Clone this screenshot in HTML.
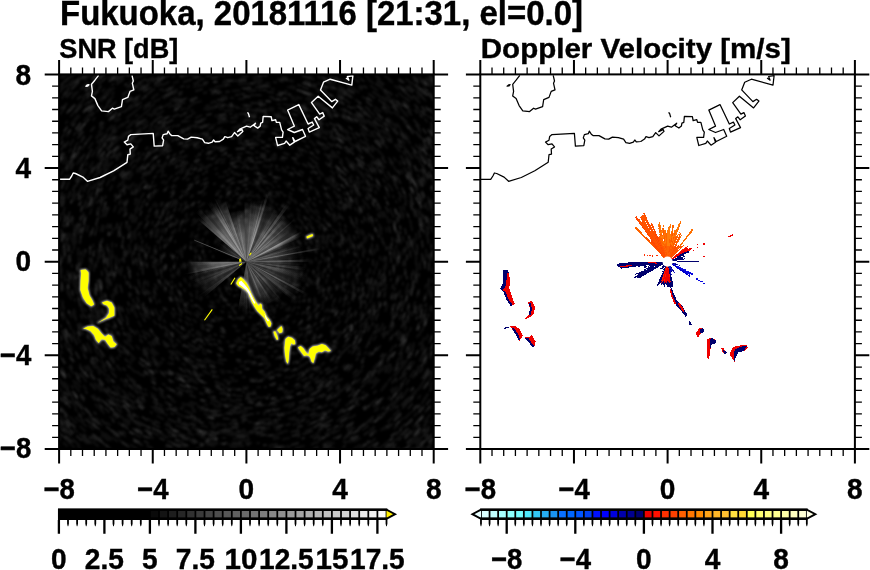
<!DOCTYPE html>
<html><head><meta charset="utf-8"><title>Fukuoka radar</title>
<style>html,body{margin:0;padding:0;background:#fff}svg{display:block}text{font-family:'Liberation Sans',sans-serif;font-weight:bold;fill:#000;stroke:#000;stroke-width:0.4px}</style>
</head><body>
<svg width="870" height="570" viewBox="0 0 870 570">
<defs>
<clipPath id="cl"><rect x="59.1" y="74.4" width="374.6" height="374.6"/></clipPath>
<clipPath id="cr"><rect x="480.3" y="74.4" width="374.6" height="374.6"/></clipPath>
<radialGradient id="h12" gradientUnits="userSpaceOnUse" cx="246.4" cy="261.7" r="12"><stop offset="0" stop-color="#eee" stop-opacity="0.5"/><stop offset="0.55" stop-color="#eee" stop-opacity="0.42"/><stop offset="0.85" stop-color="#ddd" stop-opacity="0.2"/><stop offset="1" stop-color="#ccc" stop-opacity="0"/></radialGradient>
<radialGradient id="h16" gradientUnits="userSpaceOnUse" cx="246.4" cy="261.7" r="16"><stop offset="0" stop-color="#eee" stop-opacity="0.5"/><stop offset="0.55" stop-color="#eee" stop-opacity="0.42"/><stop offset="0.85" stop-color="#ddd" stop-opacity="0.2"/><stop offset="1" stop-color="#ccc" stop-opacity="0"/></radialGradient>
<radialGradient id="h20" gradientUnits="userSpaceOnUse" cx="246.4" cy="261.7" r="20"><stop offset="0" stop-color="#eee" stop-opacity="0.5"/><stop offset="0.55" stop-color="#eee" stop-opacity="0.42"/><stop offset="0.85" stop-color="#ddd" stop-opacity="0.2"/><stop offset="1" stop-color="#ccc" stop-opacity="0"/></radialGradient>
<radialGradient id="h24" gradientUnits="userSpaceOnUse" cx="246.4" cy="261.7" r="24"><stop offset="0" stop-color="#eee" stop-opacity="0.5"/><stop offset="0.55" stop-color="#eee" stop-opacity="0.42"/><stop offset="0.85" stop-color="#ddd" stop-opacity="0.2"/><stop offset="1" stop-color="#ccc" stop-opacity="0"/></radialGradient>
<radialGradient id="h28" gradientUnits="userSpaceOnUse" cx="246.4" cy="261.7" r="28"><stop offset="0" stop-color="#eee" stop-opacity="0.5"/><stop offset="0.55" stop-color="#eee" stop-opacity="0.42"/><stop offset="0.85" stop-color="#ddd" stop-opacity="0.2"/><stop offset="1" stop-color="#ccc" stop-opacity="0"/></radialGradient>
<radialGradient id="h32" gradientUnits="userSpaceOnUse" cx="246.4" cy="261.7" r="32"><stop offset="0" stop-color="#eee" stop-opacity="0.5"/><stop offset="0.55" stop-color="#eee" stop-opacity="0.42"/><stop offset="0.85" stop-color="#ddd" stop-opacity="0.2"/><stop offset="1" stop-color="#ccc" stop-opacity="0"/></radialGradient>
<radialGradient id="h36" gradientUnits="userSpaceOnUse" cx="246.4" cy="261.7" r="36"><stop offset="0" stop-color="#eee" stop-opacity="0.5"/><stop offset="0.55" stop-color="#eee" stop-opacity="0.42"/><stop offset="0.85" stop-color="#ddd" stop-opacity="0.2"/><stop offset="1" stop-color="#ccc" stop-opacity="0"/></radialGradient>
<radialGradient id="h40" gradientUnits="userSpaceOnUse" cx="246.4" cy="261.7" r="40"><stop offset="0" stop-color="#eee" stop-opacity="0.5"/><stop offset="0.55" stop-color="#eee" stop-opacity="0.42"/><stop offset="0.85" stop-color="#ddd" stop-opacity="0.2"/><stop offset="1" stop-color="#ccc" stop-opacity="0"/></radialGradient>
<radialGradient id="h44" gradientUnits="userSpaceOnUse" cx="246.4" cy="261.7" r="44"><stop offset="0" stop-color="#eee" stop-opacity="0.5"/><stop offset="0.55" stop-color="#eee" stop-opacity="0.42"/><stop offset="0.85" stop-color="#ddd" stop-opacity="0.2"/><stop offset="1" stop-color="#ccc" stop-opacity="0"/></radialGradient>
<radialGradient id="h48" gradientUnits="userSpaceOnUse" cx="246.4" cy="261.7" r="48"><stop offset="0" stop-color="#eee" stop-opacity="0.5"/><stop offset="0.55" stop-color="#eee" stop-opacity="0.42"/><stop offset="0.85" stop-color="#ddd" stop-opacity="0.2"/><stop offset="1" stop-color="#ccc" stop-opacity="0"/></radialGradient>
<radialGradient id="h52" gradientUnits="userSpaceOnUse" cx="246.4" cy="261.7" r="52"><stop offset="0" stop-color="#eee" stop-opacity="0.5"/><stop offset="0.55" stop-color="#eee" stop-opacity="0.42"/><stop offset="0.85" stop-color="#ddd" stop-opacity="0.2"/><stop offset="1" stop-color="#ccc" stop-opacity="0"/></radialGradient>
<radialGradient id="h56" gradientUnits="userSpaceOnUse" cx="246.4" cy="261.7" r="56"><stop offset="0" stop-color="#eee" stop-opacity="0.5"/><stop offset="0.55" stop-color="#eee" stop-opacity="0.42"/><stop offset="0.85" stop-color="#ddd" stop-opacity="0.2"/><stop offset="1" stop-color="#ccc" stop-opacity="0"/></radialGradient>
<radialGradient id="h60" gradientUnits="userSpaceOnUse" cx="246.4" cy="261.7" r="60"><stop offset="0" stop-color="#eee" stop-opacity="0.5"/><stop offset="0.55" stop-color="#eee" stop-opacity="0.42"/><stop offset="0.85" stop-color="#ddd" stop-opacity="0.2"/><stop offset="1" stop-color="#ccc" stop-opacity="0"/></radialGradient>
<radialGradient id="h64" gradientUnits="userSpaceOnUse" cx="246.4" cy="261.7" r="64"><stop offset="0" stop-color="#eee" stop-opacity="0.5"/><stop offset="0.55" stop-color="#eee" stop-opacity="0.42"/><stop offset="0.85" stop-color="#ddd" stop-opacity="0.2"/><stop offset="1" stop-color="#ccc" stop-opacity="0"/></radialGradient>
<radialGradient id="h68" gradientUnits="userSpaceOnUse" cx="246.4" cy="261.7" r="68"><stop offset="0" stop-color="#eee" stop-opacity="0.5"/><stop offset="0.55" stop-color="#eee" stop-opacity="0.42"/><stop offset="0.85" stop-color="#ddd" stop-opacity="0.2"/><stop offset="1" stop-color="#ccc" stop-opacity="0"/></radialGradient>
<radialGradient id="h72" gradientUnits="userSpaceOnUse" cx="246.4" cy="261.7" r="72"><stop offset="0" stop-color="#eee" stop-opacity="0.5"/><stop offset="0.55" stop-color="#eee" stop-opacity="0.42"/><stop offset="0.85" stop-color="#ddd" stop-opacity="0.2"/><stop offset="1" stop-color="#ccc" stop-opacity="0"/></radialGradient>
<radialGradient id="h76" gradientUnits="userSpaceOnUse" cx="246.4" cy="261.7" r="76"><stop offset="0" stop-color="#eee" stop-opacity="0.5"/><stop offset="0.55" stop-color="#eee" stop-opacity="0.42"/><stop offset="0.85" stop-color="#ddd" stop-opacity="0.2"/><stop offset="1" stop-color="#ccc" stop-opacity="0"/></radialGradient>
<radialGradient id="h80" gradientUnits="userSpaceOnUse" cx="246.4" cy="261.7" r="80"><stop offset="0" stop-color="#eee" stop-opacity="0.5"/><stop offset="0.55" stop-color="#eee" stop-opacity="0.42"/><stop offset="0.85" stop-color="#ddd" stop-opacity="0.2"/><stop offset="1" stop-color="#ccc" stop-opacity="0"/></radialGradient>
<radialGradient id="h84" gradientUnits="userSpaceOnUse" cx="246.4" cy="261.7" r="84"><stop offset="0" stop-color="#eee" stop-opacity="0.5"/><stop offset="0.55" stop-color="#eee" stop-opacity="0.42"/><stop offset="0.85" stop-color="#ddd" stop-opacity="0.2"/><stop offset="1" stop-color="#ccc" stop-opacity="0"/></radialGradient>
<radialGradient id="h88" gradientUnits="userSpaceOnUse" cx="246.4" cy="261.7" r="88"><stop offset="0" stop-color="#eee" stop-opacity="0.5"/><stop offset="0.55" stop-color="#eee" stop-opacity="0.42"/><stop offset="0.85" stop-color="#ddd" stop-opacity="0.2"/><stop offset="1" stop-color="#ccc" stop-opacity="0"/></radialGradient>
<filter id="bl" x="-20%" y="-20%" width="140%" height="140%"><feGaussianBlur stdDeviation="0.9"/></filter>
<filter id="b2" x="-20%" y="-20%" width="140%" height="140%"><feGaussianBlur stdDeviation="0.6"/></filter>
<filter id="b3" x="-2%" y="-2%" width="104%" height="104%"><feGaussianBlur stdDeviation="0.8"/></filter>
</defs>
<rect width="870" height="570" fill="#fff"/>
<rect x="59.1" y="74.4" width="374.6" height="374.6" fill="#000"/>
<g clip-path="url(#cl)">
<path d="M180 131l3.9 -2.0M86 275l-0.3 -3.3M81 264l-0.0 -1.6M222 101l1.9 -0.3M218 384l-1.6 -0.4M143 309l-2.0 -4.3M275 223l2.1 1.6M77 396l-2.3 -2.9M113 119l2.6 -2.4M365 142l3.3 3.2M298 214l1.5 1.6M83 97l2.4 -2.4M314 235l0.6 1.5M278 244l0.5 0.9M357 336l-1.3 1.9M274 271l-0.6 1.7M332 182l3.4 3.7M103 231l1.0 -4.8M116 258l0.0 -1.3M309 361l-2.8 1.8M387 192l2.2 4.4M282 292l-1.0 1.1M374 428l-3.8 2.9M308 97l5.1 1.9M302 446l-6.3 1.9M166 219l1.4 -2.7M68 247l0.2 -2.5M103 96l5.3 -4.6M108 167l2.0 -2.9M386 105l3.5 3.1M265 405l-5.1 0.7M383 179l1.8 3.0M193 406l-5.7 -2.1M116 140l1.9 -2.1M147 256l0.2 -3.0M158 76l4.0 -1.9M197 287l-1.3 -2.5M318 268l-0.2 2.4M312 95l6.2 2.4M351 402l-4.8 3.6M206 224l0.6 -0.6M297 98l1.8 0.5M137 135l2.5 -2.1M79 74l2.4 -2.1M97 211l0.5 -1.4M387 304l-0.6 1.9M154 205l1.3 -2.0M105 392l-5.2 -5.6M234 256l0.2 -0.4M97 203l1.0 -2.6M370 135l1.2 1.1M415 272l-0.1 2.2M263 85l4.5 0.4M426 398l-4.1 5.3M157 212l0.8 -1.4M348 274l-0.4 3.7M183 158l3.8 -2.3M428 394l-4.4 6.0M366 352l-1.5 1.9M253 208l0.7 0.1M70 179l1.4 -2.9M319 433l-3.9 1.6M410 445l-6.8 6.1M196 157l1.8 -0.9M133 151l3.2 -3.3M396 389l-3.0 3.5M304 374l-1.3 0.7M307 415l-5.2 2.0M340 253l0.1 1.5M355 199l2.3 3.9M423 223l0.8 3.8M414 346l-1.2 2.3M107 131l4.8 -5.2M361 129l4.6 4.0M426 321l-1.1 3.5M265 123l1.3 0.2M423 318l-1.4 4.4M409 237l0.9 6.0M369 153l1.8 2.0M169 165l2.8 -2.2M156 231l0.4 -1.3M400 207l1.3 3.6M278 413l-3.4 0.7M403 262l-0.0 4.1M255 81l4.1 0.2M128 76l6.1 -3.9M124 252l0.3 -4.1M268 197l2.0 0.6M267 368l-1.4 0.3M269 167l1.8 0.4M348 265l-0.1 3.0M344 416l-3.5 2.2M289 264l-0.1 1.5M319 244l0.5 2.2M238 427l-5.1 -0.3M387 427l-2.7 2.3M269 428l-5.9 0.8M110 120l3.2 -3.0M86 165l1.0 -1.7M310 368l-4.2 2.5M117 343l-2.4 -3.9M113 405l-5.6 -5.2M141 431l-3.5 -2.2M242 445l-6.4 -0.2M120 236l0.7 -3.3M186 148l2.2 -1.2M330 82l4.6 2.1M224 81l3.4 -0.4M293 266l-0.1 0.7M428 370l-4.2 7.0M98 174l0.9 -1.5M351 176l1.1 1.4M217 416l-5.4 -1.0M156 130l5.0 -3.5M273 337l-1.0 0.4M81 332l-1.6 -3.6M86 426l-4.6 -4.5M359 106l5.5 4.0M84 398l-3.1 -3.6M186 282l-0.9 -2.9M159 123l3.6 -2.2M148 115l2.0 -1.3M78 150l2.0 -3.1M173 359l-1.8 -1.4M246 141l2.5 0.0M66 168l0.8 -1.6M334 281l-0.3 1.4M237 425l-2.0 -0.1M366 236l0.7 3.1M372 222l1.0 3.2M317 442l-3.5 1.4M371 339l-2.3 3.7M211 205l0.7 -0.5M108 101l5.0 -4.3M155 136l1.4 -1.0M374 401l-4.1 3.8M165 165l1.8 -1.5M231 133l3.1 -0.4M158 435l-6.7 -3.5M264 166l4.2 0.8M175 208l0.5 -0.7M202 252l0.3 -1.5M134 263l-0.0 -1.1M158 108l3.3 -1.9M75 83l3.1 -3.0M146 294l-0.9 -2.8M340 321l-2.0 3.2M388 220l0.8 2.8M428 130l4.0 5.6M300 91l6.0 1.9M393 309l-1.6 4.8M363 127l3.4 2.9M248 387l-4.5 0.1M369 293l-1.2 4.8M315 334l-1.3 1.2M71 124l2.7 -3.4M98 387l-3.3 -3.8M294 309l-1.7 1.8M242 76l6.3 -0.1M339 263l-0.0 2.7M306 99l5.2 1.9M154 102l2.7 -1.6M332 151l3.7 2.9M425 259l0.0 3.7M239 331l-2.8 -0.3M290 315l-0.7 0.6M114 170l3.0 -4.3M173 287l-0.3 -0.8M82 175l2.6 -4.9M318 328l-1.3 1.4M253 248l0.8 0.4M103 409l-2.2 -2.1M426 425l-1.4 1.6M231 382l-5.0 -0.6M227 175l1.5 -0.3M413 153l2.9 4.4M112 271l-0.4 -5.4M109 382l-3.0 -3.4M391 338l-1.2 2.3M395 257l0.0 1.4M60 259l0.1 -4.2M172 127l2.7 -1.5M178 389l-1.1 -0.6M340 389l-1.6 1.2M406 341l-3.0 5.9M168 214l1.1 -1.9M433 295l-0.7 3.7M219 177l1.0 -0.3M97 387l-2.2 -2.6M410 168l1.6 2.8M251 146l2.5 0.1M417 406l-4.8 5.7M295 417l-6.0 1.9M265 344l-1.0 0.2M333 243l0.7 3.2M301 182l0.9 0.6M406 122l3.2 3.7M188 186l2.7 -2.1M425 172l2.6 5.2M172 283l-0.5 -1.9M122 135l1.9 -1.9M398 261l0.0 2.4M399 448l-4.1 3.4M111 146l1.3 -1.5M187 109l2.5 -1.0M156 288l-1.1 -3.7M340 229l0.8 2.3M255 216l1.2 0.2M82 178l3.3 -6.4M106 263l-0.0 -4.1M382 155l1.8 2.3M152 224l0.9 -2.4M416 392l-4.6 6.0M67 86l5.2 -5.3M395 252l0.3 4.1M59 221l1.5 -7.0M368 395l-5.2 4.8M152 115l2.0 -1.3M255 330l-3.2 0.4M329 317l-2.0 3.0M230 281l-0.3 -0.3M352 162l3.9 4.1M301 188l1.0 0.8M153 313l-1.7 -3.1M101 101l4.0 -3.6M277 220l0.9 0.6M284 78l3.3 0.7M232 434l-5.0 -0.4M390 252l0.2 2.4M152 434l-5.3 -2.9M174 83l4.3 -1.7M312 232l0.6 1.3M309 421l-2.5 1.0M72 201l1.3 -3.8M315 149l4.0 2.4M336 264l-0.0 1.5M422 191l2.4 6.0M146 157l3.5 -3.4M170 431l-4.1 -1.9M129 158l2.3 -2.6M308 430l-2.2 0.8M206 154l4.6 -1.7M112 94l1.7 -1.4M206 411l-5.6 -1.5M334 448l-7.0 3.3M182 144l4.7 -2.6M339 86l5.1 2.7M201 214l1.1 -1.1M123 75l3.2 -2.1M191 432l-2.1 -0.7M420 152l2.1 3.4M367 382l-2.7 2.7M78 252l0.2 -3.5M404 147l2.3 3.1M395 86l3.7 3.1M363 362l-1.0 1.2M72 98l6.0 -6.3M155 354l-3.6 -3.5M186 176l3.6 -2.6M290 173l3.1 1.5M178 178l0.8 -0.6M342 418l-4.5 2.7M412 83l2.7 2.6M237 433l-6.7 -0.4M204 168l2.3 -1.0M244 422l-2.3 -0.0M360 351l-3.2 4.1M349 302l-0.8 2.1M179 210l2.0 -2.6M89 148l3.6 -5.1M152 99l1.6 -0.9M266 196l3.2 1.0M390 444l-3.0 2.4M91 111l3.6 -3.7M325 242l0.4 1.5M215 307l-1.8 -1.2M339 392l-3.9 2.8M104 389l-2.3 -2.5M271 214l2.0 1.1M134 167l1.6 -1.9M117 406l-3.8 -3.5M181 223l1.8 -3.1M249 161l3.8 0.1M304 446l-2.1 0.7M237 381l-4.5 -0.4M402 90l3.0 2.7M104 145l4.6 -5.6M278 423l-3.3 0.6M384 243l0.3 2.4M350 429l-2.0 1.2M282 307l-0.9 0.7M197 127l2.1 -0.8M155 299l-1.2 -3.0M135 79l3.4 -2.1M313 144l2.3 1.3M135 372l-2.9 -2.9M83 112l3.1 -3.4M265 314l-0.8 0.3M120 335l-1.6 -2.8M165 190l3.0 -3.4M176 287l-0.6 -1.7M215 398l-5.7 -1.3M195 148l3.8 -1.7M135 77l6.7 -4.0M218 382l-2.7 -0.6M390 247l0.2 2.0M65 281l-0.6 -5.2M400 108l4.2 4.2M198 263l-0.0 -0.9M165 270l-0.3 -3.6M100 258l0.1 -5.1M421 148l1.4 2.2M412 440l-4.1 3.8M79 421l-3.2 -3.4M398 307l-1.6 5.4M119 369l-1.7 -2.0M211 391l-4.7 -1.3M128 156l2.3 -2.6M253 218l0.8 0.1M152 346l-3.3 -3.7M74 285l-0.8 -5.6M73 388l-1.5 -2.1M284 280l-0.8 1.5M174 232l1.0 -2.3M219 321l-1.7 -0.8M223 83l5.0 -0.7M242 163l3.6 -0.1M351 246l0.2 1.6M236 115l1.9 -0.1M220 109l3.5 -0.6M250 90l5.0 0.1M90 349l-2.9 -5.2M251 95l4.1 0.1M201 431l-2.2 -0.6M380 448l-5.7 4.1M364 147l4.6 4.7M243 433l-6.5 -0.1M121 370l-4.2 -4.8M84 206l1.8 -5.3M119 410l-2.5 -2.2M365 128l3.3 2.9M404 152l1.8 2.6M249 194l0.8 0.0M127 135l4.9 -4.6M314 410l-2.1 0.9M353 118l3.7 2.7M297 209l2.3 2.2M267 292l-1.7 1.2M98 446l-5.1 -4.1M207 373l-2.0 -0.7M430 291l-0.6 3.7M346 240l0.3 1.5M338 92l5.8 3.1M154 314l-2.3 -4.0M279 323l-1.4 0.7M60 87l2.2 -2.4M290 236l0.9 1.5M395 124l2.1 2.3M304 83l1.5 0.5M192 114l3.0 -1.1M143 293l-0.9 -3.1M136 308l-1.2 -2.8M110 425l-2.6 -2.2M115 110l4.3 -3.7M385 367l-2.3 3.0M158 79l5.2 -2.5M270 206l2.1 0.9M225 425l-5.3 -0.7M152 413l-1.5 -0.9M258 226l0.9 0.3M81 366l-0.9 -1.5M265 427l-2.2 0.3M134 302l-1.1 -3.0M299 379l-1.7 0.8M175 187l0.8 -0.8M392 368l-3.3 4.6M61 391l-4.0 -5.8M233 352l-2.3 -0.3M144 114l2.4 -1.6M74 200l2.0 -5.6M319 391l-4.1 2.3M159 282l-0.5 -2.2M354 270l-0.2 2.0M300 436l-2.7 0.8M389 80l3.0 2.3M148 353l-3.7 -4.0M339 197l2.6 3.6M182 164l3.9 -2.6M295 334l-2.5 1.7M426 250l0.4 6.3M320 396l-3.1 1.7M331 288l-0.6 1.8M139 308l-0.5 -1.3M400 129l1.2 1.4M99 422l-3.1 -2.8M112 85l1.7 -1.3M319 312l-1.8 2.5M335 99l4.4 2.4M195 381l-4.3 -1.9M393 99l5.7 5.2M402 428l-1.9 1.8M136 116l1.4 -1.1M377 379l-3.4 3.7M368 311l-0.9 2.3M97 111l4.8 -4.8M136 194l1.6 -2.6M67 171l1.6 -3.1M327 212l1.0 1.7M420 263l-0.0 6.2M291 86l3.8 1.0M223 364l-2.2 -0.5M323 276l-0.3 1.4M382 108l5.2 4.6M123 75l2.7 -1.8M345 441l-1.5 0.8M358 144l2.9 2.7M189 386l-2.2 -1.0M413 181l1.2 2.5M321 261l0.0 1.1M298 105l5.3 1.7M320 369l-3.2 2.2M192 225l1.0 -1.4M393 107l5.6 5.3M69 152l1.8 -2.9M397 262l-0.0 3.2M390 162l2.3 3.3M258 357l-3.5 0.4M301 205l1.3 1.2M117 390l-3.8 -3.8M337 138l2.8 2.1M349 291l-0.4 1.4M232 406l-2.4 -0.2M131 187l2.4 -3.7M375 132l1.7 1.7M152 197l1.8 -2.6M119 197l1.0 -1.9M424 347l-1.0 2.1M420 112l3.0 3.5M428 372l-3.4 5.6M222 148l3.5 -0.8M99 152l2.3 -3.1M72 224l1.3 -5.9M319 262l-0.0 2.5M233 128l3.9 -0.4M211 352l-3.8 -1.5M220 289l-1.3 -1.3M217 160l3.5 -1.0M389 364l-3.2 4.4M378 329l-2.0 3.9M229 192l2.4 -0.6M96 232l1.0 -5.1M326 310l-0.9 1.5M218 245l0.8 -1.3M212 327l-3.0 -1.5M128 320l-2.0 -4.1M205 258l0.2 -2.4M73 278l-0.2 -2.4M352 427l-4.1 2.6M97 290l-0.7 -3.9M328 266l-0.2 2.7M370 270l-0.2 2.8M414 153l3.2 5.0M206 360l-1.3 -0.5M428 208l0.6 1.9M162 224l0.4 -0.9M216 232l1.3 -1.3M191 174l1.5 -1.0M337 426l-4.1 2.3M141 375l-2.4 -2.3M139 123l4.6 -3.6M362 312l-1.2 2.9M270 159l4.4 1.0M191 314l-2.1 -2.3M365 250l0.2 2.3M264 121l5.1 0.7M192 393l-2.3 -1.0M200 169l2.2 -1.1M129 75l5.7 -3.6M164 166l1.8 -1.6M239 235l1.3 -0.4M306 210l2.3 2.7M379 96l5.7 4.5M398 368l-1.4 2.0M371 312l-0.5 1.2M63 431l-4.8 -5.2M153 112l2.0 -1.2M147 365l-2.1 -2.0M116 413l-5.0 -4.3M122 408l-4.0 -3.4M352 325l-2.5 4.1M354 389l-1.9 1.6M319 273l-0.4 2.8M223 405l-3.9 -0.6M158 162l1.4 -1.2M244 96l3.9 -0.1M113 258l0.1 -3.4M261 398l-1.2 0.1M374 250l0.3 3.6M308 389l-2.7 1.3M216 434l-1.9 -0.3M298 313l-0.6 0.6M287 330l-3.1 1.8M183 442l-4.4 -1.6M241 411l-1.5 -0.1M328 309l-1.0 1.8M382 212l1.2 3.3M256 363l-1.7 0.2M222 233l1.1 -1.0M369 184l2.8 4.4M210 263l-0.0 -1.0M249 440l-5.2 0.1M356 198l1.2 2.2M171 294l-1.1 -2.5M353 89l5.3 3.3M391 279l-0.2 1.5M172 77l2.7 -1.1M404 302l-1.2 4.7M355 415l-4.3 3.0M290 309l-1.8 1.7M282 329l-1.2 0.7M309 246l0.6 2.5M97 142l1.1 -1.4M349 417l-4.5 3.0M197 383l-4.3 -1.7M270 171l1.8 0.5M217 194l1.8 -0.8M300 424l-1.7 0.5M272 89l2.1 0.3M363 290l-1.1 4.7M226 80l3.8 -0.4M281 426l-6.6 1.4M237 229l0.6 -0.2M301 154l1.5 0.8M65 76l5.4 -5.3M105 436l-1.9 -1.6M385 123l1.3 1.2M329 165l3.2 2.8M129 93l5.5 -3.8M326 395l-4.3 2.6M91 310l-1.5 -4.9M232 424l-2.7 -0.2M420 343l-0.7 1.5M65 318l-1.9 -6.2M89 191l2.3 -5.0M121 397l-3.2 -3.0M81 212l1.3 -4.4M223 328l-1.1 -0.4M358 210l1.6 3.4M295 231l0.8 1.3M354 428l-5.5 3.5M271 184l0.9 0.3M424 338l-2.6 6.1M183 301l-1.9 -3.0M371 300l-0.7 2.4M220 407l-3.1 -0.6M316 300l-1.7 3.0M362 181l0.7 1.0M158 233l0.9 -2.7M365 407l-1.4 1.2M371 378l-4.2 4.5M273 177l3.4 1.1M361 331l-2.7 4.5M189 106l4.1 -1.5M358 149l3.7 3.7M408 162l2.7 4.5M313 249l0.2 1.2M155 356l-3.3 -3.2M231 107l5.4 -0.5M348 162l2.8 2.8M395 406l-3.6 3.7M238 295l-0.8 -0.2M131 142l3.7 -3.6M195 286l-0.7 -1.4M253 130l1.4 0.1M433 215l0.6 2.2M296 369l-1.6 0.7M283 204l1.8 1.1M67 87l6.7 -6.9M384 257l0.1 3.8M157 366l-2.4 -2.1M414 362l-3.4 5.7M420 170l0.9 1.7M134 142l1.4 -1.3M78 283l-0.8 -6.1M231 429l-6.3 -0.6M83 298l-0.8 -3.5M104 434l-2.8 -2.3M271 314l-2.6 1.2M310 222l1.1 1.7M119 436l-6.8 -5.0M142 89l2.8 -1.7M191 413l-5.7 -2.1M373 92l5.6 4.1M325 317l-2.4 3.5M80 129l4.2 -5.3M411 328l-1.2 3.0M281 358l-1.3 0.4M180 171l1.2 -0.9M239 138l2.1 -0.1M113 328l-0.6 -1.2M328 147l1.1 0.8M407 157l4.0 6.1M384 407l-1.9 1.8M227 111l5.9 -0.8M375 310l-1.1 3.1M186 383l-3.0 -1.5M294 128l2.2 0.8M80 342l-2.1 -4.3M113 401l-2.3 -2.2M213 133l2.3 -0.6M374 200l0.9 1.8M243 194l3.1 -0.2M102 441l-1.8 -1.4M394 325l-1.0 2.3M238 182l1.6 -0.2M135 211l2.2 -4.7M433 421l-1.8 2.1M168 410l-1.6 -0.8M331 184l3.3 3.6M65 377l-2.2 -3.4M112 75l6.3 -4.6M256 144l2.8 0.2M401 156l2.8 4.1M111 142l3.9 -4.5M326 148l1.3 0.9M92 302l-1.0 -3.8M162 152l3.2 -2.5M324 378l-3.3 2.2M135 99l5.1 -3.5M212 345l-1.0 -0.4M363 200l2.3 4.3M383 259l0.0 1.3M400 253l0.3 5.7M159 144l4.2 -3.2M197 136l2.7 -1.1M282 76l4.6 0.9M226 268l-0.1 -0.5M327 380l-4.4 3.0M179 341l-1.8 -1.5M341 97l5.9 3.4M416 260l0.0 4.3M258 276l-0.3 0.2M421 158l1.5 2.5M98 168l3.2 -5.1M70 111l4.5 -5.2M132 81l4.9 -3.1M275 270l-0.4 1.5M98 400l-4.3 -4.6M76 120l3.3 -4.0M247 179l1.2 0.0M211 126l3.9 -1.0M382 130l3.5 3.6M339 136l4.5 3.3M410 220l0.9 3.6M374 271l-0.2 2.8M412 365l-2.0 3.2M149 200l1.5 -2.3M427 376l-4.2 6.6M364 392l-1.3 1.2M253 433l-6.6 0.2M152 233l0.9 -3.0M196 273l-0.2 -0.7M221 263l-0.0 -0.4M111 438l-5.7 -4.4M410 312l-1.7 5.6M390 406l-1.4 1.4M299 174l2.9 1.8M162 278l-0.7 -3.7M292 168l2.6 1.3M222 431l-3.0 -0.4M174 317l-0.8 -1.0M282 433l-4.3 0.9M160 249l0.4 -2.5M115 121l1.8 -1.7M169 227l0.7 -1.6M150 107l4.0 -2.5M374 303l-1.1 3.5M303 150l3.7 1.9M232 280l-1.0 -0.8M235 191l1.4 -0.2M142 266l-0.1 -2.4M278 79l3.6 0.6M382 164l2.6 3.6M243 181l3.8 -0.1M170 364l-1.5 -1.1M84 401l-3.1 -3.6M82 220l1.0 -3.7M335 115l2.3 1.4M418 351l-1.2 2.3M185 206l1.9 -2.1M290 393l-4.7 1.6M253 351l-3.3 0.2M344 252l0.3 3.6M325 417l-2.0 1.0M385 76l5.9 4.4M279 261l0.1 2.0M273 231l1.5 1.3M386 302l-0.9 3.0M229 246l0.9 -1.1M169 221l1.2 -2.3M203 195l2.6 -1.7M377 262l0.0 3.1M128 188l1.0 -1.6M275 292l-0.5 0.5M404 196l2.3 5.6M373 434l-2.5 1.9M219 416l-1.4 -0.2M77 286l-0.6 -4.1M404 364l-2.6 4.0M433 268l-0.2 4.6M316 220l1.0 1.6M282 206l2.7 1.7M313 271l-0.1 1.0M199 225l1.2 -1.6M274 404l-5.7 1.1M241 239l1.2 -0.3M432 203l1.5 4.7M365 138l2.3 2.2M426 384l-3.0 4.3M100 409l-4.4 -4.4M366 445l-6.6 4.3M217 133l2.4 -0.6M130 143l3.4 -3.4M285 207l2.7 1.9M298 90l3.7 1.1M354 189l2.3 3.5M61 188l2.5 -6.5M279 325l-1.1 0.6M246 282l-0.7 -0.0M301 273l-0.6 2.9M274 228l0.6 0.5M118 359l-1.2 -1.6M97 138l3.1 -3.7M367 304l-1.5 4.4M82 79l5.8 -5.2M180 342l-1.8 -1.4M123 174l1.0 -1.5M398 293l-0.6 3.0M228 219l0.6 -0.3M393 293l-1.2 5.9M224 307l-1.0 -0.5M76 423l-5.6 -5.9M177 411l-5.2 -2.4M173 300l-1.7 -3.3M245 430l-2.8 -0.0M205 344l-1.4 -0.7M175 402l-3.4 -1.7M356 166l1.4 1.6M193 144l4.9 -2.2M168 285l-0.3 -1.1M259 219l1.3 0.4M84 121l4.8 -5.5M191 166l1.5 -0.9M165 163l1.0 -0.8M308 202l0.9 1.0M324 109l2.6 1.3M372 122l3.1 2.8M372 376l-1.6 1.7M191 345l-1.9 -1.3M418 152l4.2 6.5M248 160l2.6 0.0M108 339l-1.3 -2.4M396 295l-0.7 3.1M151 302l-0.7 -1.6M386 120l3.5 3.4M262 176l3.2 0.6M203 321l-1.9 -1.4M176 220l0.5 -0.9M125 393l-2.5 -2.3M307 115l3.9 1.6M195 262l-0.0 -1.2M84 191l1.1 -2.6M106 343l-1.4 -2.5M210 415l-5.2 -1.2M390 397l-1.7 1.8M163 85l5.2 -2.5M308 206l1.4 1.5M306 336l-1.4 1.1M376 206l1.6 3.8M127 118l5.4 -4.4M334 341l-0.8 0.9M74 135l1.8 -2.5M173 217l0.5 -0.8M176 314l-0.8 -1.2M374 288l-0.9 4.2M155 237l0.8 -3.1M190 75l6.5 -2.0M350 182l0.8 1.1M379 302l-0.4 1.4M151 116l4.9 -3.2M138 417l-5.0 -3.5M91 335l-1.5 -3.3M339 385l-2.2 1.7M93 429l-3.6 -3.3M408 333l-2.3 5.2M370 310l-1.2 3.0M79 336l-1.6 -3.7M251 422l-2.1 0.1M345 91l5.2 3.0M361 172l2.4 3.1M422 313l-1.3 4.5M153 97l3.3 -1.9M213 150l2.2 -0.7M110 339l-2.4 -4.1M148 165l2.5 -2.5M226 425l-3.3 -0.4M171 406l-1.9 -1.0M270 199l2.6 1.0M264 359l-1.5 0.3M309 299l-1.0 1.7M346 386l-1.5 1.2M167 209l0.9 -1.3M82 180l1.2 -2.4M322 242l0.3 1.1M181 250l0.3 -1.6M122 101l1.4 -1.1M431 356l-1.0 2.0M328 442l-4.7 2.1M100 258l0.1 -3.4M130 278l-0.2 -1.1M404 316l-1.6 4.5M409 319l-0.9 2.7M151 126l1.3 -0.9M349 389l-2.3 1.9M129 313l-1.9 -4.4M406 138l4.1 5.3M370 352l-1.8 2.4M128 384l-2.3 -2.2M197 281l-0.5 -1.3M371 164l1.0 1.2M271 310l-2.2 1.1M323 413l-5.9 3.0M118 187l2.1 -3.6M89 332l-1.0 -2.2M225 438l-2.0 -0.2M74 239l0.3 -2.5M330 75l6.4 2.9M380 369l-2.4 3.0M165 322l-1.7 -2.2M217 201l1.7 -0.8M309 384l-4.7 2.4M121 185l1.8 -2.9M270 205l1.1 0.4M91 196l1.5 -3.6M423 415l-5.3 6.2M424 435l-4.7 4.8M363 97l4.9 3.4M287 186l2.3 1.3M416 254l0.2 5.0M171 203l2.4 -3.1M70 145l3.4 -5.2M227 106l4.7 -0.6M198 292l-0.9 -1.4M258 286l-0.9 0.4M102 142l4.4 -5.3M264 116l5.4 0.7M154 110l3.9 -2.3M153 258l0.1 -2.7M144 289l-0.4 -1.4M251 295l-0.6 0.1M212 102l3.6 -0.8M383 281l-0.6 4.4M343 117l5.8 3.9M329 113l5.2 2.9M206 139l5.1 -1.7M270 365l-1.5 0.3M350 96l2.6 1.6M199 80l4.9 -1.3M139 187l2.4 -3.5M219 407l-4.2 -0.8M386 285l-0.9 5.4M385 137l4.0 4.4M187 360l-3.2 -1.9M368 120l2.9 2.5M335 430l-5.2 2.8M75 301l-0.5 -2.0M265 375l-1.5 0.2M406 327l-1.1 2.7M131 242l0.8 -4.3M277 117l1.4 0.3M100 374l-1.6 -2.1M267 183l2.8 0.7M202 128l5.0 -1.7M261 333l-2.9 0.6M415 80l3.4 3.1M116 262l-0.0 -5.0M359 88l2.4 1.6M366 329l-1.5 2.6M237 134l4.8 -0.3M206 401l-4.0 -1.2M88 198l1.0 -2.5M394 295l-0.3 1.5M123 210l1.3 -3.0M275 220l1.1 0.8M61 291l-0.6 -3.5M67 246l0.6 -7.1M76 129l3.9 -5.0M161 177l2.2 -2.2M157 288l-0.7 -2.5M418 446l-1.7 1.6M269 363l-4.0 0.9M349 312l-1.5 3.2M195 180l3.1 -1.9M386 426l-4.8 4.1M173 360l-3.4 -2.5M250 312l-1.3 0.1M265 226l0.5 0.3M185 195l3.0 -2.8M239 212l1.1 -0.2M147 205l0.8 -1.4M62 401l-3.1 -4.1M226 287l-0.8 -0.6M122 99l2.9 -2.2M175 347l-2.4 -2.0M410 202l2.3 6.2M278 104l2.3 0.5M277 444l-3.6 0.6M349 235l1.1 4.1M84 256l0.2 -6.1M162 171l0.9 -0.8M121 175l2.7 -4.0M141 224l0.6 -1.7M285 398l-4.1 1.2M133 349l-3.5 -4.6M284 104l5.5 1.3M387 202l0.8 1.9M130 276l-0.5 -4.5M299 420l-2.4 0.8M182 355l-2.9 -2.0M211 329l-1.5 -0.8M81 230l0.3 -1.7M294 200l1.8 1.4M283 171l2.4 0.9M64 421l-4.1 -4.6M429 95l4.5 4.9M330 198l0.8 1.1M118 128l4.4 -4.2M93 379l-2.6 -3.3M261 295l-1.3 0.6M305 300l-0.9 1.4M337 171l3.0 3.0M345 365l-2.0 1.9M349 441l-4.0 2.3M163 270l-0.4 -3.7M108 78l4.2 -3.2M305 364l-2.2 1.2M430 160l3.2 5.8M93 85l2.2 -1.9M82 262l-0.0 -4.4M127 426l-3.3 -2.4M115 141l3.9 -4.2M404 135l1.2 1.5M351 165l4.0 4.3M246 313l-1.3 -0.0M359 247l0.3 2.3M398 115l4.6 4.7M84 316l-1.2 -3.5M383 97l4.3 3.5M213 419l-6.1 -1.3M294 158l1.8 0.8M157 237l0.4 -1.6M135 359l-2.9 -3.3M171 447l-2.8 -1.1M272 133l4.9 1.0M385 175l2.9 4.5M367 180l1.6 2.4M241 408l-2.1 -0.1M315 298l-1.0 1.9M276 405l-2.2 0.5M390 209l1.8 4.9M383 143l4.3 4.9M432 186l0.7 1.7M101 439l-1.5 -1.2M401 131l4.1 4.8M96 138l3.7 -4.5M93 202l2.3 -5.9M327 405l-5.7 3.3M71 162l3.3 -5.8M317 89l4.2 1.7M146 236l0.3 -1.3M67 446l-3.3 -3.2M388 120l3.4 3.4M110 235l0.4 -2.0M316 130l4.3 2.3M247 116l3.0 0.0M245 419l-3.1 -0.0M140 437l-6.3 -3.8M333 177l1.3 1.3M158 100l1.6 -0.9M250 227l1.4 0.1M195 78l5.5 -1.6M304 278l-0.5 1.9M318 442l-6.5 2.6M328 224l0.8 1.7M216 439l-3.7 -0.6M203 228l0.6 -0.7M433 76l4.9 5.0M406 170l2.6 4.4M200 165l1.6 -0.7M103 390l-4.3 -4.8M399 93l5.0 4.5M181 316l-1.6 -2.0M177 438l-1.5 -0.6M339 394l-3.3 2.3M281 447l-2.9 0.5M295 353l-2.1 1.1M326 222l1.1 2.3M289 328l-1.5 0.9M295 278l-0.3 1.0M289 174l3.7 1.8M236 345l-2.4 -0.3M238 157l1.5 -0.1M406 272l-0.3 4.1M257 379l-2.0 0.2M124 382l-2.8 -2.9M299 384l-4.7 2.0M384 91l3.4 2.8M371 381l-1.5 1.6M117 169l1.1 -1.6M193 375l-3.0 -1.4M229 107l3.3 -0.4M433 335l-1.6 4.2M238 373l-3.9 -0.3M115 329l-1.4 -2.7M254 163l2.2 0.2M186 217l0.5 -0.7M134 288l-0.3 -1.3M126 343l-1.5 -2.1M180 165l3.6 -2.5M93 313l-1.9 -5.6M135 233l1.0 -4.0M291 214l0.6 0.5M225 212l2.0 -0.9M170 227l1.2 -2.6M363 206l1.2 2.5M276 421l-2.4 0.4M423 341l-1.6 3.6M308 198l0.8 0.8M342 217l1.2 2.6M245 412l-5.0 -0.0M69 296l-0.8 -4.1M232 389l-2.9 -0.3M237 408l-3.4 -0.2M368 326l-2.1 4.1M210 90l5.2 -1.1M267 363l-3.7 0.7M103 157l1.2 -1.6M365 112l1.7 1.3M341 286l-0.3 1.1M314 341l-2.1 1.8M80 333l-1.6 -3.6M278 448l-6.4 1.1M386 129l2.5 2.6M253 77l7.4 0.3M162 173l1.7 -1.7M155 396l-3.6 -2.4M251 232l0.5 0.1M173 399l-4.8 -2.5M380 171l1.4 2.0M79 276l-0.3 -3.5M233 258l0.3 -0.9M196 375l-1.8 -0.8M403 283l-0.2 1.6M177 274l-0.3 -1.8M271 196l1.4 0.5M357 184l2.5 3.6M360 296l-0.8 2.8M409 241l0.8 6.0M81 237l0.7 -4.8M77 398l-1.4 -1.8M282 142l4.8 1.4M269 374l-3.0 0.6M312 327l-1.3 1.3M138 388l-1.7 -1.4M403 152l1.3 1.8M95 368l-4.1 -5.8M214 321l-1.2 -0.7M398 331l-0.9 2.1M80 335l-0.7 -1.6M372 184l1.3 2.1M277 194l2.1 1.0M117 416l-2.9 -2.4M374 131l4.4 4.3M426 221l0.4 1.7M201 314l-1.0 -0.9M264 109l3.6 0.4M332 235l0.9 2.9M102 385l-1.5 -1.8M405 448l-6.9 5.9M256 183l1.8 0.2M340 260l0.1 4.0M94 256l0.2 -5.6M283 277l-0.3 0.6M111 176l3.2 -5.1M376 160l3.9 5.0M71 299l-1.5 -6.9M188 428l-4.9 -1.7M78 199l1.4 -3.8M152 352l-1.4 -1.4M354 186l0.9 1.2M269 110l4.0 0.6M354 298l-0.9 2.7M72 267l-0.1 -2.0M301 124l3.8 1.5M191 215l1.7 -2.0M120 138l4.8 -4.8M183 390l-4.8 -2.4M239 130l1.6 -0.1M388 118l3.4 3.4M260 118l3.5 0.3M121 275l-0.3 -3.3M197 148l2.6 -1.1M135 122l2.3 -1.8M386 262l-0.0 5.3M65 428l-3.8 -4.2M355 288l-0.9 3.6M145 355l-1.3 -1.4M158 86l3.6 -1.8M253 184l3.4 0.3M91 291l-0.5 -2.5M282 368l-3.6 1.2M82 166l2.6 -4.5M427 90l4.7 4.9M318 380l-2.4 1.5M363 247l0.6 4.7M63 427l-3.4 -3.8M212 107l2.6 -0.6M334 329l-1.0 1.3M188 127l2.1 -0.9M141 198l2.7 -4.4M433 371l-2.5 4.3M245 366l-4.3 -0.0M341 313l-0.8 1.5M293 391l-4.5 1.6M94 343l-1.6 -3.0M120 436l-5.1 -3.7M338 125l4.8 3.2M410 413l-4.7 5.1M371 375l-3.1 3.4M222 384l-4.3 -0.9M385 186l3.0 5.5M258 429l-2.1 0.1M422 369l-1.7 2.8M373 161l1.5 1.9M231 163l2.6 -0.4M399 331l-2.2 4.8M206 368l-3.9 -1.5M315 427l-5.7 2.4M211 107l4.6 -1.0M372 202l1.7 3.6M372 371l-1.0 1.1M242 81l2.2 -0.0M363 231l0.9 3.5M230 200l1.2 -0.3M192 391l-3.8 -1.6M169 107l2.7 -1.3M322 240l0.8 2.6M361 120l4.3 3.5M75 383l-1.7 -2.4M161 433l-3.4 -1.7M143 408l-4.1 -2.9M394 222l1.0 3.7M417 264l-0.1 6.9M130 386l-1.7 -1.6M257 75l2.6 0.1M413 245l0.6 5.8M153 206l0.7 -1.2M266 397l-3.5 0.5M200 422l-6.0 -1.7M309 103l4.5 1.8M225 433l-3.5 -0.4M307 311l-1.2 1.5M255 328l-3.0 0.4M246 211l2.7 -0.0M80 387l-3.7 -4.9M268 242l1.1 1.2M393 347l-2.8 4.8M72 196l0.8 -2.2M416 408l-1.9 2.2M279 290l-0.4 0.5M206 354l-3.0 -1.3M164 360l-1.8 -1.5M263 232l1.9 1.0M302 376l-3.6 1.8M202 435l-5.4 -1.4M318 178l1.2 1.1M275 384l-4.4 1.0M189 127l3.5 -1.5M388 135l4.0 4.5M123 191l0.7 -1.3M171 218l2.0 -3.4M420 145l2.1 3.1M413 148l2.1 3.1M223 115l2.5 -0.4M207 219l2.2 -2.0M159 151l4.3 -3.4M228 388l-3.8 -0.6M351 192l1.0 1.5M343 251l0.3 2.8M310 356l-1.8 1.2M195 418l-4.0 -1.3M167 310l-0.9 -1.5M348 90l5.9 3.5M271 207l2.7 1.2M159 166l1.1 -1.0M265 357l-3.2 0.6M214 377l-1.5 -0.4M174 316l-2.4 -3.2M297 334l-2.7 1.9M207 427l-5.3 -1.3M187 221l1.7 -2.4M190 144l4.5 -2.1M258 270l-0.6 0.9M397 124l2.6 2.9M84 229l0.8 -4.0M378 325l-1.7 3.7M210 289l-0.7 -0.9M376 370l-3.8 4.6M116 326l-2.2 -4.4M247 411l-5.7 0.0M337 382l-3.6 2.7M388 124l4.2 4.3M323 304l-0.8 1.5M84 300l-1.4 -5.7M161 154l1.8 -1.4M94 328l-2.6 -6.1M360 209l1.7 3.7M86 389l-2.4 -3.0M60 310l-0.6 -2.4M162 97l3.7 -1.9M267 377l-1.2 0.2M369 116l2.3 1.9M295 202l1.3 1.1M272 156l3.9 0.9M137 389l-4.4 -3.8M260 86l5.9 0.5M70 263l-0.0 -3.9M83 310l-1.5 -5.2M278 224l1.3 1.1M280 159l4.0 1.3M432 376l-4.3 7.1M183 444l-1.9 -0.7M238 125l3.3 -0.2M315 340l-2.0 1.7M187 146l2.6 -1.3M165 147l3.8 -2.7M252 239l0.6 0.2M323 148l2.0 1.3M269 337l-3.5 1.0M339 430l-6.3 3.5M330 344l-0.9 0.9M136 79l6.4 -3.9M330 310l-0.9 1.6M192 136l3.8 -1.6M431 189l0.7 1.8M125 207l2.1 -4.7M360 245l0.2 1.4M99 132l4.3 -4.8M236 445l-6.9 -0.4M357 253l0.3 4.1M107 115l3.8 -3.6M249 153l2.0 0.1M67 415l-4.6 -5.4M413 442l-3.9 3.6M333 218l1.7 3.3M374 125l1.2 1.1M139 294l-0.7 -2.4M63 385l-4.0 -6.0M233 91l6.3 -0.5M259 101l3.1 0.2M293 406l-3.5 1.1M299 151l1.9 0.9M398 218l0.5 1.8M281 122l2.2 0.5M230 294l-1.4 -0.7M324 239l0.3 1.0M330 95l3.9 2.0M209 326l-2.4 -1.4M149 318l-1.8 -3.2M236 128l5.2 -0.4M284 98l2.7 0.6M429 160l2.1 3.8M354 383l-3.5 3.1M337 89l2.0 1.0M425 375l-1.1 1.7M77 164l3.7 -6.4M141 326l-2.6 -4.2M298 419l-2.7 0.9M117 81l5.7 -4.1M98 439l-5.3 -4.5M129 377l-1.6 -1.6M251 114l5.1 0.2M392 418l-1.3 1.2M378 283l-0.8 4.8M247 307l-1.7 0.0M359 103l1.6 1.1M263 183l1.9 0.4M62 353l-0.8 -1.7M370 378l-2.7 2.9M105 318l-0.9 -2.2M220 116l5.9 -1.1M264 206l0.8 0.3M333 393l-4.7 3.1M97 212l0.9 -2.8M345 130l3.7 2.8M426 362l-0.9 1.5M87 117l4.3 -4.7M283 269l-0.3 1.3M212 303l-1.6 -1.3M402 349l-2.9 5.3M401 388l-3.9 4.8M71 329l-2.4 -6.2M220 403l-2.1 -0.4M412 240l0.7 5.2M154 187l1.6 -1.9M181 110l3.5 -1.5M427 319l-2.2 6.8M345 388l-5.1 4.0M341 177l1.5 1.6M214 82l2.8 -0.5M391 419l-2.9 2.7M348 365l-3.9 3.8M357 274l-0.2 1.4M368 192l2.1 3.6M197 276l-0.7 -2.6M119 273l-0.4 -3.9M261 426l-3.6 0.3M401 333l-2.8 6.1M93 154l1.9 -2.7M399 80l3.0 2.5M327 445l-2.6 1.1M223 332l-2.5 -0.8M339 357l-1.6 1.6M155 85l5.3 -2.7M137 172l3.7 -4.4M300 296l-1.3 2.0M283 335l-1.5 0.8M83 99l1.4 -1.4M195 128l1.7 -0.7M244 438l-5.4 -0.1M162 363l-1.5 -1.3M97 188l1.6 -3.3M317 241l0.8 2.7M95 424l-3.1 -2.9M371 86l6.0 4.2M144 395l-4.6 -3.5M310 178l0.8 0.6M130 413l-2.0 -1.6M306 294l-1.2 2.2M127 128l1.6 -1.4M427 218l1.3 5.3M272 158l1.2 0.3M65 394l-1.6 -2.2M420 211l1.6 5.5M111 370l-1.8 -2.2M196 270l-0.1 -0.8M152 373l-2.0 -1.7M202 361l-1.7 -0.8M132 156l2.2 -2.4M196 315l-1.5 -1.4M385 93l4.9 4.0M372 162l1.0 1.2M223 118l3.4 -0.6M326 110l1.9 1.0M239 140l2.1 -0.1M224 119l1.6 -0.2M194 250l0.6 -2.6M267 101l2.5 0.3M338 285l-1.0 3.7M420 396l-1.6 2.0M413 271l-0.2 2.7M123 398l-2.1 -1.9M90 174l3.3 -5.9M232 348l-1.1 -0.2M229 193l1.2 -0.3M307 210l0.8 0.9M428 255l0.1 2.6M63 319l-1.4 -4.5M68 251l0.4 -5.7M260 162l2.7 0.4M286 318l-0.9 0.6M360 429l-5.3 3.6M380 212l1.9 5.2M127 159l2.9 -3.3M397 105l2.4 2.3M73 239l0.3 -2.3M131 355l-2.6 -3.2M411 225l1.1 5.0M64 430l-2.6 -2.8M238 266l-0.6 -1.1M243 446l-5.2 -0.1M140 387l-1.9 -1.6M434 245l0.3 2.9M419 195l1.4 3.7M188 325l-0.7 -0.6M199 135l4.6 -1.7M59 302l-0.7 -3.1M229 285l-1.2 -0.9M111 164l1.2 -1.7M419 130l1.7 2.2M255 292l-1.8 0.5M80 162l1.4 -2.3M278 244l0.6 1.1M392 322l-2.2 5.3M418 175l3.3 6.5M212 94l6.3 -1.3M98 81l3.1 -2.5M167 437l-6.3 -2.8M216 273l-0.6 -1.7M361 319l-1.5 3.0M103 166l2.8 -4.2M279 374l-4.5 1.3M420 147l1.2 1.9M395 288l-0.4 2.2M318 170l1.6 1.2M196 271l-0.4 -2.0M87 352l-2.6 -4.5M236 326l-2.7 -0.4M63 252l0.3 -5.5M325 317l-0.9 1.3M418 369l-1.7 2.7M220 433l-2.6 -0.4M212 435l-6.4 -1.3M146 350l-1.8 -2.1M308 362l-1.3 0.8M142 155l1.9 -1.8M72 125l2.8 -3.6M217 104l4.3 -0.8M412 291l-0.6 3.3M323 238l0.4 1.3M240 81l5.4 -0.2M119 213l2.0 -5.2M346 387l-3.7 2.9M297 338l-3.4 2.2M133 361l-1.8 -2.1M155 382l-3.4 -2.6M377 402l-3.8 3.5M133 80l4.5 -2.8M331 176l1.0 1.0M61 139l3.6 -5.5M61 161l1.7 -3.1M325 444l-1.6 0.7M102 425l-6.2 -5.5M115 200l1.6 -3.4M179 231l0.9 -1.9M156 95l1.9 -1.0M120 109l4.3 -3.5M320 173l3.2 2.7M332 202l1.6 2.3M130 422l-4.2 -3.0M78 132l3.9 -5.0M203 343l-1.5 -0.8M358 375l-1.3 1.3M279 146l3.8 1.1M360 371l-1.8 1.8M94 323l-1.6 -4.1M111 147l3.1 -3.7M100 312l-0.8 -2.4M156 233l0.8 -2.6M330 86l5.5 2.6M142 183l2.4 -3.2M318 305l-1.8 3.1M136 191l2.2 -3.4M157 133l2.1 -1.4M348 384l-3.9 3.2M418 372l-2.0 3.1M177 345l-0.9 -0.8M287 108l1.6 0.4M252 131l5.2 0.2M388 247l0.2 2.2M104 264l-0.1 -3.7M195 343l-2.3 -1.5M350 114l1.6 1.1M204 256l0.1 -1.0M310 158l2.1 1.3M238 341l-3.1 -0.3M198 242l1.0 -2.4M409 306l-0.5 1.9M230 313l-1.2 -0.4M73 442l-6.5 -6.2M107 249l0.4 -4.1M171 100l5.2 -2.4M348 238l0.3 1.3M207 110l6.1 -1.6M78 182l2.6 -5.5M110 114l1.6 -1.5M121 274l-0.4 -4.7M122 139l4.0 -4.1M219 201l0.9 -0.4M150 438l-2.1 -1.2M156 352l-3.5 -3.5M398 251l0.4 6.0M285 183l2.1 1.0M327 349l-1.2 1.1M132 433l-2.0 -1.3M364 201l1.0 2.0M155 250l0.5 -4.1M115 395l-2.5 -2.5M124 353l-1.8 -2.4M129 231l1.1 -4.3M382 290l-0.3 1.3M345 302l-1.6 4.0M416 197l2.3 6.0M366 174l1.8 2.5M199 207l1.4 -1.2M100 159l3.8 -5.5M213 313l-2.4 -1.6M342 166l3.8 3.8M360 445l-5.7 3.5M342 379l-2.0 1.6M305 217l1.9 2.5M109 276l-0.3 -2.7M367 204l2.1 4.4M377 404l-1.8 1.7M411 353l-2.7 4.9M304 92l6.1 2.1M264 245l0.6 0.6M352 367l-3.9 3.9M139 202l1.0 -1.9M97 197l0.6 -1.4M357 159l1.1 1.2M84 352l-1.3 -2.4M232 225l1.9 -0.7M416 190l2.0 4.8M394 251l0.4 5.6M334 191l2.8 3.4M274 114l4.1 0.8M370 269l-0.2 3.1M215 404l-4.4 -1.0M137 210l1.1 -2.3M418 335l-0.9 2.1M402 87l4.6 4.1M221 343l-2.1 -0.6M94 271l-0.3 -5.4M355 208l0.9 1.8M338 375l-1.8 1.5M390 446l-4.0 3.1M202 340l-3.4 -1.9M135 187l1.5 -2.2M333 144l3.1 2.3M247 325l-1.0 0.0M417 449l-4.7 4.3M357 143l4.5 4.2M266 359l-3.9 0.8M195 421l-2.4 -0.8M68 263l-0.0 -6.6M396 432l-4.1 3.6M408 284l-0.3 2.2M295 375l-2.7 1.1M285 171l1.7 0.7M217 267l-0.2 -1.2M94 77l3.5 -2.8M328 355l-1.6 1.4M155 268l-0.1 -1.5M285 413l-2.3 0.6M278 344l-3.0 1.2M326 341l-1.5 1.5M373 421l-1.6 1.3M413 240l0.2 1.9M85 373l-3.3 -4.8M112 247l0.5 -4.0M433 200l2.0 6.1M151 149l1.6 -1.3M213 306l-1.0 -0.8M120 156l1.2 -1.4M131 193l1.8 -3.0M128 254l0.2 -2.9M424 257l0.2 6.8M236 149l3.3 -0.3M113 138l1.3 -1.4M322 437l-3.7 1.6M192 234l0.7 -1.4M318 221l0.6 1.1M383 289l-0.2 1.2M377 347l-1.7 2.6M295 419l-3.4 1.0M221 186l2.3 -0.8M307 350l-3.7 2.6M114 211l1.9 -4.9M355 295l-1.1 3.5M186 428l-4.3 -1.6M210 143l1.5 -0.5M395 374l-1.1 1.4M180 254l0.2 -2.0M195 410l-3.0 -1.0M258 423l-4.7 0.4M238 199l1.6 -0.2M287 369l-1.9 0.7M198 220l1.1 -1.2M401 276l-0.3 2.7M184 382l-1.7 -0.9M318 83l2.6 1.0M81 376l-1.5 -2.1M145 96l2.8 -1.7M334 344l-3.3 3.5M414 281l-0.7 6.4M93 421l-3.5 -3.3M131 355l-3.4 -4.2M204 109l5.6 -1.6M341 298l-1.6 4.1M73 95l2.0 -2.1M67 340l-2.2 -5.1M101 135l1.8 -2.1M287 326l-3.0 1.9M194 441l-4.0 -1.2M206 169l1.6 -0.7M424 447l-5.5 5.3M125 142l1.6 -1.6M191 351l-1.0 -0.6M258 329l-0.8 0.1M224 371l-3.2 -0.7M228 405l-4.1 -0.5M185 223l1.8 -2.8M381 417l-4.0 3.5M112 140l2.5 -2.8M318 76l6.2 2.4M354 267l-0.1 1.0M358 230l1.0 3.6M273 347l-2.1 0.6M419 432l-6.3 6.3M290 193l1.6 1.0M160 413l-5.1 -2.9M354 382l-4.9 4.4M317 194l2.5 2.6M157 303l-0.6 -1.3M380 257l0.1 2.4M405 105l5.8 5.9M343 130l4.4 3.2M274 414l-4.2 0.8M219 424l-1.9 -0.3M350 113l2.6 1.8M102 401l-3.1 -3.2M331 171l3.1 2.9M302 111l3.7 1.4M329 155l3.3 2.5M163 213l2.0 -3.5M412 448l-4.0 3.5M273 377l-4.0 0.9M230 398l-3.0 -0.4M415 252l0.1 2.1M340 129l4.1 2.8M79 445l-4.5 -4.1M336 124l4.0 2.6M200 168l3.5 -1.7M72 253l0.1 -2.0M378 409l-1.4 1.3M233 250l0.8 -0.9M332 203l2.5 3.6M129 126l4.7 -4.1M104 144l2.9 -3.5M185 136l5.0 -2.4M237 369l-1.9 -0.2M401 157l3.9 5.7M289 438l-5.8 1.4M295 274l-0.6 2.4M225 111l5.8 -0.8M361 330l-2.3 3.9M146 248l0.5 -3.8M419 420l-2.1 2.3M315 282l-0.5 1.8M122 126l3.2 -2.9M244 175l2.0 -0.1M267 360l-3.0 0.6M120 406l-2.9 -2.5M419 442l-2.3 2.2M277 437l-3.6 0.6M264 192l0.8 0.2M136 121l2.5 -1.9M295 285l-1.2 2.5M316 210l2.3 3.1M297 278l-0.8 2.4M310 209l1.7 2.0M172 437l-2.8 -1.2M424 99l1.4 1.5M266 151l2.9 0.5M103 388l-3.7 -4.2M315 422l-6.4 2.8M313 342l-0.8 0.6M78 234l1.1 -6.7M176 287l-0.3 -0.7M215 412l-4.2 -0.9M368 79l2.7 1.8M126 386l-1.5 -1.4M408 175l3.2 5.9M252 196l3.2 0.3M211 336l-0.9 -0.4M370 442l-2.1 1.5M339 176l1.2 1.3M196 322l-2.8 -2.3M431 447l-5.0 5.0M304 135l4.2 1.9M266 209l2.5 0.9M155 127l1.8 -1.3M115 295l-1.2 -4.7M119 263l-0.0 -3.6M269 229l1.2 0.9M65 96l3.5 -3.8M148 358l-1.6 -1.7M368 165l1.1 1.4M238 220l1.2 -0.2M346 158l3.2 3.1M372 244l0.5 3.2M405 301l-0.6 2.3M85 105l2.9 -3.0M92 317l-1.2 -3.4M175 266l-0.2 -3.3M151 132l2.4 -1.8M181 415l-4.8 -2.1M220 137l1.3 -0.3M105 392l-3.8 -4.1M118 309l-0.5 -1.4M249 200l0.9 0.0M337 343l-2.1 2.4M122 325l-1.5 -2.9M307 109l5.8 2.3M60 158l2.2 -3.9M133 107l4.6 -3.4M431 200l1.0 3.1M310 158l2.4 1.4M317 236l0.4 1.1M85 278l-0.7 -6.5M404 112l3.6 3.8M242 147l3.7 -0.1M245 377l-2.2 -0.0M409 380l-2.7 3.8M112 256l0.1 -1.8M316 336l-2.2 2.1M425 91l5.1 5.4M359 117l2.7 2.1M79 293l-1.0 -5.3M189 335l-1.7 -1.3M326 178l3.6 3.4M223 76l2.1 -0.3M331 398l-4.0 2.5M117 401l-4.3 -4.0M102 217l1.4 -4.4M60 90l3.3 -3.5M387 448l-3.4 2.5M400 369l-3.8 5.5M279 438l-5.1 1.0M414 286l-0.4 2.5M253 255l0.4 0.5M199 266l-0.1 -1.8M142 178l2.1 -2.7M248 231l1.5 0.1M129 274l-0.2 -2.2M348 338l-2.7 3.6M253 168l4.0 0.3M250 215l1.2 0.1M210 340l-3.1 -1.5M240 348l-1.5 -0.1M228 208l1.3 -0.4M194 357l-3.3 -1.8M137 162l3.4 -3.8M304 328l-2.2 1.9M319 177l1.0 0.8M194 87l6.8 -2.0M256 325l-3.1 0.5M360 160l2.0 2.2M100 372l-3.5 -4.7M242 213l1.1 -0.1M242 341l-3.4 -0.2M377 399l-3.1 2.9M217 192l3.3 -1.4M128 134l2.2 -2.1M405 394l-2.5 3.0M378 408l-3.2 2.9M131 364l-2.1 -2.4M104 413l-3.3 -3.1M208 297l-0.8 -0.9M67 221l0.8 -3.7M63 214l1.6 -5.9M184 329l-2.2 -2.0M130 82l5.3 -3.4M288 184l1.3 0.7M380 415l-2.4 2.1M279 290l-0.8 0.9M73 196l1.9 -5.0M285 265l-0.1 0.7M139 191l1.6 -2.5M195 412l-1.9 -0.6M429 164l3.4 6.4M150 294l-0.7 -2.2M73 373l-3.7 -5.8M160 365l-2.6 -2.1M429 95l3.3 3.6M144 309l-1.7 -3.7M375 280l-0.4 2.8M359 114l2.5 1.9M341 239l1.0 4.2M93 247l0.2 -2.4M60 109l1.7 -2.1M197 236l0.8 -1.6M167 337l-2.1 -2.1M427 138l3.0 4.4M244 214l2.4 -0.1M138 403l-2.8 -2.2M185 305l-1.4 -1.9M165 106l6.1 -3.2M197 117l4.3 -1.5M258 197l1.5 0.3M376 201l1.4 2.9M418 210l1.1 3.6M120 323l-1.9 -3.9M226 226l0.8 -0.5M355 246l0.6 4.1M200 349l-0.9 -0.5M141 434l-5.1 -3.1M312 261l0.0 1.9M133 139l3.6 -3.3M319 171l2.8 2.3M110 304l-0.6 -2.0M250 192l2.2 0.1M109 255l0.2 -4.0M110 190l2.2 -4.2M264 305l-2.0 0.8M273 158l2.6 0.7M370 287l-0.9 4.2M195 242l1.0 -2.6M367 319l-0.7 1.5M288 87l6.7 1.6M423 347l-1.4 3.0M376 141l4.2 4.5M254 80l6.7 0.3M224 385l-4.0 -0.7M259 397l-2.1 0.2M396 201l0.6 1.4M185 99l1.8 -0.7M293 120l2.0 0.7M169 179l3.4 -3.2M398 400l-5.4 6.0M224 373l-2.1 -0.4M406 378l-3.6 5.0M144 109l5.8 -3.9M266 304l-2.1 1.0M113 336l-1.8 -3.2M354 245l0.3 1.7M417 180l2.6 5.5M370 167l2.9 3.9M207 158l1.7 -0.7M416 212l1.2 4.2M247 84l5.8 0.0M338 403l-2.8 1.8M138 205l1.9 -3.7M306 227l1.1 1.8M117 418l-3.6 -3.0M249 369l-1.7 0.0M330 207l2.1 3.2M94 178l2.4 -4.4M240 216l1.7 -0.2M141 238l0.2 -1.0M358 170l3.3 4.0M266 300l-1.6 0.8M106 366l-1.9 -2.5M382 369l-3.2 4.1M364 238l0.8 3.8M416 145l1.3 2.0M213 265l-0.1 -0.7M142 399l-2.9 -2.2M115 143l3.2 -3.5M130 252l0.3 -3.2M224 263l-0.1 -1.5M65 423l-2.3 -2.6M73 362l-2.6 -4.5M261 156l3.9 0.5M174 347l-1.5 -1.2M274 317l-1.4 0.7M239 99l4.8 -0.2M318 132l3.5 1.9M334 112l5.3 3.1M385 93l2.7 2.2M91 169l1.0 -1.8M242 168l1.9 -0.1M232 214l2.2 -0.7M330 117l2.3 1.3M62 198l0.8 -2.2M320 367l-4.4 3.1M137 88l5.6 -3.5M213 423l-3.4 -0.7M176 102l6.2 -2.7M251 239l1.0 0.2M347 386l-3.0 2.4M126 227l1.4 -4.7M212 322l-1.9 -1.1M232 290l-0.8 -0.4M268 398l-1.6 0.2M197 404l-5.8 -2.0M64 309l-1.4 -5.2M375 250l0.2 1.7M172 341l-2.7 -2.6M136 315l-1.7 -3.5M306 83l4.0 1.3M181 298l-0.8 -1.5M107 326l-1.2 -2.5M355 189l2.0 3.0M362 118l4.6 3.6M85 425l-1.5 -1.5M330 213l0.8 1.3M207 262l-0.0 -1.3M105 270l-0.2 -2.6M421 218l1.0 3.9M145 437l-3.2 -1.9M301 386l-2.7 1.2M342 179l1.1 1.2M75 243l0.7 -6.3M135 239l0.8 -3.9M163 132l3.3 -2.1M218 426l-6.1 -1.0M148 284l-0.5 -2.4M72 241l0.8 -6.6M173 294l-1.2 -2.7M83 421l-1.9 -1.9M172 343l-0.8 -0.7M200 122l3.4 -1.1M65 131l2.0 -2.8M90 108l2.2 -2.2M253 126l4.9 0.2M215 169l1.7 -0.6M374 92l5.3 4.0M96 428l-3.5 -3.1M283 398l-1.7 0.4M83 334l-2.0 -4.4M329 178l2.2 2.2M129 238l0.4 -2.2M278 186l1.5 0.6M300 106l5.3 1.8M245 160l1.4 -0.0M329 214l1.1 2.0M393 177l3.4 5.9M393 445l-6.8 5.5M155 379l-3.4 -2.6M136 448l-5.3 -3.1M362 283l-0.3 1.4M382 140l2.0 2.3M290 147l2.8 1.1M326 110l4.5 2.4M98 253l0.3 -4.4M317 91l2.5 1.0M419 221l0.9 3.8M199 335l-2.7 -1.7M303 225l1.2 1.8M252 145l4.8 0.2M421 366l-4.1 6.9M234 389l-2.2 -0.2M337 342l-3.3 3.7M371 404l-2.4 2.1M354 252l0.2 2.2M197 374l-4.2 -1.8M376 325l-0.9 1.9M117 287l-0.4 -2.1M185 113l2.0 -0.8M328 158l3.9 3.0M182 392l-2.4 -1.2M159 222l0.4 -0.9M222 217l0.5 -0.3M382 215l0.4 1.2M419 160l1.7 2.8M68 112l4.5 -5.4M277 263l-0.0 0.8M167 438l-3.5 -1.6M430 407l-1.8 2.2M377 82l5.4 3.9M362 335l-2.0 3.1M364 132l3.3 3.0M159 224l0.6 -1.4M324 289l-1.1 3.0M294 299l-1.8 2.3M363 287l-0.5 2.4M407 213l0.6 1.9M184 339l-3.3 -2.6M301 323l-2.7 2.4M350 241l0.5 2.6M344 193l0.9 1.3M291 377l-2.0 0.8M315 409l-1.9 0.9M110 259l0.1 -2.7M415 448l-4.1 3.7M356 311l-0.7 1.6M423 140l1.3 1.9M229 81l4.3 -0.4M213 432l-3.7 -0.7M377 367l-2.9 3.6M148 189l1.9 -2.5M207 316l-1.6 -1.2M180 302l-1.9 -3.1M135 200l0.6 -1.0M94 95l3.6 -3.2M372 336l-3.0 5.1M373 294l-0.9 3.6M64 218l0.7 -3.1M292 99l4.2 1.2M200 259l0.1 -1.4M97 348l-3.0 -5.1M283 118l4.1 1.0M385 444l-5.8 4.4M76 403l-4.1 -4.9M163 419l-5.5 -2.9M394 167l2.5 4.0M201 185l2.8 -1.7M290 199l1.9 1.3M407 287l-1.0 6.1M271 446l-1.7 0.2M231 281l-1.2 -0.9M422 308l-1.1 4.2M297 274l-0.5 2.1M414 80l3.3 3.0M387 97l5.4 4.6M71 317l-1.9 -5.9M148 217l0.8 -1.7M323 272l-0.4 2.5M181 294l-1.5 -3.0M351 431l-2.7 1.7M252 219l1.2 0.2M360 140l3.2 3.0M349 425l-1.5 0.9M161 259l0.1 -3.8M120 389l-2.7 -2.7M264 422l-1.7 0.2M183 133l1.7 -0.8M173 337l-2.2 -2.2M105 375l-2.8 -3.5M113 382l-4.1 -4.6M140 426l-5.6 -3.6M145 75l6.6 -3.6M369 111l4.9 4.0M349 312l-1.9 3.9M428 197l2.2 6.3M404 192l2.1 4.8M315 392l-3.6 1.9M162 169l2.5 -2.3M110 396l-4.9 -5.0M150 336l-2.4 -3.1M105 366l-3.4 -4.7M174 111l2.7 -1.3M348 249l0.5 3.9M119 114l2.9 -2.5M389 135l1.4 1.5M341 109l4.5 2.8M90 167l2.8 -4.6M386 228l0.8 3.3M71 202l1.0 -2.8M355 342l-2.8 3.8M258 336l-1.1 0.2M203 184l1.5 -0.9M336 155l2.1 1.8M165 398l-4.0 -2.4M239 217l2.4 -0.4M411 243l0.5 4.4M382 170l1.5 2.3M98 262l-0.0 -5.0M118 236l1.1 -5.4M239 218l2.2 -0.4M393 215l0.6 1.9M298 352l-3.7 2.1M306 190l2.0 1.7M167 241l0.5 -2.2M401 414l-5.6 5.7M238 436l-2.3 -0.1M404 314l-1.9 5.8M214 446l-1.7 -0.3M377 381l-2.4 2.7M370 154l3.5 4.0M235 228l0.8 -0.3M359 348l-1.0 1.3M425 157l2.1 3.6M214 290l-1.5 -1.7M413 312l-1.0 3.4M99 100l3.9 -3.6M278 242l1.2 1.9M214 206l1.5 -0.9M123 426l-4.4 -3.3M262 234l0.7 0.4M177 259l0.1 -1.9M426 285l-0.4 2.7M79 134l2.4 -3.2M352 408l-2.3 1.7M351 240l0.6 2.9M259 90l1.8 0.1M309 333l-1.6 1.5M403 382l-2.1 2.8M84 282l-0.6 -4.8M143 91l4.0 -2.4M72 350l-2.5 -4.9M164 241l0.4 -1.5M129 142l4.1 -4.1M229 342l-1.8 -0.4M361 298l-1.1 3.6M206 285l-0.5 -0.8M424 326l-1.6 4.5M298 112l2.9 1.0M146 390l-1.2 -0.9M226 400l-4.8 -0.7M328 187l1.3 1.4M323 186l2.6 2.6M190 359l-2.8 -1.6M365 444l-3.6 2.4M429 78l6.4 6.3M70 279l-0.4 -3.7M347 192l1.1 1.6M353 281l-0.7 3.8M242 88l5.8 -0.1M141 251l0.1 -1.0M156 324l-2.2 -3.2M298 240l0.9 2.1M310 152l3.0 1.7M283 347l-1.4 0.6M176 203l0.8 -0.9M190 348l-2.5 -1.7M124 348l-1.1 -1.5M341 130l1.6 1.1M153 267l-0.1 -1.8M390 426l-2.8 2.5M340 335l-2.1 2.6M155 430l-6.5 -3.5M64 198l1.2 -3.4M133 236l1.0 -4.5M68 387l-2.3 -3.2M64 411l-2.5 -3.0M139 118l2.9 -2.2M104 142l2.0 -2.3M276 242l0.6 0.8M256 364l-3.6 0.3M188 418l-5.3 -2.0M270 253l0.3 0.8M109 406l-4.0 -3.8M96 421l-5.7 -5.4M72 337l-1.2 -2.8M260 387l-2.6 0.3M246 324l-1.1 -0.0M294 234l1.5 2.5M129 341l-0.8 -1.2M162 119l1.9 -1.1M257 140l4.4 0.4M95 308l-1.7 -5.5M107 156l3.5 -4.6M235 424l-3.2 -0.2M208 433l-3.3 -0.7M421 408l-2.1 2.5M264 427l-2.0 0.2M377 364l-3.4 4.3M284 112l6.0 1.5M97 368l-3.3 -4.7M178 331l-1.7 -1.6M340 91l6.5 3.5M203 375l-2.8 -1.1M363 187l2.0 3.1M69 258l0.0 -2.0M381 328l-1.5 3.0M424 429l-6.3 6.7M90 338l-2.4 -5.0M286 80l6.8 1.5M223 297l-1.8 -1.1M162 85l6.6 -3.1M160 90l2.2 -1.1M432 352l-1.3 2.8M114 411l-4.4 -3.9M278 124l3.1 0.7M414 76l3.9 3.5M80 448l-2.1 -1.9M416 390l-4.0 5.3M75 335l-1.8 -4.1M243 129l3.5 -0.1M360 124l5.0 4.1M216 174l1.6 -0.5M231 317l-1.9 -0.5M393 266l-0.1 3.7M430 155l0.9 1.6M182 192l1.0 -0.9M216 87l6.6 -1.2M241 404l-4.5 -0.2M333 359l-1.8 1.6M332 152l3.0 2.3M282 365l-1.6 0.5M188 383l-4.3 -2.1M425 119l2.1 2.6M99 346l-2.7 -4.8M302 366l-2.8 1.5M270 419l-4.7 0.7M305 295l-1.0 1.7M343 289l-0.4 1.3M219 232l1.0 -0.9M269 210l1.4 0.6M219 214l2.5 -1.4M93 81l5.5 -4.7M207 243l0.7 -1.5M197 164l1.0 -0.5M386 426l-2.8 2.4M233 196l0.8 -0.2M393 388l-2.0 2.4M155 336l-2.7 -3.3M235 220l1.0 -0.3M358 398l-4.9 4.0M102 297l-1.4 -5.9M327 246l0.2 1.2M82 349l-0.9 -1.8M362 324l-1.5 2.9M393 424l-4.4 4.0M96 295l-0.7 -3.4M153 422l-5.1 -3.0M105 160l2.0 -2.8M274 196l1.8 0.7M364 142l3.8 3.7M183 428l-6.5 -2.5M182 301l-0.6 -0.9M213 308l-1.7 -1.2M187 87l2.2 -0.7M269 139l2.4 0.4M291 412l-3.8 1.1M154 294l-0.6 -1.8M352 133l2.2 1.8M223 415l-2.2 -0.3M131 124l2.1 -1.8M184 222l1.5 -2.4M210 252l0.3 -1.2M349 413l-3.3 2.3M404 168l3.7 6.2M256 330l-1.7 0.2M161 125l5.1 -3.2M194 336l-2.0 -1.4M256 152l1.7 0.2M185 330l-2.0 -1.8M60 341l-1.7 -4.1M85 172l1.4 -2.5M367 280l-0.4 2.4M152 183l1.4 -1.7M189 371l-3.9 -2.1M321 406l-4.3 2.2M102 91l2.3 -1.9M156 272l-0.4 -3.6M279 235l0.6 0.8M427 357l-1.8 3.4M76 442l-2.9 -2.7M377 118l4.2 3.8M193 407l-2.7 -1.0M97 149l3.8 -5.1M426 315l-1.6 5.4M165 176l1.0 -1.0M428 91l4.6 4.9M190 144l2.8 -1.3M408 167l1.3 2.2M295 321l-1.7 1.4M126 402l-1.7 -1.4M124 165l2.5 -3.1M238 282l-1.3 -0.6M394 250l0.1 1.5M370 81l3.3 2.3M113 300l-1.3 -4.6M107 185l2.8 -5.0M317 115l4.5 2.2M357 227l0.5 1.6M306 194l1.0 0.9M121 225l0.5 -1.7M203 281l-0.7 -1.6M210 374l-1.4 -0.4M183 424l-5.9 -2.3M404 361l-2.5 4.0M354 289l-0.4 1.4M155 111l5.5 -3.3M180 227l1.1 -2.0M97 339l-2.6 -5.1M357 404l-2.7 2.1M114 360l-3.0 -4.1M198 203l0.9 -0.8M371 247l0.5 4.5M186 195l1.9 -1.7M338 405l-2.9 1.8M319 226l1.5 3.0M344 282l-0.5 2.2M162 406l-4.9 -2.9M173 106l2.3 -1.1M420 89l5.7 5.7M257 282l-1.0 0.5M213 283l-0.4 -0.6M404 113l1.9 2.0M311 314l-2.1 2.6M319 423l-1.6 0.7M63 163l3.2 -6.0M116 273l-0.4 -4.5M118 272l-0.4 -5.0M339 223l1.0 2.4M163 434l-5.7 -2.8M314 188l2.6 2.4M241 373l-2.4 -0.1M389 331l-1.6 3.3M270 376l-3.1 0.6M419 77l6.6 6.1M327 258l0.2 3.3M115 201l2.0 -4.2M368 214l2.0 5.1M302 91l2.1 0.7M88 288l-0.5 -3.0M157 242l0.2 -1.1M400 388l-3.3 4.0M226 190l2.4 -0.7M189 440l-6.9 -2.2M331 384l-1.4 1.0M105 204l0.7 -1.8M217 444l-6.4 -1.0M418 157l1.6 2.6M68 177l0.9 -1.8M257 187l2.7 0.4M269 298l-0.9 0.6M334 333l-2.4 3.0M236 248l0.5 -0.4M74 249l0.4 -4.9M129 397l-4.9 -4.3M379 380l-2.8 3.2M125 176l2.8 -4.0M428 116l1.2 1.5M191 205l1.8 -1.8M101 391l-2.5 -2.8M399 198l1.2 2.8M125 436l-4.6 -3.2M368 98l4.1 3.1M334 443l-6.8 3.3M98 214l1.9 -6.1M259 433l-2.9 0.2M69 429l-2.7 -2.9M269 209l1.8 0.8M409 429l-5.9 5.7M155 382l-1.1 -0.9M215 428l-2.8 -0.5M197 292l-0.6 -1.0M324 319l-0.7 1.0M404 101l4.8 4.7M190 128l1.5 -0.6M433 374l-2.5 4.2M357 438l-6.5 4.1M259 177l2.4 0.4M427 348l-2.5 5.3M375 228l0.9 3.5M377 149l4.1 4.7M68 276l-0.4 -4.8M114 420l-3.5 -2.9M128 229l1.0 -3.4M220 75l2.1 -0.3M326 124l2.3 1.4M362 397l-5.0 4.2M124 76l5.9 -3.9M283 211l0.6 0.4M221 163l3.0 -0.8M426 153l1.2 1.9M319 115l2.3 1.2M224 444l-3.4 -0.4M177 252l0.2 -1.1M210 337l-1.6 -0.8M357 143l1.4 1.3M294 244l0.9 2.4M98 354l-2.8 -4.4M198 122l4.0 -1.4M343 251l0.3 2.5M316 303l-1.1 1.8M129 248l0.4 -3.3M395 447l-4.7 3.8M182 158l3.2 -2.0M336 167l3.0 2.9M433 221l1.5 7.1M223 319l-2.6 -1.1M135 204l2.4 -4.7M84 189l1.7 -3.9M338 311l-2.0 3.8M310 75l2.0 0.7M73 236l0.2 -1.6M256 311l-1.0 0.2M380 229l1.3 5.4M193 307l-1.4 -1.7M158 367l-0.9 -0.8M153 195l2.6 -3.7M247 88l3.1 0.0M287 377l-1.5 0.5M351 221l1.1 2.8M217 239l1.4 -1.8M403 418l-4.9 4.9M321 127l1.3 0.7M370 327l-1.9 3.7M176 174l3.6 -2.9M258 82l3.5 0.2M190 100l6.4 -2.3M397 380l-1.0 1.3M215 116l4.7 -1.0M362 370l-3.7 4.0M104 79l2.0 -1.6M375 385l-3.1 3.2M147 395l-1.7 -1.2M181 75l7.3 -2.6M215 363l-3.8 -1.2M277 444l-6.0 1.0M406 435l-1.9 1.7M340 159l2.0 1.8M187 445l-1.9 -0.6M222 122l5.8 -1.0M245 337l-2.2 -0.0M346 200l1.4 2.3M338 338l-3.0 3.6M175 392l-4.3 -2.3M274 227l1.3 1.0M88 111l2.7 -2.8M105 93l5.2 -4.3M333 305l-0.7 1.5M330 384l-3.5 2.4M144 286l-0.6 -2.4M160 130l4.8 -3.2M296 424l-2.3 0.7M158 265l-0.0 -1.0M172 277l-0.4 -2.1M400 291l-0.9 4.5M278 369l-2.3 0.7M59 442l-5.8 -6.0M107 116l2.2 -2.1M306 123l1.3 0.6M244 77l3.1 -0.0M202 151l1.0 -0.4M156 166l1.9 -1.8M214 209l1.2 -0.8M66 388l-3.9 -5.6M244 75l3.0 -0.0M396 246l0.2 2.3M366 408l-1.8 1.5M247 285l-0.5 0.0M179 306l-1.5 -2.4M295 307l-1.1 1.2M85 80l6.1 -5.5M383 413l-1.6 1.5M347 139l2.4 2.0M134 397l-4.7 -3.9M371 217l1.8 5.0M157 289l-0.9 -3.0M147 217l0.6 -1.3M358 143l1.5 1.4M163 314l-1.7 -2.7M256 394l-4.5 0.3M138 275l-0.2 -1.6M150 129l1.5 -1.1M190 406l-4.3 -1.7M92 156l2.9 -4.2M258 84l2.0 0.1M271 300l-0.6 0.4M349 164l2.7 2.9M258 202l2.9 0.5M207 233l1.0 -1.4M374 444l-5.9 4.1M261 343l-2.7 0.5M418 438l-5.5 5.4M140 287l-0.6 -2.6M146 367l-1.7 -1.6M325 258l0.1 2.0M324 346l-3.6 3.3M433 374l-1.9 3.1M310 260l0.1 3.0M227 208l0.6 -0.2M235 274l-0.5 -0.5M99 256l0.1 -1.6M123 241l0.4 -2.6M246 273l-0.7 0.0M109 81l4.6 -3.5M423 180l1.6 3.4M179 353l-2.4 -1.8M357 76l2.3 1.4M136 213l1.1 -2.5M203 436l-3.9 -1.0M275 435l-5.0 0.8M282 385l-2.5 0.7M73 433l-4.2 -4.3M277 99l5.3 1.0M199 315l-1.1 -1.0M403 213l0.9 2.7M394 158l1.8 2.5M242 442l-2.2 -0.1M138 373l-1.2 -1.2M214 368l-3.6 -1.1M356 118l5.3 4.0M193 379l-2.9 -1.3M393 253l0.1 2.5M116 260l0.0 -1.4M121 402l-3.7 -3.3M382 131l3.1 3.2M235 115l2.6 -0.2M404 345l-2.1 3.9M287 397l-5.4 1.6M282 93l6.1 1.3M121 164l1.3 -1.6M251 293l-1.2 0.2M235 127l4.4 -0.4M260 190l3.0 0.6M411 420l-6.1 6.3M85 220l1.0 -3.7M155 353l-3.6 -3.6M111 264l-0.1 -5.5M392 243l0.2 1.8M230 268l-0.5 -1.2M129 179l3.4 -4.8M63 303l-0.5 -2.1M340 233l1.2 4.0M143 403l-2.2 -1.6M77 107l1.6 -1.8M205 438l-3.5 -0.8M328 87l4.3 2.0M261 111l4.2 0.4M226 197l2.8 -0.9M318 119l1.7 0.9M79 173l2.5 -4.8M422 437l-6.1 6.1M106 371l-3.6 -4.6M236 447l-5.1 -0.3M103 155l1.3 -1.8M288 308l-2.1 1.9M63 78l6.9 -6.9M157 173l3.4 -3.4M101 371l-4.0 -5.4M270 302l-0.5 0.3M286 304l-1.8 1.7M253 117l2.3 0.1M304 104l1.9 0.7M153 373l-3.0 -2.5M193 435l-4.7 -1.4M148 286l-1.0 -3.9M197 237l0.9 -1.7M429 314l-0.7 2.6M277 195l1.9 0.9M326 82l4.4 1.9M177 299l-1.5 -2.8M234 310l-1.2 -0.3M155 265l-0.1 -2.6M143 361l-2.5 -2.6M192 169l3.5 -2.1M397 426l-2.6 2.4M86 311l-0.5 -1.5M380 329l-1.3 2.6M224 330l-1.1 -0.4M196 369l-3.5 -1.6M278 113l2.3 0.5M155 86l5.0 -2.6M274 421l-4.2 0.7M403 250l0.3 4.0M164 248l0.6 -3.6M242 75l3.7 -0.1M133 308l-1.2 -3.0M237 422l-5.3 -0.3M92 86l5.2 -4.6M283 319l-1.7 1.1M73 244l0.6 -6.1M285 91l2.1 0.5M398 279l-0.2 2.1M324 421l-5.7 2.8M301 377l-1.4 0.7M233 378l-2.4 -0.3M113 399l-4.2 -4.1M62 98l4.1 -4.7M416 306l-1.6 6.2M98 290l-0.4 -2.2M183 130l3.2 -1.5M76 320l-1.7 -4.9M398 362l-1.1 1.7M385 278l-0.6 5.5M243 105l4.9 -0.1M124 443l-4.5 -3.1M397 259l0.1 2.9M307 340l-2.0 1.6M162 232l1.1 -3.0M145 134l3.1 -2.5M306 99l2.8 1.0M423 174l2.8 5.8M174 107l3.7 -1.8M385 366l-1.1 1.4M323 307l-1.2 2.1M308 270l-0.1 1.1M320 123l2.6 1.4M378 287l-0.7 3.4M325 259l0.1 1.9M266 83l3.5 0.4M74 447l-6.7 -6.2M304 134l4.7 2.1M165 376l-3.5 -2.5M286 352l-1.7 0.7M372 278l-0.5 4.3M374 170l2.0 2.8M195 103l5.8 -1.9M316 258l0.1 2.2M389 101l3.1 2.8M316 275l-0.4 2.1M156 158l3.2 -2.8M187 426l-6.1 -2.2M423 178l2.1 4.3M98 209l0.6 -1.6M247 433l-5.6 0.0M195 178l3.6 -2.2M79 391l-4.5 -5.9M85 431l-4.7 -4.5M205 234l1.1 -1.6M256 399l-5.3 0.4M181 78l6.0 -2.1M302 320l-0.7 0.7M88 411l-2.9 -3.1M236 439l-2.6 -0.2M297 97l4.4 1.3M336 133l4.3 3.0M422 384l-4.0 5.8M414 343l-2.1 4.3M368 376l-3.3 3.5M310 141l2.4 1.3M181 396l-4.6 -2.2M168 447l-1.9 -0.8M82 197l0.7 -1.8M415 209l1.1 3.5M379 274l-0.4 4.0M224 247l1.0 -1.6M163 271l-0.3 -2.3M112 129l3.2 -3.3M358 236l0.3 1.3M409 126l4.9 5.8M76 318l-0.7 -2.2M157 232l1.1 -3.3M222 231l1.0 -0.8M254 180l3.7 0.3M130 124l3.6 -3.0M191 345l-0.9 -0.6M313 211l2.2 2.9M172 237l0.5 -1.6M259 180l2.8 0.4M213 340l-1.6 -0.7M230 283l-1.2 -0.9M304 235l0.4 0.8M101 129l1.9 -2.1M128 322l-1.2 -2.4M399 162l1.6 2.5M128 128l4.0 -3.6M276 169l3.6 1.1M312 235l0.9 2.2M305 240l0.3 0.8M196 429l-3.4 -1.0M298 108l5.2 1.7M383 214l1.0 2.9M251 169l1.6 0.1M107 332l-1.8 -3.5M417 435l-6.1 6.0M413 388l-1.2 1.5M108 440l-6.3 -4.9M290 307l-1.3 1.2M218 129l3.6 -0.8M162 120l5.2 -3.1M274 403l-2.6 0.5M275 178l3.3 1.1M137 317l-1.5 -3.0M181 104l3.8 -1.6M255 381l-1.9 0.1M129 189l2.6 -4.2M146 312l-0.5 -1.0M90 340l-1.9 -3.8M101 252l0.4 -5.7M206 283l-0.7 -1.2M248 91l6.3 0.1M276 204l1.3 0.7M129 424l-5.6 -4.1M201 300l-1.3 -1.5M134 87l5.5 -3.5M120 286l-0.2 -1.2M67 136l3.6 -5.1M289 446l-5.4 1.2M255 79l7.1 0.3M242 396l-1.4 -0.0M372 253l0.1 2.0M211 103l4.4 -1.0M141 337l-1.1 -1.6M318 306l-1.6 2.6M415 185l2.3 5.1M208 409l-5.2 -1.4M345 299l-0.7 1.8M399 437l-6.6 5.7M186 382l-3.8 -1.9M374 375l-2.6 2.9M207 372l-3.5 -1.2M261 402l-1.4 0.1M64 248l0.2 -2.1M375 107l5.6 4.6M143 125l4.5 -3.4M313 228l1.1 2.2M266 430l-4.2 0.5M261 247l0.6 0.7M318 116l4.5 2.2M407 360l-2.5 4.1M191 111l1.8 -0.6M261 404l-5.3 0.5M128 355l-3.3 -4.2M239 396l-2.0 -0.1M185 267l-0.2 -2.5M227 188l3.2 -0.8M206 232l0.6 -0.9M240 339l-1.8 -0.2M307 259l0.0 0.7M420 182l2.0 4.4M418 152l1.1 1.8M136 132l4.7 -3.9M253 90l3.0 0.1M251 140l2.4 0.1M398 241l0.3 2.5M283 117l3.7 0.9M302 108l4.0 1.5M175 353l-2.8 -2.2M400 302l-0.6 2.2M129 338l-2.7 -4.2M83 231l0.6 -2.9M234 401l-3.8 -0.3M338 361l-1.8 1.7M291 215l1.4 1.3M258 324l-1.1 0.2M373 135l2.3 2.3M377 443l-3.6 2.6M416 88l6.5 6.3M134 87l5.6 -3.6M120 356l-0.8 -1.1M106 208l0.6 -1.6M236 204l2.4 -0.4M244 436l-6.2 -0.1M123 418l-5.7 -4.5M271 272l-0.3 0.6M179 157l1.6 -1.0M289 196l2.5 1.7M274 384l-1.5 0.3M376 265l-0.1 3.9M148 335l-1.7 -2.2M329 293l-0.5 1.2M172 356l-0.9 -0.7M296 279l-0.7 2.1M182 253l0.3 -1.9M340 102l3.9 2.3M156 295l-0.6 -1.7M136 161l3.8 -4.2M195 404l-4.7 -1.7M160 282l-0.2 -0.9M409 311l-0.6 2.0M253 260l0.2 0.9M167 415l-4.4 -2.2M86 381l-4.3 -5.8M173 341l-3.1 -2.9M389 101l5.5 4.9M152 375l-3.5 -2.9M234 412l-5.3 -0.4M432 434l-4.4 4.8M334 326l-1.5 2.0M140 172l3.3 -3.9M376 336l-2.3 4.0M250 289l-1.4 0.2M62 241l0.8 -7.2M136 250l0.1 -1.3M155 383l-1.2 -0.9M358 373l-4.1 4.1M155 423l-3.3 -1.8M228 431l-4.4 -0.5M314 116l1.3 0.6M158 114l5.2 -3.1M153 433l-5.1 -2.8M131 341l-1.5 -2.2M256 103l5.6 0.4M354 292l-1.0 3.5M186 122l2.7 -1.2M336 285l-0.3 1.3M149 252l0.1 -1.0M76 243l0.2 -2.2M392 123l4.4 4.6M357 193l1.9 3.0M431 306l-0.9 3.8M425 172l3.4 6.8M175 232l0.6 -1.6M303 405l-4.5 1.8M127 445l-5.6 -3.7M249 393l-1.6 0.0M283 369l-3.8 1.3M311 98l3.9 1.5M160 302l-1.0 -2.0M230 276l-0.8 -0.9M393 180l1.4 2.5M128 117l5.1 -4.2M404 122l2.7 3.1M398 398l-5.3 5.9M431 188l0.8 1.9M153 263l-0.0 -1.0M154 252l0.3 -3.1M117 121l2.7 -2.4M93 120l1.6 -1.8M359 404l-1.4 1.1M360 390l-3.8 3.3M171 382l-1.4 -0.9M77 432l-2.6 -2.6M402 357l-1.0 1.6M94 317l-0.7 -2.0M309 326l-1.2 1.1M238 154l4.3 -0.3M295 333l-2.3 1.6M82 406l-4.7 -5.3M252 296l-1.3 0.2M342 274l-0.2 1.9M252 154l1.0 0.1M254 400l-4.5 0.3M137 265l-0.1 -3.2M276 247l0.6 1.2M317 404l-3.6 1.8M353 329l-0.9 1.4M156 192l1.5 -1.9M243 185l3.7 -0.2M334 213l1.6 3.0M405 134l3.6 4.5M418 215l1.7 6.3M360 194l0.9 1.6M361 230l0.7 2.4M233 347l-3.6 -0.6M402 361l-1.4 2.2M197 77l2.7 -0.7M187 141l3.0 -1.5M108 319l-1.3 -3.1M152 331l-1.4 -1.9M68 388l-4.0 -5.6M388 184l1.3 2.4M320 129l5.3 3.0M304 280l-0.2 0.7M165 233l1.3 -3.7M113 296l-0.4 -1.5M423 354l-3.1 6.0M340 142l2.0 1.5M74 281l-0.2 -1.9M130 140l4.6 -4.4M355 181l3.3 4.5M119 127l2.8 -2.6M361 111l5.0 3.8M263 373l-2.3 0.3M75 111l4.6 -5.2M249 361l-1.6 0.0M164 154l4.0 -3.1M323 132l4.2 2.5M74 249l0.2 -2.9M346 344l-2.6 3.2M133 90l4.9 -3.2M319 78l6.4 2.5M395 210l1.3 3.8M303 421l-4.7 1.7M252 362l-2.7 0.2M71 279l-0.4 -3.8M185 222l0.7 -1.2M176 354l-3.6 -2.8M230 391l-1.7 -0.2M252 353l-3.4 0.2M204 137l5.1 -1.7M287 319l-1.4 1.0M101 288l-0.6 -3.2M393 323l-2.0 4.8M273 356l-1.3 0.4M432 292l-0.8 5.1M130 109l4.7 -3.6M331 324l-1.1 1.5M241 362l-3.2 -0.2M400 108l5.0 5.0M64 309l-1.2 -4.6M87 231l0.9 -4.8M384 103l3.8 3.3M357 118l5.3 4.1M411 203l0.9 2.5M114 157l2.3 -2.9M324 425l-4.3 2.0M416 234l0.8 5.0M59 231l0.3 -1.7M109 377l-1.4 -1.7M171 271l-0.3 -2.2M71 116l4.2 -5.1M211 109l3.7 -0.9M199 449l-1.9 -0.5M127 102l4.1 -3.1M419 366l-1.2 2.1M261 208l2.8 0.8M324 301l-0.7 1.5M223 272l-0.4 -0.9M270 108l3.4 0.5M429 224l0.9 4.5M341 379l-3.8 3.1M202 341l-1.3 -0.7M290 80l2.6 0.6M125 206l1.9 -4.1M67 403l-1.6 -2.0M415 430l-4.6 4.6M374 427l-3.7 2.8M380 87l5.7 4.3M302 365l-1.5 0.8M90 270l-0.2 -4.4M317 141l3.3 1.9M422 169l3.2 6.0M419 326l-1.5 3.9M216 250l0.2 -0.6M87 179l1.2 -2.2M396 210l1.9 5.5M270 411l-5.7 0.9M326 242l0.4 1.5M270 191l2.9 1.0M75 313l-1.0 -3.3M216 278l-1.0 -1.9M431 208l2.1 7.1M417 271l-0.3 4.5M133 370l-2.6 -2.8M345 420l-4.5 2.8M319 280l-0.3 1.1M231 98l2.4 -0.2M426 217l0.6 2.3M222 97l4.6 -0.7M145 156l3.1 -3.0M406 79l5.5 4.8M277 257l0.2 1.1M63 206l1.4 -4.6M185 447l-3.5 -1.2M376 378l-3.9 4.4M375 118l2.2 2.0M64 258l0.1 -4.2M417 423l-3.3 3.5M245 114l4.9 -0.0M254 137l4.8 0.3M75 147l2.7 -4.0M433 126l2.2 3.1M355 200l2.5 4.4M66 164l1.8 -3.3M377 113l4.4 3.9M391 439l-5.9 4.8M78 255l0.1 -2.6M105 165l3.1 -4.5M275 123l2.5 0.5M84 421l-5.0 -5.1M236 435l-6.9 -0.4M137 170l1.4 -1.7M294 297l-1.1 1.5M349 273l-0.2 2.1M310 430l-1.7 0.6M241 127l4.5 -0.2M221 389l-4.0 -0.8M418 292l-0.8 4.7M424 375l-2.1 3.4M98 420l-1.6 -1.5M405 424l-4.7 4.5M415 302l-1.3 5.4M282 158l1.2 0.4M337 244l0.3 1.3M269 174l1.7 0.4M387 306l-1.5 4.7M365 238l0.6 2.9M221 208l2.3 -1.1M390 186l2.4 4.5M140 77l5.5 -3.2M350 198l2.7 4.4M328 195l2.4 2.9M375 127l5.0 4.8M222 177l2.0 -0.6M257 272l-0.5 0.5M82 311l-1.5 -5.2M320 223l1.6 3.0M66 123l1.2 -1.6M267 270l-0.3 0.6M256 76l1.8 0.1M420 406l-1.5 1.8M305 265l-0.1 1.9M374 315l-2.1 5.1M314 417l-1.9 0.8M367 194l2.7 4.7M356 436l-5.6 3.5M206 271l-0.4 -2.0M81 276l-0.4 -4.4M328 203l1.8 2.5M335 217l1.5 3.0M398 213l1.3 3.9M240 389l-2.3 -0.1M166 221l1.3 -2.7M117 441l-4.3 -3.1M333 229l0.3 0.9M204 288l-0.4 -0.7M426 294l-0.8 4.1M70 167l1.8 -3.3M302 140l3.1 1.4M161 286l-0.8 -3.0M253 355l-3.0 0.2M90 320l-1.4 -3.8M343 425l-3.2 1.9M378 161l3.0 3.9M61 383l-2.7 -4.1M229 261l0.0 -0.8M145 334l-2.2 -3.1M79 176l3.3 -6.3M165 184l2.2 -2.4M199 429l-6.7 -1.9M107 159l1.4 -1.9M226 181l2.8 -0.7M391 101l1.5 1.3M101 191l0.9 -1.9M221 211l2.1 -1.0M421 441l-3.8 3.7M300 124l4.0 1.5M390 406l-1.8 1.8M121 412l-4.6 -3.8M345 100l4.5 2.7M68 350l-3.0 -5.9M180 75l5.8 -2.1M433 307l-0.9 3.7M182 379l-4.8 -2.6M196 157l4.5 -2.2M219 240l0.6 -0.8M331 442l-4.2 1.9M379 224l0.9 3.0M360 438l-5.6 3.6M323 384l-4.8 3.0M416 274l-0.2 3.6M62 272l-0.2 -3.6M59 446l-3.2 -3.3M408 80l3.5 3.1M353 327l-2.1 3.4M242 109l5.5 -0.2M344 253l0.2 2.9M360 260l0.1 2.9M241 350l-3.2 -0.2M185 365l-2.3 -1.4M311 216l2.0 2.8M411 366l-2.1 3.4M191 237l0.9 -2.0M72 279l-0.6 -6.7M83 408l-3.8 -4.2M433 345l-2.6 5.7M341 232l0.4 1.3M379 403l-4.4 4.1M141 261l0.0 -2.9M195 258l0.1 -1.6M426 309l-1.9 7.1M399 141l3.9 5.0M202 298l-1.2 -1.5M336 187l2.4 2.9M198 367l-2.7 -1.3M300 448l-3.2 0.9M61 410l-3.6 -4.5M301 386l-4.8 2.1M204 444l-3.8 -0.9M331 386l-2.6 1.7M216 212l1.2 -0.7M213 392l-1.4 -0.4M430 371l-2.8 4.7M300 187l2.8 2.0M387 217l1.1 3.5M141 168l3.4 -3.9M300 242l0.7 2.0M128 76l3.6 -2.3M275 144l3.2 0.8M181 173l3.1 -2.3M194 352l-3.2 -1.8M200 86l6.2 -1.6M266 292l-1.4 0.9M265 414l-1.4 0.2M422 305l-0.9 3.8M399 410l-4.0 4.1M63 308l-1.0 -3.9M274 385l-1.7 0.4M375 191l1.2 2.2M73 114l2.4 -2.9M257 426l-2.3 0.2M167 214l1.5 -2.6M192 325l-1.0 -0.8M76 292l-0.9 -5.4M109 92l4.9 -4.0M84 421l-4.7 -4.8M119 228l0.4 -1.4M92 206l2.0 -5.7M400 357l-2.7 4.4M278 266l-0.2 1.5M245 223l2.0 -0.1M172 226l1.2 -2.6M420 203l1.3 3.9M210 153l2.3 -0.8M355 145l2.8 2.6M165 291l-1.1 -3.1M102 257l0.1 -2.2M301 328l-1.2 1.0M145 188l1.5 -2.0M393 402l-4.6 4.9M207 246l0.3 -0.9M232 431l-1.9 -0.2M207 148l4.3 -1.5M172 257l0.1 -0.9M318 267l-0.2 2.9M329 353l-1.6 1.5M153 298l-0.4 -1.0M410 344l-2.0 3.9M194 103l4.2 -1.4M349 118l1.7 1.2M316 250l0.5 2.8M213 442l-6.5 -1.2M179 275l-0.5 -2.2M228 381l-3.9 -0.6M366 169l2.3 3.0M263 293l-0.4 0.2M363 242l0.3 1.7M379 283l-0.7 4.5M336 308l-1.9 3.7M80 199l0.9 -2.3M297 157l1.1 0.5M110 140l3.1 -3.5M230 248l0.2 -0.3M257 169l1.2 0.1M80 131l2.7 -3.5M122 248l0.2 -1.8M334 403l-2.7 1.7M86 436l-1.9 -1.7M303 358l-2.5 1.5M393 130l4.1 4.5M399 410l-5.2 5.3M223 266l-0.3 -1.6M201 170l1.0 -0.5M136 127l5.1 -4.2M175 206l2.5 -3.2M318 237l0.3 1.0M196 183l3.4 -2.2M217 439l-3.0 -0.5M77 411l-1.6 -1.8M354 297l-0.7 2.0M372 235l1.1 5.2M268 428l-6.4 0.8M200 333l-2.6 -1.7M304 83l5.4 1.8M344 147l1.4 1.2M84 278l-0.2 -2.0M377 230l1.3 5.5M334 235l0.4 1.4M219 302l-2.0 -1.4M393 196l0.6 1.4M308 332l-2.3 2.0M360 379l-3.4 3.3M367 121l5.4 4.6M309 110l2.1 0.9M299 189l3.2 2.3M164 256l0.1 -2.4M411 188l2.7 6.1M330 288l-1.1 3.7M390 355l-2.4 3.7M76 157l3.0 -4.9M103 315l-1.1 -2.9M204 383l-4.5 -1.6M339 242l0.6 2.7M428 421l-4.3 4.9M89 412l-1.5 -1.5M103 321l-0.9 -2.2M341 332l-1.0 1.4M399 448l-5.3 4.3M427 375l-2.6 4.2M368 426l-4.9 3.7M90 214l1.5 -4.9M196 137l3.0 -1.2M112 252l0.1 -1.6M331 154l4.3 3.4M99 311l-1.5 -4.4M134 309l-1.3 -3.1M290 144l3.0 1.1M372 306l-0.8 2.1M184 404l-1.5 -0.6M238 267l-0.4 -0.6M60 114l5.0 -6.3M230 184l2.1 -0.5M79 105l5.3 -5.7M344 148l2.2 1.9M88 193l1.7 -4.0M341 264l-0.1 3.8M433 287l-0.2 1.8M109 326l-0.8 -1.8M396 95l1.7 1.5M432 227l0.9 4.8M282 119l2.8 0.7M197 351l-3.3 -1.8M319 142l2.9 1.8M402 140l2.4 3.0M290 447l-1.7 0.4M318 247l0.4 2.2M374 110l4.1 3.5M178 357l-3.2 -2.3M215 131l4.5 -1.1M322 286l-0.9 2.8M415 166l2.9 5.1M361 174l3.4 4.4M177 433l-4.6 -1.9M424 406l-4.7 5.7M198 246l0.6 -1.8M361 230l1.2 4.5M140 269l-0.1 -1.5M123 183l0.8 -1.3M273 307l-1.3 0.7M358 279l-0.6 3.6M91 198l0.6 -1.4M119 393l-1.7 -1.6M282 216l1.8 1.4M386 385l-4.8 5.4M421 224l1.5 7.0M345 179l1.7 2.0M255 391l-1.6 0.1M393 326l-1.8 4.1M212 217l1.2 -1.0M327 240l0.8 2.9M387 107l1.4 1.3M412 147l3.9 5.6M211 159l1.0 -0.3M220 299l-0.5 -0.4M63 182l2.9 -6.6M340 170l2.0 2.1M215 340l-1.6 -0.6M192 263l-0.0 -1.1M220 355l-2.5 -0.7M80 205l1.5 -4.4M146 220l1.2 -2.9M196 143l4.5 -1.9M84 414l-1.7 -1.8M267 279l-0.7 0.8M294 405l-2.7 0.9M82 149l4.0 -5.9M283 357l-2.2 0.9M180 333l-2.1 -2.0M401 135l2.4 3.0M318 414l-3.6 1.7M354 115l4.2 3.1M182 334l-1.5 -1.3M129 175l2.8 -3.8M326 416l-3.4 1.7M84 377l-1.9 -2.7M328 258l0.1 2.1M71 159l3.2 -5.6M231 405l-5.0 -0.5M259 443l-1.6 0.1M209 274l-0.2 -0.6M385 130l3.5 3.7M161 217l1.2 -2.2M168 139l3.8 -2.4M294 105l6.3 1.9M99 158l1.8 -2.6M196 258l0.2 -2.5M97 289l-0.8 -4.3M156 207l1.3 -2.3M391 365l-2.5 3.4M85 208l1.8 -5.6M222 221l1.6 -1.0M74 317l-1.7 -5.2M101 231l1.1 -5.3M157 273l-0.2 -2.0M266 221l1.1 0.5M405 334l-2.9 6.4M184 249l0.3 -1.6M384 212l1.5 4.3M125 278l-0.3 -2.2M401 212l2.0 6.1M271 202l1.9 0.8M408 334l-2.5 5.6M271 306l-0.8 0.4M371 314l-1.6 3.8M173 360l-2.6 -2.0M179 446l-6.0 -2.2M313 389l-4.0 2.1M203 432l-6.4 -1.6M311 237l0.7 1.9M76 407l-4.9 -5.8M282 249l0.7 1.8M67 224l0.6 -2.9M287 207l1.9 1.4M395 228l0.4 1.9M64 387l-2.9 -4.2M224 86l2.1 -0.3M59 410l-1.4 -1.8M180 252l0.3 -2.2M142 316l-1.7 -3.2M428 109l2.6 3.1M98 183l1.2 -2.3M70 377l-1.9 -3.0M338 379l-4.1 3.2M68 294l-1.2 -6.3M296 301l-1.1 1.4M367 274l-0.3 2.5M245 251l0.5 -0.1M311 387l-3.8 2.0M63 226l1.2 -6.0M108 264l-0.1 -4.3M259 198l0.7 0.1M323 137l3.6 2.2M256 345l-1.2 0.1M424 355l-3.3 6.3M128 344l-1.8 -2.5M321 336l-1.8 1.8M414 239l0.5 3.9M327 131l4.9 3.0M184 407l-1.9 -0.8M105 296l-0.6 -2.4M224 149l3.8 -0.8M335 331l-1.0 1.2M77 293l-0.3 -1.9M327 279l-0.8 3.6M366 320l-2.1 4.3M249 183l1.0 0.0M323 324l-2.0 2.4M251 245l1.4 0.4M200 127l5.4 -1.9M344 410l-5.9 3.9M223 133l3.3 -0.6M243 220l2.0 -0.2M153 438l-2.7 -1.4M165 385l-2.0 -1.3M331 177l1.9 1.9M235 167l3.7 -0.4M412 421l-2.1 2.2M69 239l0.7 -5.7M264 434l-6.9 0.7M315 172l2.1 1.6M84 222l1.3 -5.3M178 144l3.2 -1.8M395 316l-0.7 1.8M221 160l3.8 -1.0M216 241l1.2 -1.7M170 242l0.9 -3.5M174 277l-0.5 -2.5M185 310l-1.2 -1.6M370 283l-0.7 4.1M274 336l-1.8 0.7M114 211l1.0 -2.6M64 363l-2.5 -4.5M239 338l-1.0 -0.1M106 343l-0.8 -1.4M385 265l-0.1 5.6M381 227l0.7 2.7M222 363l-2.6 -0.6M329 446l-5.9 2.6M251 352l-2.5 0.1M277 232l1.6 1.7M429 287l-0.7 4.8M98 286l-1.0 -5.8M150 365l-1.8 -1.7M326 180l2.4 2.4M349 86l6.1 3.6M255 166l2.0 0.2M267 352l-1.4 0.3M85 161l2.9 -4.6M210 360l-3.4 -1.3M197 295l-0.6 -0.8M287 317l-1.1 0.8M309 126l5.5 2.5M264 420l-4.8 0.5M139 349l-2.5 -3.1M201 334l-2.7 -1.7M314 156l4.4 2.8M400 237l1.0 5.9M431 203l0.8 2.7M151 258l0.1 -1.4M148 349l-0.8 -0.9M288 227l1.4 1.7M156 254l0.1 -1.6M65 398l-2.7 -3.6M170 424l-3.3 -1.6M262 127l3.0 0.3M387 383l-4.2 4.8M402 161l1.0 1.6M108 318l-1.5 -3.7M197 341l-1.4 -0.9M287 231l0.5 0.7M350 143l4.1 3.6M344 238l0.6 2.5M136 127l4.2 -3.4M198 285l-0.6 -1.3M159 135l4.2 -2.9M221 132l4.9 -1.0M117 160l1.4 -1.8M269 366l-1.1 0.2M406 338l-2.7 5.6M217 238l0.4 -0.5M157 401l-2.5 -1.6M397 387l-4.7 5.6M112 233l1.1 -4.9M176 166l0.9 -0.7M259 280l-0.6 0.4M156 311l-0.8 -1.4M354 401l-3.1 2.3M108 288l-0.5 -2.6M98 340l-2.1 -3.9M161 167l3.1 -2.8M403 206l1.5 4.3M142 249l0.4 -3.1M173 301l-1.2 -2.2M75 119l3.0 -3.6M114 279l-0.5 -3.8M293 406l-4.1 1.3M348 118l5.2 3.7M407 296l-1.2 5.7M265 237l0.6 0.4M239 342l-3.2 -0.3M394 268l-0.3 5.8M198 81l4.0 -1.1M262 364l-1.8 0.3M69 345l-1.2 -2.6M378 286l-0.3 1.8M254 364l-1.8 0.1M417 96l2.1 2.2M282 328l-2.2 1.2M405 150l1.1 1.6M260 206l1.5 0.4M207 405l-2.6 -0.7M318 287l-0.5 1.5M401 170l1.7 2.8M131 337l-2.4 -3.7M196 118l4.0 -1.4M185 281l-0.7 -2.2M60 92l5.6 -6.2M384 107l2.4 2.1M219 386l-2.4 -0.5M417 108l5.5 6.2M80 300l-1.5 -6.6M329 417l-3.1 1.6M417 413l-2.5 2.9M348 418l-2.4 1.6M206 363l-2.9 -1.2M403 237l0.6 3.6M122 177l3.1 -4.6M157 410l-5.1 -3.1M273 187l0.7 0.3M103 385l-4.8 -5.5M420 179l3.1 6.6M224 212l2.4 -1.1M366 329l-1.2 2.2M99 143l2.0 -2.5M131 288l-0.5 -2.3M140 403l-2.9 -2.2M60 78l4.6 -4.6M70 283l-0.2 -1.6M235 306l-1.6 -0.4M140 389l-5.1 -4.2M364 424l-6.3 4.6M197 278l-0.5 -1.4M354 137l2.0 1.7M228 278l-1.2 -1.4M185 76l3.8 -1.3M388 110l3.7 3.5M284 389l-2.5 0.7M287 431l-6.7 1.6M271 201l2.2 0.9M333 329l-2.2 2.8M203 343l-1.8 -1.0M146 112l3.9 -2.6M123 180l1.5 -2.3M198 230l1.6 -2.4M256 280l-0.8 0.4M264 379l-3.2 0.5M251 206l1.0 0.1M139 108l2.7 -1.9M74 230l0.8 -4.6M102 358l-2.2 -3.3M293 236l1.2 2.1M314 120l3.8 1.8M158 354l-2.0 -1.9M143 87l6.8 -4.1M104 169l3.6 -5.5M78 228l0.8 -3.8M314 367l-4.4 2.8M178 106l2.4 -1.1M61 175l2.4 -5.1M394 112l2.5 2.5M392 294l-0.7 3.2M86 95l2.5 -2.4M290 96l4.1 1.1M365 75l3.2 2.0M214 303l-1.7 -1.4M313 237l0.6 1.6M294 247l0.8 2.4M257 294l-1.5 0.5M240 259l0.4 -0.8M284 448l-3.4 0.7M244 439l-6.1 -0.1M267 188l1.2 0.3M215 234l0.9 -1.0M155 254l0.2 -2.8M97 321l-1.9 -4.7M132 168l0.9 -1.1M236 327l-1.7 -0.3M280 301l-0.5 0.4M79 264l-0.1 -6.4M324 241l0.4 1.5M109 316l-1.8 -4.7M206 106l2.7 -0.7M324 363l-2.3 1.7M391 220l0.4 1.4M136 408l-4.5 -3.4M92 182l1.7 -3.3M239 84l6.7 -0.3M258 173l1.0 0.1M273 424l-5.1 0.8M381 402l-4.1 3.9M80 191l1.9 -4.5M215 156l1.2 -0.4M383 324l-1.2 2.5M235 401l-1.9 -0.2M295 162l4.0 2.0M359 430l-3.4 2.3M249 195l1.6 0.1M416 438l-6.8 6.6M399 258l0.1 4.6M399 236l1.0 5.9M358 181l1.7 2.3M318 136l2.2 1.2M132 114l5.5 -4.3M433 382l-2.9 4.5M339 332l-1.7 2.2M254 122l2.3 0.1M188 208l1.8 -2.0M150 163l3.7 -3.7M352 424l-5.3 3.5M132 257l0.2 -4.3M361 160l2.5 2.8M280 79l3.0 0.5M337 324l-1.5 2.2M273 272l-0.3 0.9M91 352l-3.0 -5.1M222 363l-3.9 -0.9M318 377l-4.7 2.9M74 427l-3.7 -3.8M350 351l-1.1 1.3M279 108l5.0 1.0M186 215l0.9 -1.2M362 314l-1.0 2.2M337 144l4.1 3.2M286 361l-3.1 1.2M428 335l-1.7 4.2M280 287l-0.6 0.9M174 374l-4.0 -2.6M421 331l-1.7 4.3M207 339l-2.6 -1.3M412 354l-1.9 3.4M163 91l5.6 -2.7M219 222l0.6 -0.4M245 411l-2.7 -0.0M338 359l-3.0 2.8M282 168l3.1 1.2M278 437l-4.4 0.8M192 414l-4.4 -1.6M187 318l-0.9 -0.9M130 406l-3.3 -2.7M359 155l2.6 2.7M148 375l-3.2 -2.8M206 218l0.8 -0.8M138 333l-1.4 -2.1M98 219l1.0 -3.5M429 219l0.9 3.9M423 345l-1.9 4.0M208 159l1.5 -0.6M236 314l-0.8 -0.2M238 139l3.6 -0.3M188 324l-2.4 -2.2M211 218l0.6 -0.5M138 307l-1.7 -4.0M111 440l-6.5 -4.9M196 276l-0.6 -2.0M182 212l1.8 -2.3M241 238l1.2 -0.3M103 251l0.2 -2.7M122 271l-0.3 -4.1M256 261l0.0 1.0M217 442l-2.8 -0.4M62 287l-0.8 -5.6M202 224l0.9 -1.1M150 371l-4.0 -3.6M164 286l-0.6 -2.2M108 349l-2.3 -3.6M430 415l-5.5 6.6M157 115l5.0 -3.1M100 332l-1.0 -2.1M323 95l1.9 0.9M384 267l-0.1 3.3M423 368l-1.6 2.7M324 219l1.1 2.0M176 159l2.0 -1.3M161 145l4.4 -3.2M201 284l-1.0 -2.1M313 133l5.1 2.7M408 389l-2.4 3.0M370 315l-0.5 1.2M201 336l-2.2 -1.4M414 371l-3.8 5.8M426 203l2.2 6.7M60 374l-1.2 -2.1M246 240l0.5 -0.0M298 369l-1.8 0.9M151 363l-2.7 -2.5M66 189l2.8 -6.9M162 183l1.9 -2.1M391 378l-2.4 3.0M309 85l1.9 0.7M198 312l-0.8 -0.8M75 394l-1.9 -2.4M80 106l1.7 -1.8M166 291l-1.0 -2.7M166 267l-0.1 -1.8M276 115l4.3 0.9M59 420l-2.3 -2.7M267 145l2.8 0.5M158 315l-1.9 -3.2M375 439l-4.0 2.9M265 206l1.3 0.4M249 439l-1.8 0.0M339 195l2.0 2.7" stroke="#fff" stroke-opacity="0.055" stroke-width="2.3" stroke-linecap="round" fill="none" filter="url(#b3)"/>
<path d="M159 344l-2.1 -2.3M175 242l0.2 -0.7M96 414l-1.7 -1.6M208 325l-0.7 -0.4M408 152l4.2 6.2M222 294l-1.3 -1.0M92 264l-0.1 -5.1M355 350l-2.8 3.4M107 228l0.9 -3.6M74 361l-1.2 -2.0M270 174l1.4 0.4M416 307l-1.4 5.4M286 286l-1.2 2.0M83 216l0.7 -2.6M283 222l2.0 1.8M146 175l3.4 -3.9M329 235l0.6 1.9M334 130l4.2 2.8M144 376l-1.3 -1.1M402 397l-1.2 1.4M119 417l-5.3 -4.3M168 374l-3.2 -2.2M152 332l-1.6 -2.2M112 393l-4.1 -4.2M150 234l0.9 -3.2M198 171l2.5 -1.3M415 110l2.4 2.7M240 443l-7.3 -0.3M62 315l-0.7 -2.4M137 125l3.3 -2.7M431 436l-3.4 3.6M396 333l-0.8 1.6M397 177l3.4 6.0M109 412l-3.7 -3.4M252 143l3.1 0.1M344 283l-0.9 4.3M259 413l-2.0 0.2M335 299l-1.5 3.6M185 248l0.6 -2.6M155 214l1.9 -3.6M302 258l0.0 0.7M345 230l0.6 1.7M204 126l5.0 -1.6M358 436l-5.1 3.3M119 233l1.2 -5.4M59 203l0.8 -2.5M123 177l2.4 -3.6M84 399l-3.0 -3.5M124 112l3.7 -3.1M190 262l-0.0 -0.9M192 264l-0.0 -0.8M247 389l-3.7 0.0M107 311l-0.6 -1.6M112 78l4.5 -3.3M126 179l1.1 -1.5M394 129l3.9 4.4M361 243l0.6 3.3M184 381l-3.8 -2.0M88 338l-1.0 -2.1M239 143l3.0 -0.2M305 349l-1.8 1.2M80 243l0.7 -6.3M266 306l-2.0 0.9M298 430l-6.5 2.0M336 377l-1.5 1.2M158 341l-2.3 -2.5M382 364l-2.0 2.6M123 321l-0.7 -1.5M245 178l2.1 -0.0M304 312l-1.7 1.9M82 409l-4.4 -5.0M399 304l-1.2 4.5M392 354l-2.7 4.2M74 83l5.4 -5.2M376 219l0.7 2.1M224 390l-4.4 -0.8M108 150l1.7 -2.1M338 168l3.6 3.5M213 147l2.7 -0.8M111 404l-1.3 -1.2M215 216l0.6 -0.4M142 445l-6.4 -3.7M217 401l-5.4 -1.1M380 346l-2.3 3.6M251 343l-2.6 0.1M424 142l4.3 6.4M342 240l0.9 3.8M166 221l1.2 -2.4M422 165l3.4 6.1M305 419l-2.9 1.1M308 407l-5.4 2.3M321 389l-3.8 2.2M266 146l3.1 0.5M425 429l-1.6 1.7M173 164l3.7 -2.8M127 361l-1.5 -1.8M186 439l-2.2 -0.7M277 177l3.1 1.1M84 328l-1.1 -2.7M418 198l1.9 5.1M70 426l-4.5 -4.9M402 353l-1.0 1.6M338 217l0.7 1.5M393 323l-1.2 2.9M86 318l-0.6 -1.7M149 93l2.3 -1.4M339 175l3.7 3.9M164 374l-3.7 -2.7M300 301l-0.6 0.9M370 420l-4.0 3.1M129 107l2.6 -1.9M423 193l1.2 3.1M256 87l5.9 0.3M351 190l0.7 1.0M396 378l-3.8 4.9M138 432l-4.8 -3.1M71 442l-5.3 -5.2M128 408l-4.0 -3.2M298 85l2.7 0.8M356 80l2.6 1.6M85 293l-0.4 -2.1M353 244l0.7 3.9M401 438l-2.5 2.2M196 372l-2.2 -1.0M411 200l1.7 4.7M155 345l-1.6 -1.7M217 345l-3.3 -1.2M112 139l1.9 -2.1M347 327l-2.2 3.3M362 162l2.5 2.9M61 206l1.5 -5.1M157 372l-1.7 -1.4M225 331l-1.3 -0.4M308 224l0.5 0.7M99 319l-2.0 -5.2M314 398l-4.1 2.0M351 388l-3.5 2.9M258 135l2.1 0.2M91 116l3.0 -3.2M169 285l-1.0 -3.2M160 409l-5.2 -3.0M131 295l-0.5 -1.8M83 157l1.6 -2.4M62 84l5.8 -6.0M383 398l-1.5 1.5M68 396l-2.7 -3.5M188 337l-2.1 -1.7M182 131l1.6 -0.8M326 414l-1.5 0.8M143 271l-0.2 -1.9M158 118l3.2 -1.9M363 126l3.5 3.0M363 288l-0.6 2.4M407 367l-4.2 6.4M171 256l0.2 -2.0M374 307l-1.2 3.5M252 408l-3.0 0.1M108 140l2.0 -2.2M95 440l-4.5 -3.8M358 245l0.5 3.0M143 408l-3.2 -2.3M211 352l-3.7 -1.4M433 255l0.2 4.1M369 234l0.4 1.9M238 189l1.5 -0.2M349 205l1.7 3.1M173 117l4.9 -2.5M349 338l-2.3 3.0M124 262l-0.0 -4.5M353 296l-1.1 3.3M123 95l5.8 -4.3M66 169l1.9 -3.8M321 335l-2.9 3.0M407 176l1.4 2.6M105 198l0.8 -1.7M419 290l-0.7 4.2M81 416l-2.4 -2.6M347 151l1.9 1.8M110 275l-0.2 -2.5M273 342l-1.5 0.5M108 267l-0.1 -3.0M226 212l0.9 -0.4M105 347l-2.5 -4.1M317 314l-1.5 2.0M133 417l-3.9 -2.9M231 172l2.1 -0.4M427 227l1.2 6.1M106 299l-0.7 -2.5M147 188l1.6 -2.2M300 227l1.6 2.4M117 395l-3.0 -2.9M356 222l0.7 2.0M394 313l-1.6 4.7M255 341l-3.6 0.4M337 437l-3.4 1.7M171 405l-5.1 -2.7M392 238l0.5 3.2M414 150l1.5 2.3M123 188l1.7 -2.8M203 247l0.2 -0.6M187 265l-0.0 -0.8M239 413l-4.6 -0.2M413 397l-3.2 4.0M67 97l4.3 -4.6M375 199l0.8 1.7M343 276l-0.4 2.5M107 282l-0.6 -3.9M325 412l-1.7 0.9M370 195l1.5 2.8M188 377l-2.7 -1.4M86 252l0.1 -2.2M65 93l3.3 -3.6M228 75l2.4 -0.2M397 278l-0.7 6.1M262 432l-5.2 0.5M204 93l2.2 -0.6M356 322l-1.2 2.1M120 314l-2.1 -5.0M152 448l-4.7 -2.4M137 143l3.8 -3.5M407 151l1.8 2.6M113 152l1.7 -2.1M215 163l3.2 -1.0M149 174l2.0 -2.2M123 94l1.9 -1.4M61 327l-0.7 -1.9M239 407l-4.2 -0.2M174 225l0.9 -1.9M179 95l2.3 -0.9M113 152l2.1 -2.6M98 305l-0.7 -2.3M250 334l-2.1 0.1M337 367l-2.5 2.1M139 90l5.1 -3.2M197 183l1.0 -0.6M127 408l-3.4 -2.8M376 391l-2.1 2.1M144 407l-2.3 -1.6M283 425l-3.8 0.9M218 433l-6.2 -1.0M406 339l-1.2 2.5M77 82l6.5 -6.2M262 405l-5.8 0.6M148 438l-3.0 -1.7M126 176l3.5 -5.0M411 206l1.3 3.9M368 376l-4.3 4.5M195 161l2.7 -1.4M409 304l-1.5 5.9M133 264l-0.1 -4.6M273 372l-4.1 1.0M225 333l-2.6 -0.8M224 269l-0.5 -1.5M389 444l-3.6 2.8M312 281l-0.8 2.9M149 249l0.2 -1.8M360 340l-0.7 1.0M100 127l3.6 -3.9M349 203l0.7 1.2M278 305l-1.3 0.9M161 204l1.0 -1.5M364 217l1.5 3.9M265 160l1.9 0.4M310 398l-5.3 2.5M117 171l1.1 -1.5M130 219l1.4 -3.9M402 296l-0.5 2.1M200 128l2.4 -0.8M274 262l-0.0 0.7M163 410l-4.3 -2.4M284 195l1.4 0.8M344 80l5.2 2.8M417 312l-0.5 1.7M72 368l-1.5 -2.5M217 318l-2.1 -1.1M167 330l-2.8 -3.3M235 223l1.7 -0.5M386 332l-2.7 5.4M352 433l-2.8 1.7M311 153l1.4 0.8M187 429l-3.0 -1.1M175 422l-6.4 -2.9M343 206l2.1 3.6M84 78l1.9 -1.7M184 165l3.7 -2.4M226 393l-3.3 -0.5M199 202l0.7 -0.6M229 431l-6.7 -0.7M408 111l3.3 3.6M371 132l1.4 1.3M136 106l4.9 -3.5M326 445l-1.8 0.8M322 372l-1.6 1.1M89 441l-5.8 -5.1M85 144l3.4 -4.7M123 238l0.3 -1.7M93 256l0.2 -4.0M376 76l3.6 2.5M86 281l-0.3 -2.2M183 437l-5.1 -1.8M310 301l-0.7 1.1M316 438l-2.0 0.8M373 203l0.9 2.0M305 393l-1.9 0.8M133 262l-0.0 -1.8M249 445l-1.7 0.0M219 150l1.7 -0.4M280 429l-4.0 0.8M268 336l-3.1 0.9M421 199l0.9 2.5M402 301l-1.5 5.8M114 370l-1.3 -1.6M109 120l2.8 -2.7M215 321l-2.8 -1.5M220 291l-0.9 -0.8M203 174l0.9 -0.4M155 345l-3.0 -3.3M316 240l0.6 1.8M130 165l4.0 -4.8M279 226l1.3 1.1M244 185l2.0 -0.1M220 411l-5.6 -1.0M167 245l0.3 -1.4M416 125l3.2 3.9M64 247l0.3 -4.2M64 131l3.1 -4.3M237 188l0.9 -0.1M181 205l0.8 -0.9M284 157l2.9 1.0M325 80l4.4 1.9M298 409l-4.6 1.6M373 323l-1.0 2.1M364 358l-2.4 2.9M406 93l6.1 5.8M193 278l-0.7 -2.4M122 260l0.0 -1.2M73 433l-2.6 -2.6M219 120l5.6 -1.1M249 395l-2.4 0.0M233 167l2.9 -0.4M324 289l-0.9 2.4M175 431l-1.5 -0.6M121 324l-2.6 -5.1M377 167l3.7 5.1M230 288l-1.3 -0.8M290 404l-5.4 1.7M177 409l-2.8 -1.3M315 134l3.8 2.0M172 447l-5.4 -2.2M204 435l-2.1 -0.5M339 317l-0.6 0.9M231 118l6.0 -0.6M96 312l-1.3 -3.9M106 424l-4.3 -3.7M291 173l1.3 0.7M181 87l2.6 -1.0M245 221l2.0 -0.1M112 152l2.8 -3.4M317 192l1.2 1.2M106 211l1.1 -3.0M358 164l1.9 2.2M338 152l1.1 0.9M423 417l-2.8 3.2M165 247l0.3 -1.4M354 406l-4.5 3.3M209 389l-5.1 -1.5M128 325l-0.9 -1.7M429 372l-2.3 3.8M337 184l0.9 1.0M251 103l3.7 0.1M379 291l-0.5 2.3M139 283l-0.6 -2.9M398 139l2.8 3.5M227 216l0.9 -0.4M203 278l-0.3 -0.9M179 272l-0.5 -3.2M240 204l0.7 -0.1M253 203l0.9 0.1M237 305l-1.2 -0.3M334 311l-0.6 1.0M78 271l-0.3 -4.7M268 160l2.2 0.5M328 223l1.1 2.3M145 310l-1.2 -2.6M60 357l-3.2 -6.2M429 427l-4.9 5.4M234 174l3.1 -0.4M216 195l1.0 -0.4M286 341l-3.0 1.5M116 151l3.2 -3.8M108 406l-5.4 -5.2M295 172l2.6 1.4M346 204l1.8 3.1M284 415l-5.2 1.3M310 279l-0.8 2.9M285 333l-1.5 0.8M99 283l-0.3 -2.4M422 157l3.8 6.4M184 146l3.3 -1.8M180 447l-5.1 -1.9M97 191l0.9 -1.8M244 272l-0.6 -0.1M311 241l0.9 2.7M313 171l3.4 2.5M70 163l0.9 -1.6M416 275l-0.5 6.0M430 109l5.5 6.6M67 337l-2.5 -6.0M203 408l-4.9 -1.5M245 180l1.3 -0.0M88 277l-0.4 -4.1M129 273l-0.1 -1.4M172 325l-0.9 -1.1M255 125l5.2 0.3M138 423l-6.0 -4.0M420 180l2.4 5.2M85 439l-5.2 -4.7M73 126l1.6 -2.0M189 425l-5.5 -1.9M181 378l-1.1 -0.6M263 220l0.6 0.3M404 321l-2.4 6.4M299 307l-0.7 0.8M237 410l-4.0 -0.2M298 247l0.4 1.4M63 156l1.5 -2.6M93 95l5.3 -4.8M432 336l-2.5 6.4M138 393l-2.7 -2.3M379 163l1.8 2.4M256 158l1.9 0.2M331 370l-4.5 3.5M304 206l1.5 1.6M279 296l-1.8 1.7M272 435l-4.1 0.6M226 85l3.3 -0.4M240 79l4.1 -0.1M103 175l3.2 -5.3M402 117l3.8 4.1M241 94l3.0 -0.1M259 234l1.2 0.6M84 304l-1.2 -4.6M130 287l-1.0 -4.7M393 305l-1.1 3.8M340 244l0.6 3.2M199 282l-0.9 -2.0M278 300l-1.1 0.9M190 320l-1.5 -1.5M224 216l1.1 -0.5M294 403l-2.1 0.7M302 273l-0.4 2.1M308 224l0.4 0.7M195 270l-0.3 -2.0M406 321l-1.7 4.7M190 372l-1.5 -0.8M391 258l0.1 3.4M318 278l-0.8 3.5M104 98l4.4 -3.8M144 160l4.2 -4.3M257 184l1.8 0.3M144 169l1.2 -1.4M425 350l-1.7 3.5M100 440l-6.3 -5.2M95 400l-3.5 -3.9M428 239l0.5 4.0M62 290l-0.5 -3.0M389 158l3.8 5.2M184 377l-3.8 -2.0M409 290l-0.6 3.3M158 162l1.2 -1.1M171 193l2.6 -2.9M62 262l-0.0 -4.5M118 334l-1.1 -2.0M337 138l4.6 3.4M176 110l2.0 -0.9M136 124l2.6 -2.1M423 215l1.0 3.7M341 102l1.8 1.1M385 197l0.9 2.0M128 353l-3.7 -4.8M208 341l-2.1 -1.0M135 192l1.4 -2.2M153 372l-1.3 -1.1M204 350l-0.9 -0.5M420 305l-1.3 5.1M131 151l4.0 -4.1M424 80l6.0 5.9M134 103l4.3 -3.1M95 389l-4.4 -5.3M166 129l3.4 -2.0M340 89l5.3 2.8M105 216l0.6 -2.0M89 275l-0.2 -2.9M400 413l-4.7 4.7M251 317l-1.4 0.1M235 280l-0.8 -0.5M226 394l-5.5 -0.9M335 396l-2.5 1.6M87 158l2.5 -3.9M346 349l-3.5 3.9M351 186l0.8 1.1M240 198l2.9 -0.3M398 276l-0.5 5.1M331 269l-0.2 2.2M416 373l-2.9 4.5M429 130l4.2 5.8M265 195l1.0 0.3M277 400l-2.0 0.4M396 444l-2.6 2.1M266 256l0.2 0.8M104 175l3.4 -5.5M374 431l-4.0 3.0M246 97l3.7 -0.0M277 447l-1.9 0.3M305 92l6.7 2.3M135 334l-2.2 -3.4M136 247l0.3 -2.6M126 223l0.4 -1.3M324 438l-4.5 2.0M209 267l-0.1 -0.7M336 333l-0.9 1.1M201 120l4.5 -1.4M65 400l-1.4 -1.9M372 146l2.9 3.2M326 426l-6.0 2.9M116 342l-1.8 -3.0M122 247l0.6 -5.1M66 336l-1.9 -4.6M390 252l0.2 2.4M378 115l4.4 3.9M169 95l2.3 -1.1M378 133l4.8 4.9M114 422l-1.6 -1.3M306 274l-0.4 2.1M406 159l4.1 6.3M273 377l-2.0 0.5M433 344l-1.9 4.3M141 404l-3.7 -2.8M430 406l-4.5 5.7M330 137l4.5 3.0M327 111l1.6 0.9M97 156l3.4 -4.9M347 335l-1.6 2.2M411 131l2.0 2.5M224 172l3.2 -0.8M372 353l-1.8 2.4M276 192l2.1 0.9M258 132l4.8 0.4M363 366l-1.2 1.4M147 355l-3.3 -3.6M290 424l-3.6 1.0M144 252l0.2 -2.0M202 367l-2.1 -0.9M326 297l-0.4 0.8M250 399l-4.2 0.1M378 314l-2.2 5.5M74 234l0.4 -2.6M342 185l2.4 3.0M305 81l5.0 1.6M182 169l2.9 -2.0M296 154l3.6 1.6M87 95l5.9 -5.7M407 429l-6.5 6.2M337 287l-0.7 2.6M260 428l-6.6 0.5M222 150l3.1 -0.7M218 377l-4.7 -1.2M291 105l4.0 1.2M107 275l-0.5 -5.0M311 250l0.2 1.1M408 401l-3.3 3.8M79 328l-1.4 -3.6M208 216l1.0 -0.8M112 318l-1.5 -3.5M221 356l-2.6 -0.7M120 175l2.3 -3.4M309 312l-1.9 2.3M193 362l-2.9 -1.6M154 121l4.0 -2.6M376 431l-5.7 4.4M367 295l-0.6 2.1M170 397l-2.4 -1.3M240 280l-0.4 -0.1M101 149l3.8 -4.9M353 107l2.1 1.5M429 137l4.1 6.0M279 401l-4.6 1.1M96 363l-3.1 -4.7M75 427l-2.9 -3.0M233 271l-0.6 -0.8M273 99l5.9 0.9M255 111l3.8 0.2M130 236l0.9 -3.9M341 135l2.3 1.7M422 310l-0.7 2.5M287 167l1.1 0.5M306 116l1.9 0.8M313 436l-1.9 0.7M340 128l1.4 1.0M65 82l5.5 -5.5M399 79l2.3 2.0M77 227l0.7 -3.2M131 380l-1.4 -1.4M296 128l4.0 1.5M108 148l4.5 -5.5M159 243l0.6 -2.9M433 280l-0.2 2.3M310 330l-2.1 1.9M203 382l-1.3 -0.5M264 278l-1.2 1.2M351 164l2.1 2.2M282 217l0.6 0.5M431 245l0.2 2.4M116 80l6.6 -4.7M111 285l-1.0 -5.4M347 296l-0.7 1.9M312 377l-1.8 1.0M145 228l1.0 -3.1M392 296l-0.6 2.5M331 131l1.6 1.0M63 290l-0.8 -4.9M233 282l-0.5 -0.4M138 294l-0.7 -2.5M246 417l-3.7 -0.0M338 97l3.9 2.2M79 149l1.6 -2.4M203 134l5.1 -1.7M172 188l0.9 -0.9M197 368l-3.0 -1.4M394 306l-1.3 4.4M219 387l-3.0 -0.7M111 158l3.5 -4.6M81 142l3.3 -4.6M315 249l0.5 2.4M216 295l-0.5 -0.4M213 439l-4.8 -0.9M187 308l-2.2 -2.8M234 230l1.7 -0.7M378 159l3.1 3.9M171 207l2.1 -2.9M195 417l-3.8 -1.2M384 123l2.9 2.9M72 396l-4.8 -6.3M241 249l1.3 -0.5M204 189l1.1 -0.6M403 375l-2.8 3.9M332 388l-3.8 2.6M100 317l-2.1 -5.4M237 234l1.4 -0.5M131 159l3.2 -3.6M431 117l4.1 5.3M248 88l2.4 0.0M173 334l-1.0 -1.0M199 307l-1.8 -1.9M432 388l-1.8 2.6M269 301l-1.5 0.8M283 218l0.9 0.8M309 402l-4.3 1.9M306 433l-2.8 1.0M274 384l-3.8 0.9M60 266l-0.1 -6.4M135 222l1.7 -4.7M229 278l-0.9 -0.9M377 245l0.6 5.1M323 225l1.2 2.5M172 94l4.0 -1.8M76 186l2.6 -6.0M423 149l1.5 2.4M191 243l0.3 -0.9M361 133l3.3 3.0M161 317l-0.7 -1.2M244 392l-1.2 -0.0M132 101l5.5 -4.0M310 165l3.9 2.5M124 257l0.1 -4.1M284 99l1.6 0.4M128 429l-6.1 -4.3M172 92l4.8 -2.1M133 409l-5.5 -4.2M352 365l-3.5 3.6M371 217l1.5 4.1M64 335l-1.6 -4.1M428 369l-2.4 4.1M324 294l-1.0 2.5M62 159l1.7 -3.0M323 418l-4.5 2.2M343 313l-0.7 1.4M155 292l-1.1 -3.3M216 335l-1.6 -0.7M177 138l2.8 -1.6M276 116l5.7 1.2M62 348l-1.7 -3.5M410 182l0.7 1.5M318 216l1.8 2.8M309 240l0.8 2.3M314 198l1.1 1.1M304 288l-0.3 0.7M120 236l0.3 -1.5M256 222l1.0 0.2M340 351l-1.0 1.1M283 446l-5.1 1.0M428 162l1.5 2.8M182 162l1.4 -0.9M155 262l-0.0 -3.6M348 89l5.6 3.3M298 174l0.8 0.5M381 125l2.3 2.2M173 373l-4.5 -3.0M402 393l-4.6 5.4M236 95l2.7 -0.2M112 118l1.8 -1.7M179 93l3.0 -1.2M380 165l2.4 3.3M378 80l5.6 4.0M263 86l6.5 0.6M357 112l5.8 4.3M275 312l-1.0 0.6M71 339l-2.4 -5.4M127 87l4.6 -3.1M174 203l2.4 -2.9M271 119l4.5 0.8M329 287l-1.1 3.7M237 318l-0.7 -0.1M172 187l1.8 -1.8M251 117l4.5 0.1M80 169l2.5 -4.5M68 198l2.2 -6.1M333 215l0.7 1.3M340 400l-1.6 1.1M216 280l-0.8 -1.5M135 382l-3.4 -3.1M358 430l-5.0 3.3M310 186l1.4 1.2M199 378l-3.4 -1.4M163 412l-3.8 -2.1M426 319l-1.8 5.7M188 446l-4.3 -1.4M311 226l1.1 2.0M125 212l1.1 -2.8M337 134l1.9 1.4M300 252l0.5 2.6M66 240l0.7 -6.3M342 207l1.5 2.6M208 76l2.0 -0.4M145 401l-2.1 -1.5M166 283l-0.8 -2.9M302 190l1.6 1.2M64 372l-2.2 -3.7M168 152l2.8 -2.0M115 196l0.8 -1.6M130 272l-0.2 -2.4M99 401l-1.4 -1.5M214 184l0.9 -0.4M170 240l0.8 -2.7M156 217l1.9 -3.7M297 241l0.4 1.0M353 423l-2.6 1.7M378 214l1.2 3.2M69 165l1.5 -2.8M135 384l-4.8 -4.4M179 375l-2.1 -1.3M277 147l4.6 1.2M252 296l-1.8 0.3M255 258l0.4 0.9M237 290l-0.9 -0.3M116 158l4.1 -5.2M280 81l2.6 0.5M278 266l-0.3 2.0M397 101l5.3 5.0M427 354l-3.5 6.9M202 310l-1.8 -1.7M358 343l-2.9 4.0M185 372l-3.2 -1.8M419 196l1.9 4.9M382 359l-3.0 4.2M114 133l2.4 -2.5M303 87l5.1 1.7M104 147l2.0 -2.5M265 343l-3.6 0.8M145 106l5.5 -3.6M280 419l-5.0 1.1M108 210l0.8 -2.2M228 181l3.3 -0.8M395 145l4.7 5.9M420 219l1.6 6.3M413 350l-1.8 3.3M295 362l-2.1 1.0M237 108l2.1 -0.1M357 190l2.3 3.6M220 341l-1.6 -0.5M92 324l-1.1 -2.6M136 248l0.4 -2.9M393 335l-1.7 3.3M224 299l-0.7 -0.4M171 301l-1.7 -3.3M284 153l4.6 1.6M357 158l2.2 2.3M72 360l-1.5 -2.7M369 343l-2.8 4.2M271 165l1.0 0.3M282 79l4.5 0.9M349 127l3.0 2.3M262 131l2.1 0.2M288 139l1.7 0.6M142 425l-6.0 -3.8M101 289l-0.6 -3.2M71 169l2.7 -5.1M66 433l-2.9 -3.0M189 430l-2.2 -0.7M108 251l0.2 -2.7M179 293l-1.4 -3.1M215 91l3.5 -0.7M379 236l0.3 1.4M153 159l2.1 -1.9M178 326l-2.3 -2.4M76 129l4.5 -5.8M387 370l-1.5 2.0M319 103l4.8 2.2M142 389l-4.5 -3.7M234 346l-3.7 -0.5M394 317l-1.6 4.2M193 330l-1.0 -0.8M231 106l1.8 -0.2M309 234l0.5 1.2M415 183l2.0 4.3M243 144l5.1 -0.2M343 409l-2.7 1.8M400 415l-5.8 5.8M126 133l1.4 -1.4M93 337l-0.8 -1.6M233 207l2.2 -0.5M77 344l-3.2 -6.6M170 226l1.3 -2.8M174 391l-5.4 -3.0M142 251l0.2 -1.5M268 222l2.2 1.2M331 446l-6.2 2.9M368 218l1.4 3.8M101 205l2.2 -5.6M426 139l2.9 4.3M211 307l-1.6 -1.3M157 404l-3.3 -2.1M350 345l-3.5 4.3M252 295l-1.7 0.3M145 91l5.8 -3.4M319 355l-3.4 2.6M134 403l-4.1 -3.2M413 283l-0.8 6.0M80 136l3.2 -4.2M309 219l0.5 0.8M391 101l5.8 5.2M146 339l-2.2 -2.9M148 197l1.1 -1.7M259 178l2.5 0.4M165 119l4.4 -2.5M157 430l-3.6 -1.9M157 343l-3.2 -3.5M198 349l-1.8 -1.0M431 187l0.7 1.8M61 278l-0.5 -5.2M166 230l0.8 -2.0M195 145l3.2 -1.4M309 85l6.4 2.3M156 252l0.2 -1.6M311 226l1.1 2.1M212 265l-0.1 -0.6M427 234l0.5 3.4M376 185l2.7 4.5M218 118l4.0 -0.8M164 150l4.6 -3.4M410 251l0.4 5.7M310 188l1.0 0.9M277 146l4.0 1.1M282 157l3.8 1.3M422 254l0.3 6.9M228 81l4.2 -0.4M191 418l-4.0 -1.4M419 135l2.6 3.5M64 94l5.0 -5.4M71 158l2.3 -3.8M404 163l0.9 1.4M322 335l-1.0 1.1M407 399l-5.1 6.0M368 279l-0.6 4.0M106 316l-1.1 -2.9M185 192l0.9 -0.8M363 361l-0.9 1.1M251 83l4.6 0.1M122 434l-3.1 -2.3M255 173l3.8 0.4M62 188l1.1 -2.9M339 214l1.9 3.6M182 122l3.3 -1.5M91 131l3.2 -3.8M274 154l1.7 0.4M254 241l1.0 0.4M310 127l1.2 0.6M83 372l-3.4 -5.0M117 198l1.2 -2.5M405 229l1.0 5.0M91 90l2.6 -2.4M299 242l0.9 2.5M367 323l-2.6 5.1M419 405l-1.6 1.9M209 129l3.9 -1.1M248 109l1.7 0.0M233 308l-1.4 -0.4M236 312l-2.1 -0.4M324 230l0.5 1.3M385 90l2.5 2.0M130 297l-1.1 -3.5M96 267l-0.1 -4.1M316 102l5.1 2.2M160 219l0.6 -1.2M375 306l-1.6 4.6M252 116l3.2 0.1M89 111l5.0 -5.3M59 220l0.4 -1.8M345 446l-1.7 0.9M195 440l-2.9 -0.8M175 444l-6.8 -2.7M204 326l-2.5 -1.7M192 75l3.8 -1.1M319 436l-3.9 1.6M213 217l1.6 -1.2M67 416l-5.8 -6.7M71 77l3.3 -3.1M114 363l-3.7 -4.8M264 428l-2.6 0.3M133 218l1.1 -2.8M133 419l-5.1 -3.6M167 159l1.9 -1.5M207 320l-2.3 -1.6M415 105l2.2 2.4M201 431l-3.9 -1.0M328 385l-2.9 2.0M200 365l-3.2 -1.4M431 176l3.3 7.0M241 400l-4.2 -0.2M270 395l-1.5 0.3M164 257l0.2 -3.3M129 367l-1.2 -1.4M190 248l0.5 -2.3M255 393l-4.2 0.3M203 270l-0.2 -1.3M386 188l1.1 2.0M151 168l3.3 -3.4M316 166l2.2 1.6M394 434l-2.6 2.2M413 96l6.4 6.5M179 432l-1.6 -0.6M317 421l-5.5 2.4M273 133l2.2 0.5M412 399l-2.1 2.5M188 304l-0.9 -1.3M139 400l-1.7 -1.3M296 226l1.0 1.5M386 354l-3.1 4.7M65 378l-3.8 -6.0M59 159l3.2 -5.8M385 276l-0.6 5.3M92 172l3.1 -5.3M356 158l2.8 3.0M223 351l-2.1 -0.6M179 360l-3.2 -2.2M195 342l-1.5 -1.0M247 145l2.4 0.0M216 107l2.9 -0.6M191 197l1.8 -1.6M396 393l-2.3 2.6M110 107l5.6 -4.9M344 351l-3.5 3.8M209 139l1.5 -0.4M209 362l-1.2 -0.5M223 105l2.4 -0.4M266 318l-2.8 1.0M179 161l1.1 -0.8M129 87l1.5 -1.0M102 275l-0.3 -3.4M399 256l0.1 1.8M114 337l-3.0 -5.4M340 162l2.0 1.9M223 237l0.7 -0.6M117 84l6.3 -4.6M424 441l-3.5 3.5M317 152l1.4 0.9M60 199l2.1 -6.2M257 162l2.6 0.3M262 148l2.8 0.4M407 242l0.8 6.5M330 123l5.3 3.2M318 240l0.4 1.2M306 146l2.8 1.4M116 229l1.3 -5.4M283 266l-0.2 1.6M304 300l-0.8 1.2M139 302l-1.6 -4.4M386 257l0.1 2.6M279 92l4.1 0.8M353 437l-2.0 1.2M134 254l0.2 -3.4M420 115l1.8 2.1M241 372l-1.1 -0.1M202 341l-2.0 -1.1M126 101l5.2 -3.9M250 276l-1.1 0.3M345 225l0.8 2.2M403 103l5.1 5.1M232 274l-0.4 -0.5M412 188l1.4 3.1M81 408l-5.0 -5.6M78 130l2.3 -2.9M70 261l0.0 -6.3M329 263l-0.1 3.8M173 193l1.3 -1.4M285 249l0.2 0.7M244 436l-6.4 -0.1M293 397l-3.4 1.1M245 335l-1.3 -0.0M281 262l-0.0 1.0M245 141l3.7 -0.0M102 242l0.2 -1.5M261 111l5.4 0.5M66 377l-2.0 -3.2M417 198l0.8 2.2M310 166l3.6 2.3M238 175l2.7 -0.3M143 174l1.0 -1.2M148 156l1.5 -1.4M215 243l0.8 -1.3M266 330l-2.3 0.6M235 395l-1.8 -0.1M162 79l6.7 -3.1M389 227l1.3 5.2M270 423l-6.1 0.9M183 179l2.0 -1.5M417 250l0.2 3.4M68 219l1.6 -6.7M216 372l-4.4 -1.2M410 349l-2.1 4.0M171 427l-5.6 -2.6M338 95l4.8 2.6M318 125l2.6 1.4M229 169l1.2 -0.2M116 246l0.2 -1.2M356 231l0.6 2.1M153 193l2.0 -2.8M327 236l0.9 2.9M274 378l-3.9 0.9M346 83l3.4 1.9M102 385l-1.7 -2.0M405 203l0.8 2.1M320 144l2.5 1.5M223 312l-1.6 -0.7M308 371l-4.6 2.5M292 234l0.9 1.5M189 387l-3.4 -1.5M320 381l-3.8 2.3M391 244l0.5 4.6M391 257l0.2 5.2M164 134l4.7 -3.0M266 435l-4.8 0.5M156 120l5.3 -3.4M154 136l3.2 -2.4M328 289l-0.3 0.9M352 327l-1.3 2.1M405 260l0.1 5.3M93 189l2.4 -5.0M315 337l-2.5 2.3M69 395l-1.3 -1.7M150 188l1.9 -2.5M95 235l0.4 -2.0M185 203l0.8 -0.9M360 86l2.6 1.7M394 226l1.4 5.8M174 269l-0.2 -2.2M211 445l-3.9 -0.8M358 264l-0.1 2.4M376 421l-1.4 1.1M283 357l-2.6 1.0M210 344l-1.3 -0.6M237 149l4.4 -0.4M353 223l1.4 3.9M262 320l-1.2 0.3M348 318l-2.4 4.4M157 225l1.4 -3.3M156 361l-3.7 -3.4M121 347l-1.6 -2.3M161 206l2.0 -3.1M298 218l1.6 1.9M363 148l4.2 4.3M254 313l-2.4 0.4M139 250l0.4 -3.6M65 221l1.0 -4.6M227 263l-0.1 -1.4M102 344l-1.5 -2.6M90 248l0.2 -2.0M231 138l3.0 -0.4M110 448l-2.7 -2.0M225 301l-1.7 -0.9M108 392l-2.6 -2.8M90 236l0.8 -4.5M194 347l-1.7 -1.1M365 424l-5.5 4.0M82 232l0.8 -4.2M203 144l3.4 -1.3M104 137l2.7 -3.1M433 218l1.7 7.2M311 317l-2.4 2.8M277 351l-2.4 0.8M357 402l-1.2 0.9M409 86l4.9 4.5M86 358l-2.1 -3.5M110 390l-2.1 -2.2M397 218l1.2 4.0M226 360l-2.1 -0.4M251 161l2.2 0.1M100 172l1.6 -2.6M317 129l1.8 1.0M424 315l-0.6 2.0M383 359l-2.7 3.8M419 274l-0.2 2.3M63 108l3.4 -4.1M266 387l-1.4 0.2M86 110l3.0 -3.1M410 367l-1.0 1.6M281 142l2.0 0.6M180 167l1.8 -1.3M143 203l1.7 -3.0M270 347l-1.7 0.5M69 289l-0.5 -3.3M138 228l1.4 -4.5M283 343l-0.9 0.4M263 337l-3.2 0.7M344 93l6.6 3.8M65 363l-2.3 -4.2M407 429l-5.2 5.0M90 317l-0.7 -1.9M218 123l2.6 -0.5M79 277l-0.2 -1.9M150 366l-1.9 -1.8M276 398l-4.1 0.9M366 424l-2.6 1.9M129 447l-6.8 -4.3M180 421l-1.8 -0.8M144 398l-1.6 -1.2M382 158l3.4 4.5M107 262l-0.0 -3.9M268 398l-1.4 0.2M324 394l-3.4 2.0M147 373l-2.5 -2.3M157 364l-3.5 -3.1M368 259l0.0 1.2M68 281l-0.2 -1.7M292 124l4.7 1.6M67 333l-1.1 -2.8M433 252l0.2 4.6M377 181l3.3 5.3M170 88l3.0 -1.3M197 298l-0.5 -0.7M398 366l-3.3 4.9M429 94l4.9 5.3M380 141l2.6 2.9M134 421l-3.7 -2.6M370 169l2.6 3.5M339 202l1.1 1.7M91 310l-1.1 -3.4M134 194l1.3 -2.2M106 297l-0.5 -2.0M140 210l2.2 -4.5M325 154l4.0 2.9M411 198l2.2 5.6M295 282l-1.0 2.4M310 317l-2.4 2.8M230 114l1.3 -0.1M330 250l0.5 3.5M423 170l1.3 2.6M274 82l2.1 0.3M87 186l1.7 -3.6M132 332l-2.4 -3.9M371 279l-0.6 4.3M357 347l-1.7 2.1M275 383l-2.1 0.5M193 78l5.0 -1.5M102 241l0.3 -2.2M102 407l-2.7 -2.7M418 351l-2.4 4.6M240 318l-2.5 -0.3M130 277l-0.3 -2.1M129 156l3.6 -4.0M409 236l0.4 2.3M125 189l1.5 -2.6M390 271l-0.2 3.6M294 141l2.6 1.0M224 99l3.0 -0.4M273 300l-0.9 0.6M86 288l-0.4 -2.2M61 435l-5.3 -5.7M410 194l2.2 5.4M378 310l-0.5 1.3M162 215l1.2 -2.1M274 144l2.0 0.5M67 225l0.4 -2.2M147 81l6.2 -3.5M144 265l-0.1 -3.0M75 279l-0.6 -5.9M148 311l-1.7 -3.4M269 208l1.7 0.7M309 238l0.9 2.5M340 356l-2.2 2.2M114 139l2.2 -2.4M270 97l3.1 0.4M114 275l-0.2 -2.1M367 98l3.2 2.4M339 387l-2.7 2.0M412 404l-3.6 4.3M183 147l3.7 -2.0M82 318l-0.9 -2.6M129 305l-1.0 -2.6M80 130l4.3 -5.5M205 366l-3.2 -1.3M60 203l1.6 -5.1M151 124l5.6 -3.9M181 321l-1.5 -1.7M429 159l1.0 1.7M302 334l-2.9 2.2M101 140l2.8 -3.4M163 123l1.8 -1.1M75 235l0.3 -2.2M70 110l4.5 -5.3M301 204l2.3 2.2M76 231l1.2 -6.5M79 130l3.1 -3.9M191 100l5.7 -2.0M355 294l-0.8 2.6M268 262l-0.0 1.1M179 380l-3.1 -1.8M148 294l-1.2 -3.6M246 196l2.1 -0.0M318 143l4.5 2.7M212 231l1.1 -1.2M344 138l1.8 1.4M242 80l4.0 -0.1M107 149l2.3 -2.8M395 304l-0.7 2.6M298 265l-0.0 0.6M224 337l-3.0 -0.9M421 81l4.3 4.2M202 241l1.0 -2.1M223 278l-0.9 -1.3M385 293l-0.8 3.6M97 215l0.7 -2.2M348 326l-0.9 1.4M276 402l-5.1 1.1M200 212l1.6 -1.4M216 439l-6.3 -1.1M394 449l-2.2 1.7M414 210l0.9 2.8M284 224l0.8 0.8M424 143l1.3 1.9M206 383l-4.4 -1.4M229 226l0.7 -0.3M358 358l-1.5 1.8M310 409l-3.0 1.3M146 353l-2.7 -3.0M207 76l3.5 -0.7M323 144l2.9 1.9M348 205l0.8 1.4M312 331l-2.2 2.1M399 214l1.2 3.8M229 395l-2.6 -0.4M149 212l1.9 -3.7M337 145l4.2 3.2M429 201l2.0 6.1M319 305l-0.8 1.3M59 400l-2.5 -3.5M367 394l-4.7 4.3M334 346l-3.1 3.2M412 419l-5.6 5.9M180 419l-1.8 -0.8M128 399l-3.6 -3.1M416 198l0.7 1.8M115 405l-4.9 -4.4M220 319l-0.7 -0.3M410 180l1.2 2.4M241 254l0.7 -0.4M328 143l4.1 2.9M181 224l1.7 -2.9M336 347l-3.1 3.2M218 204l1.8 -0.9M377 140l3.8 4.0M237 428l-5.2 -0.3M405 229l0.8 3.7M153 152l2.1 -1.8M139 309l-1.3 -3.1M335 356l-3.9 3.7M257 305l-1.6 0.4M238 202l1.4 -0.2M184 265l-0.1 -1.8M264 325l-3.1 0.9M278 446l-3.4 0.6M287 292l-0.9 1.3M231 163l4.3 -0.7M87 376l-2.7 -3.7M189 189l3.1 -2.5M185 291l-0.8 -1.6M307 283l-0.7 1.9M99 84l5.0 -4.2M60 269l-0.1 -3.2M337 196l0.7 1.0M119 198l1.9 -3.8M323 386l-5.0 3.1M268 92l5.1 0.6M192 301l-0.7 -0.9M208 166l3.2 -1.3M414 212l1.2 4.1M297 361l-2.1 1.1M160 320l-1.2 -1.8M245 310l-1.7 -0.0M424 205l0.9 2.7M211 411l-5.4 -1.3M82 139l1.9 -2.6M351 334l-1.0 1.5M355 398l-4.7 3.8M190 381l-2.1 -1.0M408 127l2.8 3.3M173 382l-4.1 -2.5M258 276l-0.6 0.5M279 92l5.4 1.0M417 245l0.4 4.0M278 217l2.2 1.6M139 257l0.2 -3.6M339 189l1.0 1.2M317 121l5.0 2.5M66 404l-4.8 -6.0M249 408l-5.0 0.1M311 172l1.1 0.8M103 110l4.4 -4.2M322 429l-3.4 1.6M195 397l-4.7 -1.8M426 78l6.8 6.7M214 373l-1.8 -0.5M262 356l-3.3 0.5M319 108l5.8 2.8M80 382l-3.1 -4.3M292 158l3.8 1.7M344 168l3.7 3.9M215 397l-2.2 -0.5M199 154l1.1 -0.5M112 132l3.2 -3.3M240 114l5.7 -0.3M297 268l-0.2 1.2M216 415l-3.4 -0.7M247 420l-3.4 0.0M379 100l4.9 4.0M104 177l1.0 -1.6M389 409l-4.9 4.7M246 116l3.8 -0.0M396 345l-0.7 1.3M429 430l-4.4 4.8M67 342l-2.2 -5.0M61 241l0.2 -1.7M82 329l-2.2 -5.4M181 133l2.3 -1.2M145 283l-0.4 -1.9M401 80l2.8 2.4M293 242l0.3 0.7M204 180l3.1 -1.6M149 314l-1.7 -3.2M215 91l4.4 -0.8M100 164l3.7 -5.6M125 433l-2.3 -1.6M71 86l5.9 -5.9M395 176l1.7 2.9M187 312l-1.1 -1.3M234 319l-1.3 -0.3M109 319l-1.7 -4.1M61 237l0.9 -6.5M281 327l-3.1 1.7M135 222l0.6 -1.6M396 294l-1.2 5.5M305 202l2.2 2.1M161 263l-0.1 -2.8M350 166l3.2 3.5M263 310l-0.7 0.3M256 109l4.5 0.3M356 218l1.0 2.6M293 284l-1.2 2.5M375 331l-1.4 2.6M80 328l-1.0 -2.6M323 319l-2.3 3.1M81 255l0.1 -3.2M187 171l3.5 -2.3M230 280l-0.4 -0.4M267 312l-0.8 0.3M186 174l2.5 -1.7M89 443l-3.6 -3.2M406 87l5.5 5.0M396 239l0.5 3.1M292 189l1.4 0.9M401 315l-1.3 3.8M231 372l-3.8 -0.5M164 191l1.7 -1.9M80 232l0.4 -2.0M309 199l1.4 1.3M141 168l1.5 -1.7M391 245l0.5 3.9M179 432l-4.7 -1.9M123 329l-0.6 -1.1M432 352l-1.4 2.8M220 415l-5.2 -0.9M353 292l-0.5 1.7M303 291l-0.5 0.9M80 271l-0.4 -6.3M182 313l-0.7 -0.9M388 407l-2.6 2.5M328 352l-2.1 1.9M389 92l2.9 2.5M103 384l-3.9 -4.6M145 321l-1.6 -2.7M272 230l1.2 1.0M269 194l1.6 0.5M120 311l-1.8 -4.6M145 295l-0.8 -2.3M127 98l1.6 -1.1M338 125l2.4 1.6M250 148l3.3 0.1M237 158l3.4 -0.3M299 431l-3.2 1.0M350 308l-1.3 3.0M73 190l1.6 -3.8M76 112l5.1 -5.7M101 284l-0.4 -2.4M256 221l1.0 0.2M230 179l3.7 -0.7M231 122l4.7 -0.5M121 353l-3.1 -4.3M405 269l-0.2 5.2M356 380l-3.3 3.1M394 353l-1.9 3.1M197 389l-5.0 -1.9M200 420l-5.4 -1.6M320 201l1.2 1.4M168 331l-1.8 -2.0M143 129l4.6 -3.6M131 138l3.2 -3.0M80 226l0.5 -2.5M381 282l-0.5 3.4M235 81l6.4 -0.4M413 77l4.7 4.2M354 392l-5.1 4.2M398 406l-1.9 2.0M432 443l-5.0 5.1M388 172l2.0 3.2M100 251l0.4 -6.0M323 247l0.3 1.7M139 235l0.5 -2.1M242 288l-1.0 -0.2M281 229l1.1 1.2M241 390l-5.0 -0.2M278 358l-1.9 0.6M120 192l0.9 -1.7M346 418l-4.5 2.9M141 123l4.6 -3.5M274 129l5.6 1.2M341 435l-6.8 3.7M353 422l-6.1 4.1M119 204l1.5 -3.4M298 131l2.3 0.9M348 436l-4.1 2.4M408 402l-5.1 5.9M130 218l1.4 -3.7M363 386l-1.5 1.5M313 84l3.2 1.2M79 266l-0.1 -2.1M306 227l1.4 2.5M180 445l-2.2 -0.8M90 262l-0.0 -3.9M376 84l2.5 1.8M151 237l1.0 -3.7M308 163l2.2 1.4M347 283l-0.3 1.3M194 84l4.1 -1.2M146 187l1.5 -2.1M383 106l1.7 1.5M108 235l0.6 -3.2M408 347l-1.4 2.7M108 280l-0.7 -5.0M143 361l-2.1 -2.1M418 432l-2.3 2.3M361 296l-0.8 2.5M253 414l-3.7 0.2M271 260l0.0 0.4M343 114l5.5 3.6M62 287l-0.4 -3.1M316 309l-1.8 2.6M366 444l-2.2 1.4M145 256l0.2 -4.3M208 152l3.0 -1.1M177 104l5.4 -2.4M230 390l-1.6 -0.2M186 118l5.2 -2.2M227 301l-0.6 -0.3M224 220l1.8 -1.0M148 443l-3.4 -1.8M252 251l0.6 0.3M81 89l6.3 -6.0M426 304l-0.5 2.3M132 194l0.7 -1.2M187 180l1.7 -1.2M373 284l-0.9 5.4M174 101l5.3 -2.4M332 381l-2.5 1.8M364 112l4.7 3.7M319 286l-0.8 2.4M233 235l1.1 -0.5M287 391l-2.6 0.8M268 220l0.8 0.4M323 77l6.6 2.8M78 138l3.9 -5.3M222 187l2.1 -0.7M408 316l-1.1 3.3M414 166l1.1 1.9M334 375l-4.0 3.1M208 330l-1.2 -0.7M159 427l-5.9 -3.1M413 281l-0.6 5.2M195 223l1.8 -2.4M338 426l-2.2 1.2M214 418l-6.0 -1.3M366 406l-2.4 2.0M327 114l3.4 1.9M64 237l0.4 -2.7M212 326l-2.3 -1.2M390 424l-2.9 2.6M184 231l0.6 -1.3M375 371l-3.3 3.8M302 184l1.5 1.1M344 109l6.1 3.9M113 152l3.6 -4.4M401 133l4.9 5.8M250 121l3.8 0.1M146 317l-1.7 -3.1M372 419l-5.6 4.4M312 348l-3.4 2.6M373 260l0.1 5.1M419 148l1.7 2.6M289 279l-0.5 1.3M246 152l2.6 -0.0M281 356l-3.2 1.2M98 153l2.6 -3.5M349 178l2.8 3.4M145 188l2.8 -3.8M133 389l-3.3 -3.0M69 251l0.3 -4.6M106 214l1.2 -3.5M236 420l-3.3 -0.2M395 184l2.5 4.8M117 293l-1.1 -4.4M369 94l5.3 3.9M117 436l-3.1 -2.3M379 136l5.0 5.3M261 157l4.3 0.6M355 346l-1.9 2.5M146 313l-2.0 -3.9M335 341l-0.9 1.0M232 183l2.3 -0.4M310 299l-0.4 0.7M174 181l1.9 -1.7M166 146l1.9 -1.3M243 405l-2.3 -0.1M419 323l-2.3 6.4M391 356l-3.6 5.4M132 311l-1.0 -2.4M122 177l2.5 -3.7M109 113l5.2 -4.8M364 86l2.6 1.7M60 274l-0.5 -7.4M116 291l-0.7 -3.1M332 295l-1.2 3.1M99 441l-5.8 -4.8M100 78l6.1 -4.9M350 217l1.8 4.2M296 266l-0.1 0.7M241 216l1.4 -0.2M188 392l-2.7 -1.2M95 169l3.3 -5.3M253 206l2.6 0.3M428 231l0.4 2.3M180 116l5.4 -2.5M326 195l2.1 2.5M377 447l-2.5 1.8M231 317l-1.6 -0.4M257 246l0.7 0.5M274 222l1.0 0.7M215 367l-1.5 -0.5M236 161l4.2 -0.4M62 205l2.2 -7.1M326 163l3.3 2.7M247 110l1.8 0.0M76 181l1.7 -3.7M423 408l-3.7 4.4M309 307l-1.8 2.5M198 317l-1.0 -0.9M144 174l2.0 -2.3M170 298l-0.4 -0.9M177 301l-1.6 -2.7M354 236l0.8 3.3M69 421l-4.6 -5.1M356 114l3.2 2.4M171 390l-4.3 -2.5M118 437l-2.6 -1.9M109 284l-0.5 -3.2M417 92l6.1 6.1M326 193l1.0 1.2M324 86l3.1 1.4M90 205l2.3 -6.3M376 281l-0.6 3.9M296 369l-4.0 1.8M420 428l-3.1 3.3M415 168l1.1 2.0M303 92l6.2 2.1M426 375l-1.9 2.9M257 95l3.8 0.2M367 148l1.6 1.7M192 206l1.3 -1.2M180 101l4.7 -1.9M243 304l-1.1 -0.1M398 364l-2.7 3.9M203 394l-3.1 -1.0M215 287l-0.4 -0.5M245 106l6.0 -0.1M355 120l2.2 1.7M308 278l-0.4 1.7M212 159l2.4 -0.8M78 99l2.5 -2.6M69 164l1.4 -2.6M192 296l-1.7 -2.7M323 382l-3.3 2.1M344 311l-0.5 0.9M196 123l4.3 -1.6M195 237l0.4 -0.9M422 178l1.1 2.3M198 193l1.1 -0.8M320 236l0.3 0.8M414 120l5.0 5.9M429 279l-0.6 6.0M61 150l3.7 -6.1M319 119l2.5 1.3M88 371l-3.1 -4.5M190 286l-0.8 -1.7M157 275l-0.1 -0.9M328 433l-2.3 1.1M222 297l-1.5 -1.1M349 198l2.2 3.5M194 366l-2.8 -1.4M274 409l-2.1 0.4M246 204l0.8 -0.0M351 148l1.6 1.5M110 366l-3.2 -4.2M182 257l0.1 -1.6M244 89l3.1 -0.0M418 194l2.1 5.3M291 249l0.5 1.8M320 290l-1.1 2.9M172 160l2.5 -1.8M354 261l0.0 1.0M233 410l-2.1 -0.2M274 181l2.4 0.8M345 198l1.0 1.5M227 443l-1.7 -0.2M173 156l2.6 -1.8M354 285l-0.7 3.2M143 274l-0.4 -3.7M184 82l7.0 -2.4M248 436l-4.9 0.1M187 141l4.8 -2.4M345 290l-0.3 1.0M172 233l0.4 -1.0M236 251l0.4 -0.4M256 431l-6.2 0.3M367 188l1.2 2.0M238 424l-2.5 -0.1M87 393l-1.1 -1.4M251 443l-4.8 0.1M62 188l2.3 -5.9M313 107l3.6 1.6M239 136l1.7 -0.1M176 224l1.7 -3.2M182 409l-1.4 -0.6M234 131l1.4 -0.1M168 335l-2.2 -2.4M167 347l-2.8 -2.6M383 333l-0.8 1.6M352 432l-6.1 3.8M305 122l5.2 2.2M244 347l-3.7 -0.1M139 83l6.7 -4.0M393 106l3.5 3.3M380 305l-1.1 3.5M433 85l3.4 3.6M118 435l-4.6 -3.4M157 400l-5.2 -3.4M240 431l-2.6 -0.1M318 447l-2.9 1.1M322 385l-4.6 2.8M159 218l0.6 -1.2M249 397l-2.5 0.0M389 174l2.1 3.4M307 378l-4.7 2.4M193 221l1.6 -2.2M357 370l-1.9 1.9M383 361l-2.7 3.8M184 346l-1.0 -0.7M336 231l1.1 3.3M279 209l1.2 0.8M247 125l2.4 0.0M298 148l4.6 2.1M257 195l1.2 0.2M163 223l0.6 -1.2M175 435l-6.6 -2.7M401 430l-5.0 4.6M421 314l-1.1 3.7M122 319l-2.3 -5.1M411 439l-3.9 3.6M315 449l-5.8 2.1M380 400l-3.6 3.5M386 207l2.0 5.0M222 155l4.0 -0.9M356 313l-1.3 2.7M157 390l-3.9 -2.7M310 382l-1.2 0.6M357 394l-1.7 1.4M77 398l-2.2 -2.8M259 423l-2.4 0.2M244 97l6.0 -0.1M382 238l0.8 4.7M116 377l-3.9 -4.5M332 87l3.1 1.5M307 386l-3.1 1.5M316 245l0.5 2.3M166 150l4.2 -3.0M266 195l1.5 0.4M185 268l-0.1 -1.0M228 206l1.5 -0.5M196 91l6.2 -1.8M173 354l-3.8 -3.0M202 205l2.0 -1.6M412 274l-0.4 4.9M100 191l1.6 -3.4M304 217l1.7 2.2M373 167l2.4 3.3M97 194l1.8 -4.1M369 147l3.9 4.2M307 383l-1.3 0.7M253 129l4.6 0.2M313 161l4.3 2.8M395 221l0.6 2.3M349 201l2.3 3.9M163 394l-2.7 -1.7M280 192l2.3 1.1M81 210l1.0 -3.3M281 375l-2.9 0.9M416 132l4.0 5.3M208 154l2.2 -0.8M199 257l0.2 -1.6M356 371l-2.4 2.4M347 298l-0.4 1.1M369 406l-4.1 3.5M249 415l-6.2 0.1M277 95l4.2 0.8M135 249l0.4 -3.3M142 99l3.9 -2.5M314 271l-0.4 2.8M433 439l-3.3 3.4M227 291l-0.7 -0.5M411 362l-3.9 6.4M204 262l-0.0 -1.5M97 171l2.7 -4.4M406 98l3.0 3.0M250 228l0.9 0.1M123 191l0.8 -1.3M164 98l5.9 -3.0M301 260l0.0 1.3M313 203l2.4 2.7M376 162l2.5 3.3M195 443l-2.9 -0.8M74 158l3.9 -6.5M291 349l-2.3 1.2M323 235l0.8 2.3M303 372l-4.5 2.3M298 384l-1.7 0.7M135 416l-1.6 -1.2M231 165l2.8 -0.4M173 414l-1.8 -0.9M368 432l-3.6 2.6M361 306l-0.7 1.9M254 122l2.7 0.1M87 142l4.3 -5.8M250 399l-3.3 0.1M174 257l0.1 -1.7M424 88l2.5 2.5M141 265l-0.1 -2.4M104 303l-1.6 -5.3M264 201l1.8 0.5M151 91l3.1 -1.7M202 365l-2.4 -1.0M386 119l2.6 2.6M125 370l-1.5 -1.7M270 264l-0.1 1.4M256 182l3.6 0.4M240 136l3.4 -0.2M252 110l1.5 0.1M245 343l-1.9 -0.0M300 171l3.1 1.9M357 274l-0.5 4.5M212 216l0.5 -0.4M200 361l-3.6 -1.7M220 241l0.9 -1.2M80 270l-0.3 -6.0M107 104l3.8 -3.3M288 216l1.3 1.1M409 446l-7.1 6.2M124 194l1.2 -2.2M399 305l-1.2 4.1M92 372l-4.3 -6.1M145 183l0.7 -1.0M375 163l1.4 1.8M385 327l-1.5 3.2M150 433l-3.3 -1.9M336 314l-1.2 2.0M424 230l0.5 3.0M144 88l3.9 -2.3M408 348l-1.7 3.1M172 375l-4.1 -2.7M176 168l1.7 -1.3M363 253l0.3 3.8M313 374l-3.0 1.8M68 323l-1.0 -2.9M379 293l-1.0 4.2M316 393l-4.7 2.5M403 384l-2.0 2.6M338 206l2.0 3.3M268 289l-0.5 0.4M127 122l1.6 -1.4M384 415l-3.0 2.7M230 289l-1.4 -0.8M91 439l-1.6 -1.4M102 345l-1.6 -2.8M299 284l-0.7 1.6M253 379l-2.7 0.2M346 295l-1.3 4.0M99 185l0.7 -1.4M70 278l-0.4 -4.1M128 133l1.9 -1.8M393 285l-0.5 3.3M272 237l0.9 1.0M87 443l-4.7 -4.2M330 411l-1.8 1.0M82 158l1.4 -2.3M132 222l1.5 -4.2M281 345l-2.3 1.0M406 404l-1.8 2.0M312 431l-5.8 2.2M266 223l0.6 0.3M161 108l1.7 -0.9M351 263l-0.0 2.3M325 194l2.8 3.3M146 149l1.8 -1.6M416 406l-2.1 2.5M407 87l5.2 4.8M231 159l3.1 -0.5M143 271l-0.3 -3.7M217 412l-5.7 -1.1M127 153l1.0 -1.1M191 102l2.9 -1.0M104 255l0.1 -2.5M406 373l-2.2 3.1M260 106l1.7 0.1M366 107l3.1 2.4M148 153l1.7 -1.6M142 424l-2.6 -1.7M303 164l4.0 2.3M394 265l-0.1 5.9M331 410l-3.8 2.1M89 103l5.4 -5.4M419 231l1.1 6.4M399 192l2.3 5.0M351 325l-1.1 1.8M79 199l1.1 -2.9M255 207l1.5 0.2M177 126l2.4 -1.2M309 180l3.3 2.5M386 247l0.3 2.6M304 407l-5.1 2.0M138 154l1.1 -1.1M412 179l1.7 3.5M346 183l2.6 3.3M65 227l0.3 -1.7M366 181l2.8 4.3M342 116l2.6 1.7M356 331l-1.6 2.5M109 137l2.4 -2.7M243 319l-2.7 -0.1M318 283l-0.6 2.2M289 94l1.7 0.4M263 236l1.6 1.0M146 205l1.0 -1.8M304 375l-1.4 0.7M204 329l-2.5 -1.6M347 136l4.0 3.2M228 407l-2.2 -0.3M373 417l-4.3 3.5M123 204l1.2 -2.6M389 139l2.6 3.1M197 274l-0.5 -2.1M71 162l1.1 -1.9M244 317l-2.4 -0.1M331 135l5.2 3.5M65 147l3.2 -5.1M301 221l1.5 2.0M228 192l1.6 -0.4M220 115l4.7 -0.9M122 292l-1.2 -5.0M364 381l-1.7 1.7M361 79l2.8 1.8M162 328l-2.9 -3.7M139 261l0.0 -2.1M330 78l6.7 3.1M172 141l4.3 -2.7M332 370l-4.1 3.2M229 235l1.5 -1.0M244 166l3.0 -0.1M223 360l-3.9 -0.9M356 100l4.2 2.8M226 92l3.0 -0.4M62 339l-1.2 -2.8M126 399l-2.3 -2.1M316 323l-2.0 2.3M88 155l3.7 -5.4M205 187l2.1 -1.2M72 341l-2.6 -5.7M421 193l2.1 5.3M410 397l-3.1 3.7M417 278l-0.4 4.5M275 144l2.6 0.6M248 369l-3.1 0.0M189 438l-1.9 -0.6M125 205l2.4 -5.0M234 224l1.9 -0.6M146 374l-1.3 -1.1M282 426l-4.6 1.0M150 154l3.8 -3.4M159 423l-3.6 -1.9M97 348l-2.8 -4.8M310 78l3.7 1.3M243 417l-1.8 -0.0M221 206l2.0 -0.9M228 194l2.0 -0.5M263 90l3.2 0.3M154 178l1.8 -2.0M162 212l1.7 -2.8M147 431l-1.8 -1.1M169 346l-2.7 -2.4M174 181l2.8 -2.5M200 376l-4.5 -1.8M116 327l-1.1 -2.1M271 410l-4.4 0.7M387 202l1.1 2.5M262 209l1.7 0.5M154 152l3.1 -2.7M101 161l1.2 -1.7M317 133l2.3 1.3M380 270l-0.2 3.3M182 268l-0.3 -2.7M194 126l2.0 -0.8M322 254l0.4 3.4M142 342l-1.8 -2.3M165 343l-1.6 -1.6M142 243l0.5 -2.5M91 443l-3.7 -3.2M195 122l1.9 -0.7M128 101l4.1 -3.0M301 393l-2.3 1.0M360 354l-1.0 1.2M133 150l4.1 -4.2M339 98l2.6 1.5M120 309l-1.1 -2.9M413 388l-2.2 2.9M161 262l-0.0 -2.1M357 146l4.2 4.0M280 222l2.1 1.7M190 363l-4.3 -2.4M393 443l-4.0 3.2M349 387l-2.3 1.9M229 419l-5.3 -0.6M173 364l-1.3 -0.9M206 289l-0.7 -1.0M63 290l-0.8 -5.1" stroke="#fff" stroke-opacity="0.080" stroke-width="2.1" stroke-linecap="round" fill="none" filter="url(#b3)"/>
<path d="M307 137l1.4 0.7M76 278l-0.2 -1.7M136 261l0.0 -2.5M316 125l3.5 1.8M217 148l4.6 -1.2M408 436l-2.8 2.6M68 336l-2.7 -6.6M190 186l2.9 -2.2M266 296l-1.6 0.9M254 381l-3.4 0.2M336 78l4.3 2.1M398 257l0.2 4.7M258 424l-1.8 0.1M165 137l4.6 -3.0M424 146l2.0 3.1M151 301l-1.4 -3.2M155 384l-2.9 -2.1M245 211l1.6 -0.0M72 89l6.5 -6.6M167 206l2.5 -3.5M175 109l5.6 -2.6M209 317l-1.2 -0.8M107 156l3.5 -4.6M261 323l-2.4 0.6M273 329l-1.2 0.5M128 238l0.9 -4.4M143 366l-3.7 -3.7M335 115l1.9 1.1M362 157l1.0 1.1M278 335l-3.0 1.3M327 298l-0.8 1.8M406 175l2.0 3.7M101 290l-0.9 -4.5M252 215l0.6 0.1M297 90l5.6 1.6M291 397l-4.1 1.3M344 180l3.3 4.0M279 280l-0.6 1.0M375 311l-1.3 3.5M289 369l-4.6 1.8M133 434l-3.0 -2.0M222 349l-3.4 -1.0M187 190l2.1 -1.7M239 225l1.0 -0.2M63 424l-3.1 -3.5M402 309l-0.6 1.9M126 215l0.7 -1.9M98 361l-2.4 -3.6M116 268l-0.2 -4.1M372 237l0.4 2.0M73 295l-0.9 -4.4M432 167l1.0 1.9M258 335l-1.4 0.2M162 145l4.3 -3.1M274 177l1.9 0.6M155 83l6.1 -3.2M347 193l1.4 2.1M408 173l2.7 5.0M402 188l2.5 5.2M178 441l-2.3 -0.9M125 335l-1.5 -2.5M230 395l-1.9 -0.2M144 305l-0.8 -1.8M228 156l3.3 -0.6M304 93l5.7 1.9M410 187l2.5 5.5M175 411l-5.9 -2.8M324 228l0.8 1.7M128 405l-5.4 -4.5M324 418l-3.0 1.5M90 254l0.3 -6.4M282 388l-3.9 1.1M213 257l0.1 -0.9M205 434l-6.5 -1.6M289 339l-1.7 0.9M300 412l-1.7 0.6M424 139l1.2 1.7M68 226l1.1 -5.7M149 428l-5.4 -3.2M111 367l-1.6 -2.1M326 93l5.7 2.7M190 332l-0.9 -0.7M246 219l0.8 -0.0M217 439l-1.7 -0.3M419 202l2.0 5.9M364 293l-0.9 3.5M422 241l0.7 6.0M240 196l3.3 -0.3M112 431l-5.3 -4.2M125 407l-1.4 -1.2M329 435l-5.6 2.7M403 335l-2.3 5.0M399 422l-3.2 3.0M124 216l0.6 -1.5M398 235l1.1 6.1M100 246l0.5 -4.2M198 340l-1.5 -0.9M70 407l-3.6 -4.4M181 369l-1.3 -0.8M173 259l0.1 -3.1M279 247l0.6 1.4M408 215l0.7 2.4M261 125l2.3 0.2M306 243l0.3 1.1M60 439l-6.0 -6.3M297 284l-0.7 1.6M422 445l-6.8 6.5M302 321l-2.6 2.4M146 259l0.1 -3.0M181 295l-1.1 -2.1M405 248l0.3 3.5M265 75l1.8 0.2M70 403l-5.0 -6.2M343 172l2.6 2.8M115 276l-0.4 -3.5M313 120l5.5 2.6M280 449l-2.1 0.4M331 381l-4.9 3.5M148 197l2.6 -3.9M321 116l4.1 2.1M171 374l-1.4 -0.9M330 225l0.6 1.3M154 374l-4.5 -3.7M421 89l6.1 6.1M294 220l0.5 0.6M328 275l-0.2 1.5M259 104l6.2 0.5M376 349l-3.6 5.3M126 256l0.2 -5.0M397 314l-0.6 1.9M244 282l-1.1 -0.1M167 157l2.0 -1.5M151 435l-2.4 -1.3M136 442l-2.2 -1.4M71 221l1.1 -4.6M305 400l-5.3 2.3M65 375l-1.7 -2.8M287 383l-1.6 0.5M262 423l-3.5 0.3M299 362l-2.2 1.1M100 334l-0.7 -1.4M407 255l0.2 4.2M112 275l-0.3 -3.2M304 109l2.7 1.0M262 364l-3.3 0.5M69 427l-3.4 -3.6M298 443l-6.3 1.8M194 170l2.5 -1.4M247 125l4.0 0.0M375 141l3.4 3.6M261 154l4.2 0.6M111 367l-1.1 -1.5M393 176l2.6 4.5M308 327l-2.4 2.3M161 239l0.7 -2.7M326 228l0.8 1.8M293 109l4.0 1.2M209 331l-1.5 -0.8M80 335l-1.4 -3.1M86 91l6.4 -6.0M248 127l1.5 0.0M268 237l0.4 0.4M262 265l-0.2 1.0M100 77l5.1 -4.0M60 265l-0.1 -3.9M384 273l-0.1 1.9M114 382l-1.9 -2.1M282 206l1.3 0.8M196 306l-1.1 -1.2M185 209l2.2 -2.6M425 360l-3.1 5.7M202 347l-2.9 -1.5M429 165l0.8 1.5M251 339l-1.7 0.1M423 149l3.2 5.0M378 443l-3.7 2.7M333 128l3.3 2.1M110 365l-2.7 -3.5M81 440l-4.1 -3.9M379 418l-4.2 3.5M223 329l-2.0 -0.7M127 75l6.0 -3.8M402 342l-2.1 4.0M373 199l1.1 2.3M353 406l-3.8 2.8M257 305l-1.3 0.3M218 100l4.4 -0.8M360 207l1.8 3.7M333 332l-1.1 1.3M226 300l-2.0 -1.1M67 113l2.1 -2.5M356 133l3.3 2.8M172 334l-1.8 -1.8M161 273l-0.5 -3.6M382 275l-0.4 4.4M405 340l-2.2 4.5M348 117l3.9 2.7M157 261l0.0 -1.1M166 268l-0.3 -3.2M426 440l-4.8 4.9M362 221l0.5 1.5M174 328l-1.9 -2.1M101 156l3.2 -4.4M411 241l0.5 4.2M395 352l-2.7 4.5M262 381l-2.4 0.3M79 378l-3.4 -4.9M96 427l-3.7 -3.4M230 104l2.1 -0.2M361 339l-2.1 3.2M258 208l2.4 0.5M426 107l2.5 2.9M348 333l-2.5 3.6M110 228l0.8 -3.3M68 287l-0.3 -2.5M246 362l-1.3 -0.0M410 354l-1.8 3.3M94 332l-1.6 -3.4M432 251l0.3 5.2M186 130l2.9 -1.3M141 264l-0.0 -1.9M331 396l-4.1 2.6M166 95l5.4 -2.6M209 440l-2.2 -0.5M290 396l-2.6 0.8M206 172l0.9 -0.4M420 224l1.3 6.0M61 412l-3.5 -4.3M370 189l1.2 2.0M232 228l1.0 -0.4M125 85l1.6 -1.1M114 151l3.9 -4.7M308 285l-0.3 0.8M177 431l-6.2 -2.6M395 209l1.6 4.4M153 315l-1.5 -2.6M279 94l2.7 0.5M165 269l-0.1 -1.7M200 260l0.0 -1.7M193 204l1.8 -1.7M293 352l-2.8 1.5M104 207l1.6 -4.2M326 414l-4.9 2.5M283 303l-0.9 0.8M274 211l1.2 0.7M142 433l-6.6 -4.0M174 267l-0.1 -0.9M369 175l3.2 4.5M147 267l-0.2 -3.4M282 414l-4.9 1.2M239 221l1.3 -0.2M229 384l-1.2 -0.2M173 336l-1.0 -1.0M359 207l2.1 4.4M148 364l-3.8 -3.6M181 286l-1.0 -2.6M412 289l-1.0 6.2M393 438l-2.6 2.1M230 305l-1.7 -0.6M97 290l-1.1 -5.8M262 142l2.3 0.3M400 232l0.3 1.7M166 289l-0.4 -1.3M243 255l0.8 -0.4M163 145l2.8 -2.0M127 284l-0.5 -2.7M378 144l3.0 3.3M163 126l1.8 -1.1M269 269l-0.4 1.2M314 103l6.3 2.7M410 172l1.2 2.3M357 106l4.5 3.2M175 436l-2.2 -0.9M243 122l1.8 -0.0M327 369l-1.5 1.1M431 131l2.3 3.2M152 170l2.7 -2.7M64 376l-3.9 -6.1M417 317l-0.7 2.2M167 123l5.4 -3.1M286 342l-3.0 1.5M340 437l-2.5 1.3M196 252l0.4 -1.9M247 168l2.0 0.0M312 103l5.6 2.3M92 234l1.0 -5.7M128 269l-0.1 -1.9M101 304l-1.6 -5.5M213 418l-3.0 -0.6M313 400l-2.0 1.0M333 180l1.8 1.9M113 410l-2.6 -2.3M209 391l-2.9 -0.8M275 295l-1.6 1.4M227 406l-2.3 -0.3M431 79l6.0 6.1M253 403l-2.0 0.1M93 363l-2.2 -3.3M163 391l-3.6 -2.4M137 291l-0.9 -3.2M77 270l-0.2 -4.7M129 411l-3.0 -2.4M269 193l1.8 0.6M426 217l1.0 4.2M155 227l0.7 -1.8M419 425l-2.1 2.2M348 409l-4.4 3.0M411 176l3.2 6.2M352 329l-1.7 2.6M330 429l-2.4 1.2M69 313l-0.5 -1.9M396 394l-5.2 5.9M109 235l0.3 -1.5M322 118l1.8 0.9M136 135l4.6 -4.0M404 337l-2.3 4.9M221 151l1.8 -0.4M90 108l2.6 -2.7M266 101l4.3 0.5M246 189l1.0 -0.0M210 393l-4.4 -1.2M325 188l1.1 1.2M348 106l3.6 2.3M194 146l1.2 -0.6M172 289l-0.8 -2.1M364 314l-2.1 4.8M144 188l1.5 -2.1M113 180l2.0 -3.3M205 184l3.0 -1.6M332 420l-4.1 2.2M277 298l-1.9 1.6M182 394l-3.4 -1.6M347 368l-1.9 1.8M281 244l0.4 0.7M203 432l-3.3 -0.8M108 332l-1.7 -3.3M288 122l3.6 1.1M227 289l-1.0 -0.7M266 445l-2.2 0.2M79 205l0.7 -2.1M72 355l-3.2 -6.0M61 144l1.7 -2.8M202 446l-2.0 -0.5M205 272l-0.2 -0.9M186 338l-2.6 -2.0M357 336l-1.5 2.2M110 81l5.2 -3.9M357 338l-2.2 3.2M212 92l3.9 -0.8M101 185l2.6 -4.8M279 409l-5.4 1.2M329 425l-2.2 1.1M337 311l-1.4 2.6M104 262l0.0 -5.5M327 423l-5.4 2.7M84 224l1.3 -5.8M329 258l0.1 2.2M206 212l1.2 -1.0M235 296l-0.7 -0.2M123 311l-1.4 -3.5M243 269l-0.6 -0.3M433 186l1.9 4.7M171 300l-0.8 -1.6M218 93l3.3 -0.6M229 305l-2.0 -0.8M78 195l1.1 -2.7M232 414l-5.9 -0.6M330 425l-4.0 2.0M291 125l4.5 1.4M159 282l-0.4 -1.6M251 223l2.1 0.2M255 362l-1.8 0.2M248 272l-0.6 0.1M214 82l2.4 -0.4M183 329l-2.1 -1.9M326 108l2.4 1.2M407 126l1.9 2.2M267 247l1.0 1.4M380 293l-0.7 3.2M225 444l-2.2 -0.3M240 360l-3.3 -0.2M95 379l-4.4 -5.7M339 139l4.6 3.5M113 80l5.4 -4.0M318 367l-2.8 1.9M85 89l4.9 -4.5M344 204l2.0 3.5M201 246l0.7 -1.9M317 317l-0.8 1.0M317 367l-3.6 2.4M295 297l-0.7 1.0M432 439l-2.8 3.0M305 356l-2.4 1.5M168 206l0.8 -1.2M360 269l-0.3 4.9M139 442l-5.2 -3.1M265 114l1.6 0.2M245 120l4.2 -0.0M147 420l-4.6 -2.9M77 397l-4.0 -5.0M140 215l1.5 -3.4M394 224l1.3 5.2M411 431l-4.6 4.5M367 102l4.9 3.7M378 204l2.1 4.8M190 387l-2.5 -1.1M267 308l-0.8 0.3M90 205l1.3 -3.5M299 434l-6.6 2.0M107 340l-1.0 -1.7M84 112l5.4 -5.9M325 269l-0.2 2.5M293 114l3.6 1.1M399 86l5.3 4.6M86 275l-0.2 -2.3M87 98l3.5 -3.4M423 129l2.9 3.9M174 211l0.9 -1.3M208 442l-2.3 -0.5M370 372l-2.6 2.9M318 281l-0.9 3.4M79 358l-3.3 -5.7M304 438l-1.8 0.6M289 354l-1.1 0.5M260 381l-3.8 0.4M202 381l-4.7 -1.8M145 168l3.4 -3.7M342 235l1.2 4.2M425 297l-0.7 3.7M92 79l3.7 -3.1M221 106l2.5 -0.4M383 354l-1.9 2.8M99 424l-5.9 -5.4M345 330l-2.2 3.2M160 283l-0.2 -0.8M180 144l1.5 -0.8M331 240l0.5 1.8M352 314l-1.7 3.4M398 144l2.7 3.4M86 350l-2.8 -5.2M71 203l0.6 -1.9M365 301l-0.7 2.1M321 424l-5.9 2.7M204 83l3.6 -0.9M158 339l-1.6 -1.8M376 179l3.1 4.9M407 277l-0.2 1.6M355 395l-1.7 1.4M332 109l2.9 1.6M167 133l3.8 -2.3M429 263l-0.1 7.0M158 123l2.5 -1.6M366 197l1.3 2.4M385 302l-0.9 3.0M386 128l2.0 2.1M290 259l0.1 1.9M364 331l-1.0 1.7M330 163l1.2 1.0M170 218l1.2 -2.1M103 312l-1.1 -3.0M430 254l0.3 6.4M362 301l-1.2 3.6M91 415l-5.9 -5.9M404 105l2.3 2.4M177 140l2.1 -1.2M96 294l-1.2 -5.6M185 387l-4.7 -2.3M274 398l-2.3 0.5M288 316l-0.6 0.4M429 172l2.2 4.5M355 254l0.1 1.5M430 400l-3.2 4.3M180 76l3.4 -1.2M426 358l-1.2 2.3M302 106l3.8 1.4M416 85l4.2 4.0M422 111l3.3 3.9M359 390l-3.3 2.9M276 277l-0.7 1.4M426 322l-0.9 2.8M146 258l0.1 -3.3M357 177l1.3 1.7M93 359l-0.9 -1.5M63 240l0.8 -6.2M427 174l1.7 3.5M100 124l2.0 -2.1M356 340l-2.5 3.5M349 150l4.5 4.1M258 174l3.4 0.5M152 81l5.8 -3.0M107 446l-6.3 -4.8M185 436l-4.7 -1.7M263 181l3.5 0.7M289 183l1.7 0.9M171 197l2.7 -3.2M275 309l-2.0 1.2M83 301l-1.3 -5.5M90 423l-3.8 -3.7M66 439l-3.7 -3.7M369 441l-1.7 1.1M162 258l0.1 -1.8M326 210l1.4 2.1M213 366l-2.9 -0.9M204 401l-3.2 -1.0M431 123l1.5 2.1M320 407l-1.5 0.8M187 347l-3.0 -2.0M267 332l-3.0 0.9M276 216l0.9 0.6M184 381l-4.4 -2.3M195 162l4.3 -2.2M80 220l0.9 -3.6M321 89l5.2 2.2M73 152l2.4 -3.8M346 147l3.5 3.0M68 133l2.3 -3.2M88 377l-3.0 -4.2M370 250l0.3 3.4M70 424l-2.9 -3.2M300 393l-2.9 1.2M188 360l-3.6 -2.1M400 226l0.7 3.0M248 297l-1.7 0.1M370 310l-0.8 2.1M349 365l-3.7 3.7M96 225l1.4 -5.5M206 135l1.3 -0.4M323 86l3.4 1.5M231 138l3.0 -0.4M335 101l3.0 1.7M309 307l-1.4 2.0M165 207l2.3 -3.4M240 182l2.2 -0.2M102 288l-1.1 -5.7M303 76l6.5 2.0M133 88l3.0 -1.9M259 75l7.4 0.5M212 78l5.5 -1.0M425 83l2.3 2.3M103 211l1.1 -3.0M71 435l-5.5 -5.6M165 310l-1.3 -2.2M359 164l3.9 4.5M333 309l-1.4 2.6M303 83l6.5 2.1M242 149l2.4 -0.1M329 368l-1.7 1.3M203 445l-1.9 -0.5M206 432l-5.4 -1.3M254 243l0.4 0.2M341 202l0.7 1.1M422 107l3.5 4.0M319 278l-0.4 1.8M336 166l3.1 2.9M216 436l-6.2 -1.1M142 409l-3.3 -2.4M187 130l1.9 -0.9M73 157l2.1 -3.6M315 413l-4.7 2.1M420 429l-5.8 6.0M167 91l4.6 -2.1M197 442l-1.7 -0.5M413 180l2.4 5.0M332 254l0.3 3.2M374 121l4.8 4.4M428 383l-3.2 4.8M283 111l4.1 1.0M170 162l4.0 -3.1M156 149l4.2 -3.3M260 403l-2.1 0.2M397 231l1.1 5.6M288 202l1.4 1.0M100 281l-0.2 -1.6M398 171l1.7 2.8M203 253l0.5 -2.3M88 207l1.4 -4.1M252 402l-3.7 0.2M309 325l-1.5 1.5M225 153l1.4 -0.3M419 327l-0.8 2.1M375 228l0.8 2.9M355 186l2.4 3.4M352 325l-0.9 1.6M104 356l-2.7 -4.0M195 425l-4.3 -1.3M429 143l4.0 6.2M428 138l1.8 2.6M236 194l2.2 -0.3M99 88l1.9 -1.7M100 202l2.0 -5.0M277 136l3.6 0.9M428 435l-2.1 2.2M320 106l5.6 2.7M181 311l-2.1 -2.9M227 194l0.9 -0.2M310 326l-2.2 2.2M90 201l1.1 -2.7M118 116l2.3 -2.0M381 399l-3.8 3.7M180 198l2.7 -2.8M111 118l5.5 -5.2M161 432l-3.0 -1.5M96 194l2.4 -5.4M381 303l-1.1 3.5M224 204l2.8 -1.1M207 115l4.1 -1.1M200 193l3.1 -2.1M308 248l0.6 2.9M128 142l4.8 -4.7M101 352l-1.6 -2.6M99 429l-5.1 -4.5M180 153l3.6 -2.2M341 185l0.8 1.0M191 279l-0.4 -1.3M347 251l0.2 1.7M263 126l4.4 0.5M424 161l1.4 2.5M276 166l1.3 0.4M248 144l3.8 0.0M248 158l4.3 0.1M263 371l-4.0 0.6M155 158l1.9 -1.7M251 351l-1.3 0.1M158 80l6.1 -3.0M407 296l-0.9 4.4M220 197l1.6 -0.6M59 162l2.3 -4.3M186 305l-0.7 -1.0M203 423l-2.5 -0.7M429 75l7.0 6.9M422 417l-6.0 6.8M425 262l-0.0 6.1M127 381l-1.7 -1.7M381 362l-3.1 4.1M350 197l2.4 3.8M405 313l-1.6 4.8M147 225l1.3 -3.4M279 280l-0.4 0.6M65 255l0.2 -6.3M431 127l5.2 7.1M164 440l-3.8 -1.8M359 288l-0.8 3.5M84 125l5.0 -5.9M80 305l-1.7 -6.5M298 290l-1.1 2.0M354 184l1.0 1.4M174 310l-0.9 -1.3M191 249l0.3 -1.4M302 426l-4.2 1.4M359 162l3.8 4.3" stroke="#fff" stroke-opacity="0.110" stroke-width="1.9" stroke-linecap="round" fill="none" filter="url(#b3)"/>
<g filter="url(#b2)">
<path d="M216.3 250.8 L217.8 247.3 L219.7 244.1 L221.9 241.1 L246.4 261.7 Z" fill="url(#h32)" opacity="0.28"/>
<path d="M233.5 252.2 L233.8 251.9 L246.4 261.7 Z" fill="url(#h16)" opacity="0.10"/>
<path d="M228.2 253.4 L228.3 253.1 L246.4 261.7 Z" fill="url(#h20)" opacity="0.16"/>
<path d="M225.2 250.4 L226.0 249.1 L246.4 261.7 Z" fill="url(#h24)" opacity="0.06"/>
<path d="M227.3 247.2 L228.0 246.3 L246.4 261.7 Z" fill="url(#h24)" opacity="0.18"/>
<path d="M229.5 251.1 L230.0 250.3 L246.4 261.7 Z" fill="url(#h20)" opacity="0.18"/>
<path d="M223.8 253.5 L224.2 252.7 L246.4 261.7 Z" fill="url(#h24)" opacity="0.14"/>
<path d="M225.0 250.8 L225.3 250.3 L246.4 261.7 Z" fill="url(#h24)" opacity="0.05"/>
<path d="M222.0 248.0 L223.2 246.0 L246.4 261.7 Z" fill="url(#h28)" opacity="0.18"/>
<path d="M222.1 247.8 L222.9 246.5 L246.4 261.7 Z" fill="url(#h28)" opacity="0.05"/>
<path d="M221.0 249.9 L221.6 248.7 L246.4 261.7 Z" fill="url(#h28)" opacity="0.17"/>
<path d="M216.2 242.1 L217.0 240.9 L246.4 261.7 Z" fill="url(#h36)" opacity="0.13"/>
<path d="M223.8 253.5 L224.3 252.3 L246.4 261.7 Z" fill="url(#h24)" opacity="0.10"/>
<path d="M198.1 219.7 L202.8 214.9 L207.9 210.6 L213.4 206.8 L219.4 203.7 L225.6 201.2 L246.4 261.7 Z" fill="url(#h64)" opacity="0.80"/>
<path d="M211.7 207.9 L215.9 205.4 L246.4 261.7 Z" fill="url(#h64)" opacity="0.50"/>
<path d="M214.1 211.1 L215.4 210.3 L246.4 261.7 Z" fill="url(#h60)" opacity="0.47"/>
<path d="M219.9 231.7 L222.5 229.6 L246.4 261.7 Z" fill="url(#h40)" opacity="0.36"/>
<path d="M215.9 230.0 L217.8 228.3 L246.4 261.7 Z" fill="url(#h44)" opacity="0.33"/>
<path d="M194.8 211.4 L199.1 207.4 L246.4 261.7 Z" fill="url(#h72)" opacity="0.33"/>
<path d="M215.0 230.9 L216.8 229.2 L246.4 261.7 Z" fill="url(#h44)" opacity="0.49"/>
<path d="M228.2 221.6 L229.2 221.2 L246.4 261.7 Z" fill="url(#h44)" opacity="0.38"/>
<path d="M216.9 229.0 L217.8 228.3 L246.4 261.7 Z" fill="url(#h44)" opacity="0.14"/>
<path d="M230.2 225.1 L231.2 224.7 L246.4 261.7 Z" fill="url(#h40)" opacity="0.23"/>
<path d="M198.1 219.7 L200.3 217.4 L246.4 261.7 Z" fill="url(#h64)" opacity="0.33"/>
<path d="M224.1 206.0 L226.9 205.0 L246.4 261.7 Z" fill="url(#h60)" opacity="0.18"/>
<path d="M213.7 197.6 L214.8 197.0 L246.4 261.7 Z" fill="url(#h72)" opacity="0.44"/>
<path d="M212.9 202.5 L214.5 201.7 L246.4 261.7 Z" fill="url(#h68)" opacity="0.43"/>
<path d="M226.8 213.5 L229.1 212.6 L246.4 261.7 Z" fill="url(#h52)" opacity="0.47"/>
<path d="M206.9 211.4 L210.2 208.9 L246.4 261.7 Z" fill="url(#h64)" opacity="0.20"/>
<path d="M206.0 202.1 L210.5 199.3 L246.4 261.7 Z" fill="url(#h72)" opacity="0.22"/>
<path d="M217.9 228.1 L219.6 226.8 L246.4 261.7 Z" fill="url(#h44)" opacity="0.12"/>
<path d="M219.5 217.2 L222.6 215.4 L246.4 261.7 Z" fill="url(#h52)" opacity="0.17"/>
<path d="M229.5 212.5 L236.9 210.6 L244.6 209.7 L246.4 261.7 Z" fill="url(#h52)" opacity="0.76"/>
<path d="M235.7 214.9 L236.9 214.6 L246.4 261.7 Z" fill="url(#h48)" opacity="0.14"/>
<path d="M235.1 219.2 L236.0 219.0 L246.4 261.7 Z" fill="url(#h44)" opacity="0.46"/>
<path d="M241.9 230.0 L242.7 229.9 L246.4 261.7 Z" fill="url(#h32)" opacity="0.37"/>
<path d="M236.0 231.4 L237.7 230.9 L246.4 261.7 Z" fill="url(#h32)" opacity="0.15"/>
<path d="M242.7 221.9 L244.5 221.7 L246.4 261.7 Z" fill="url(#h40)" opacity="0.13"/>
<path d="M239.0 210.2 L241.9 209.9 L246.4 261.7 Z" fill="url(#h52)" opacity="0.15"/>
<path d="M239.8 234.5 L240.9 234.2 L246.4 261.7 Z" fill="url(#h28)" opacity="0.28"/>
<path d="M236.0 210.7 L238.7 210.3 L246.4 261.7 Z" fill="url(#h52)" opacity="0.28"/>
<path d="M238.2 222.6 L239.4 222.3 L246.4 261.7 Z" fill="url(#h40)" opacity="0.20"/>
<path d="M236.1 218.9 L238.9 218.4 L246.4 261.7 Z" fill="url(#h44)" opacity="0.20"/>
<path d="M244.3 201.7 L252.0 202.0 L259.6 203.2 L266.9 205.3 L246.4 261.7 Z" fill="url(#h60)" opacity="0.68"/>
<path d="M261.6 199.5 L263.3 200.0 L246.4 261.7 Z" fill="url(#h64)" opacity="0.40"/>
<path d="M248.0 205.7 L249.6 205.8 L246.4 261.7 Z" fill="url(#h56)" opacity="0.11"/>
<path d="M255.0 198.3 L258.3 198.8 L246.4 261.7 Z" fill="url(#h64)" opacity="0.17"/>
<path d="M258.8 211.2 L260.0 211.5 L246.4 261.7 Z" fill="url(#h52)" opacity="0.25"/>
<path d="M250.4 213.9 L252.8 214.1 L246.4 261.7 Z" fill="url(#h48)" opacity="0.34"/>
<path d="M256.5 214.8 L257.4 215.0 L246.4 261.7 Z" fill="url(#h48)" opacity="0.20"/>
<path d="M257.1 202.7 L261.5 203.6 L246.4 261.7 Z" fill="url(#h60)" opacity="0.41"/>
<path d="M256.8 227.2 L258.7 227.9 L246.4 261.7 Z" fill="url(#h36)" opacity="0.34"/>
<path d="M258.9 215.4 L262.6 216.5 L246.4 261.7 Z" fill="url(#h48)" opacity="0.14"/>
<path d="M252.6 218.1 L253.8 218.3 L246.4 261.7 Z" fill="url(#h44)" opacity="0.16"/>
<path d="M262.0 199.6 L267.2 201.2 L246.4 261.7 Z" fill="url(#h64)" opacity="0.30"/>
<path d="M258.9 215.3 L262.6 216.5 L246.4 261.7 Z" fill="url(#h48)" opacity="0.23"/>
<path d="M250.5 197.8 L252.5 198.0 L246.4 261.7 Z" fill="url(#h64)" opacity="0.21"/>
<path d="M266.9 205.3 L273.3 208.1 L279.4 211.6 L285.0 215.7 L246.4 261.7 Z" fill="url(#h60)" opacity="0.48"/>
<path d="M269.1 214.9 L272.7 216.8 L246.4 261.7 Z" fill="url(#h52)" opacity="0.08"/>
<path d="M273.7 217.5 L274.8 218.1 L246.4 261.7 Z" fill="url(#h52)" opacity="0.13"/>
<path d="M273.2 221.9 L275.4 223.5 L246.4 261.7 Z" fill="url(#h48)" opacity="0.25"/>
<path d="M279.9 216.8 L282.0 218.4 L246.4 261.7 Z" fill="url(#h56)" opacity="0.11"/>
<path d="M281.1 217.8 L282.1 218.6 L246.4 261.7 Z" fill="url(#h56)" opacity="0.16"/>
<path d="M263.8 217.0 L265.0 217.4 L246.4 261.7 Z" fill="url(#h48)" opacity="0.11"/>
<path d="M274.6 208.7 L279.1 211.4 L246.4 261.7 Z" fill="url(#h60)" opacity="0.28"/>
<path d="M263.4 230.0 L264.4 230.5 L246.4 261.7 Z" fill="url(#h36)" opacity="0.21"/>
<path d="M265.9 222.3 L268.4 223.6 L246.4 261.7 Z" fill="url(#h44)" opacity="0.14"/>
<path d="M270.7 220.3 L274.0 222.4 L246.4 261.7 Z" fill="url(#h48)" opacity="0.26"/>
<path d="M268.3 201.6 L270.4 202.4 L246.4 261.7 Z" fill="url(#h64)" opacity="0.08"/>
<path d="M266.6 231.9 L268.0 232.9 L246.4 261.7 Z" fill="url(#h36)" opacity="0.23"/>
<path d="M285.0 215.7 L289.9 220.4 L294.3 225.6 L298.1 231.2 L301.2 237.3 L246.4 261.7 Z" fill="url(#h60)" opacity="0.68"/>
<path d="M278.8 246.0 L279.3 247.1 L246.4 261.7 Z" fill="url(#h36)" opacity="0.28"/>
<path d="M282.4 218.8 L285.3 221.4 L246.4 261.7 Z" fill="url(#h56)" opacity="0.26"/>
<path d="M267.3 237.4 L268.3 238.4 L246.4 261.7 Z" fill="url(#h32)" opacity="0.15"/>
<path d="M283.9 231.8 L285.1 233.3 L246.4 261.7 Z" fill="url(#h48)" opacity="0.33"/>
<path d="M282.4 218.8 L285.0 221.1 L246.4 261.7 Z" fill="url(#h56)" opacity="0.29"/>
<path d="M277.3 224.9 L279.4 226.8 L246.4 261.7 Z" fill="url(#h48)" opacity="0.18"/>
<path d="M279.9 239.8 L280.9 241.5 L246.4 261.7 Z" fill="url(#h40)" opacity="0.14"/>
<path d="M302.2 230.3 L304.4 234.5 L246.4 261.7 Z" fill="url(#h64)" opacity="0.33"/>
<path d="M273.5 238.0 L275.4 240.3 L246.4 261.7 Z" fill="url(#h36)" opacity="0.26"/>
<path d="M298.8 232.6 L300.4 235.5 L246.4 261.7 Z" fill="url(#h60)" opacity="0.37"/>
<path d="M272.0 236.3 L274.0 238.6 L246.4 261.7 Z" fill="url(#h36)" opacity="0.36"/>
<path d="M269.5 234.1 L270.0 234.5 L246.4 261.7 Z" fill="url(#h36)" opacity="0.17"/>
<path d="M288.1 230.6 L289.5 232.6 L246.4 261.7 Z" fill="url(#h52)" opacity="0.41"/>
<path d="M294.0 218.9 L294.9 220.0 L246.4 261.7 Z" fill="url(#h64)" opacity="0.44"/>
<path d="M292.6 237.9 L293.9 240.5 L246.4 261.7 Z" fill="url(#h52)" opacity="0.14"/>
<path d="M285.1 240.8 L286.6 243.8 L246.4 261.7 Z" fill="url(#h44)" opacity="0.16"/>
<path d="M293.9 240.5 L296.2 246.7 L297.7 253.1 L298.4 259.7 L298.2 266.2 L246.4 261.7 Z" fill="url(#h52)" opacity="0.40"/>
<path d="M283.0 245.6 L283.7 247.3 L246.4 261.7 Z" fill="url(#h40)" opacity="0.13"/>
<path d="M288.7 249.5 L289.5 252.6 L246.4 261.7 Z" fill="url(#h44)" opacity="0.09"/>
<path d="M278.1 257.1 L278.3 258.8 L246.4 261.7 Z" fill="url(#h32)" opacity="0.15"/>
<path d="M303.9 244.6 L304.5 246.7 L246.4 261.7 Z" fill="url(#h60)" opacity="0.26"/>
<path d="M289.4 252.5 L290.0 256.0 L246.4 261.7 Z" fill="url(#h44)" opacity="0.23"/>
<path d="M285.8 254.5 L286.0 256.1 L246.4 261.7 Z" fill="url(#h40)" opacity="0.24"/>
<path d="M306.4 260.4 L306.3 265.4 L246.4 261.7 Z" fill="url(#h60)" opacity="0.11"/>
<path d="M290.3 242.2 L291.1 244.3 L246.4 261.7 Z" fill="url(#h48)" opacity="0.13"/>
<path d="M299.4 243.6 L300.5 247.3 L246.4 261.7 Z" fill="url(#h56)" opacity="0.09"/>
<path d="M284.9 250.9 L285.3 252.5 L246.4 261.7 Z" fill="url(#h40)" opacity="0.21"/>
<path d="M297.6 238.9 L298.2 240.4 L246.4 261.7 Z" fill="url(#h56)" opacity="0.07"/>
<path d="M304.6 247.3 L305.7 252.3 L246.4 261.7 Z" fill="url(#h60)" opacity="0.20"/>
<path d="M290.3 259.4 L290.4 262.0 L246.4 261.7 Z" fill="url(#h44)" opacity="0.07"/>
<path d="M277.9 255.9 L278.0 256.5 L246.4 261.7 Z" fill="url(#h32)" opacity="0.16"/>
<path d="M294.4 262.3 L294.3 264.5 L246.4 261.7 Z" fill="url(#h48)" opacity="0.09"/>
<path d="M305.7 252.8 L306.3 257.7 L246.4 261.7 Z" fill="url(#h60)" opacity="0.07"/>
<path d="M288.1 247.7 L288.8 249.8 L246.4 261.7 Z" fill="url(#h44)" opacity="0.24"/>
<path d="M282.3 258.7 L282.4 260.8 L246.4 261.7 Z" fill="url(#h36)" opacity="0.19"/>
<path d="M306.2 266.9 L305.1 274.2 L303.1 281.2 L300.3 288.0 L296.7 294.4 L292.4 300.3 L246.4 261.7 Z" fill="url(#h60)" opacity="0.36"/>
<path d="M276.3 273.0 L275.5 274.9 L246.4 261.7 Z" fill="url(#h32)" opacity="0.12"/>
<path d="M296.6 275.2 L295.9 277.5 L246.4 261.7 Z" fill="url(#h52)" opacity="0.20"/>
<path d="M290.7 280.1 L290.1 281.5 L246.4 261.7 Z" fill="url(#h48)" opacity="0.16"/>
<path d="M298.2 266.3 L297.8 269.3 L246.4 261.7 Z" fill="url(#h52)" opacity="0.17"/>
<path d="M278.6 277.8 L277.4 280.0 L246.4 261.7 Z" fill="url(#h36)" opacity="0.11"/>
<path d="M308.8 275.8 L307.8 279.6 L246.4 261.7 Z" fill="url(#h64)" opacity="0.12"/>
<path d="M280.4 282.8 L280.0 283.4 L246.4 261.7 Z" fill="url(#h40)" opacity="0.15"/>
<path d="M299.2 297.9 L296.6 301.4 L246.4 261.7 Z" fill="url(#h64)" opacity="0.23"/>
<path d="M285.5 270.0 L284.7 273.2 L246.4 261.7 Z" fill="url(#h40)" opacity="0.16"/>
<path d="M289.5 270.4 L289.3 271.5 L246.4 261.7 Z" fill="url(#h44)" opacity="0.18"/>
<path d="M285.1 282.6 L284.5 283.7 L246.4 261.7 Z" fill="url(#h44)" opacity="0.23"/>
<path d="M308.7 289.0 L306.5 293.6 L246.4 261.7 Z" fill="url(#h68)" opacity="0.08"/>
<path d="M306.2 266.9 L305.7 271.0 L246.4 261.7 Z" fill="url(#h60)" opacity="0.11"/>
<path d="M283.9 284.6 L282.4 287.1 L246.4 261.7 Z" fill="url(#h44)" opacity="0.18"/>
<path d="M291.0 288.5 L289.5 290.8 L246.4 261.7 Z" fill="url(#h52)" opacity="0.09"/>
<path d="M306.0 269.0 L305.8 270.3 L246.4 261.7 Z" fill="url(#h60)" opacity="0.23"/>
<path d="M287.5 286.5 L285.4 289.6 L246.4 261.7 Z" fill="url(#h48)" opacity="0.07"/>
<path d="M288.8 291.9 L287.0 294.1 L246.4 261.7 Z" fill="url(#h52)" opacity="0.18"/>
<path d="M297.5 271.4 L296.5 275.6 L246.4 261.7 Z" fill="url(#h52)" opacity="0.16"/>
<path d="M308.1 278.7 L307.0 282.2 L246.4 261.7 Z" fill="url(#h64)" opacity="0.08"/>
<path d="M301.4 272.1 L300.6 275.7 L246.4 261.7 Z" fill="url(#h56)" opacity="0.14"/>
<path d="M283.2 292.6 L279.7 296.2 L276.0 299.5 L271.8 302.4 L267.4 304.8 L262.8 306.8 L258.0 308.3 L253.1 309.2 L248.1 309.7 L243.1 309.6 L238.1 309.0 L246.4 261.7 Z" fill="url(#h48)" opacity="0.40"/>
<path d="M249.9 293.5 L248.2 293.6 L246.4 261.7 Z" fill="url(#h32)" opacity="0.12"/>
<path d="M263.6 288.7 L262.4 289.4 L246.4 261.7 Z" fill="url(#h32)" opacity="0.24"/>
<path d="M262.6 289.3 L261.7 289.8 L246.4 261.7 Z" fill="url(#h32)" opacity="0.16"/>
<path d="M269.9 283.4 L268.8 284.5 L246.4 261.7 Z" fill="url(#h32)" opacity="0.16"/>
<path d="M281.9 299.7 L280.6 300.9 L246.4 261.7 Z" fill="url(#h52)" opacity="0.07"/>
<path d="M264.1 306.3 L260.8 307.5 L246.4 261.7 Z" fill="url(#h48)" opacity="0.09"/>
<path d="M272.7 301.8 L270.4 303.3 L246.4 261.7 Z" fill="url(#h48)" opacity="0.24"/>
<path d="M255.3 288.3 L254.5 288.5 L246.4 261.7 Z" fill="url(#h28)" opacity="0.17"/>
<path d="M245.2 309.7 L243.5 309.6 L246.4 261.7 Z" fill="url(#h48)" opacity="0.21"/>
<path d="M277.0 287.4 L276.6 288.0 L246.4 261.7 Z" fill="url(#h40)" opacity="0.11"/>
<path d="M269.2 284.1 L267.7 285.5 L246.4 261.7 Z" fill="url(#h32)" opacity="0.18"/>
<path d="M241.3 293.3 L240.8 293.2 L246.4 261.7 Z" fill="url(#h32)" opacity="0.08"/>
<path d="M265.6 305.7 L262.3 307.0 L246.4 261.7 Z" fill="url(#h48)" opacity="0.12"/>
<path d="M267.7 295.6 L265.8 296.7 L246.4 261.7 Z" fill="url(#h40)" opacity="0.08"/>
<path d="M244.2 309.7 L240.7 309.4 L246.4 261.7 Z" fill="url(#h48)" opacity="0.08"/>
<path d="M262.1 311.3 L260.7 311.7 L246.4 261.7 Z" fill="url(#h52)" opacity="0.10"/>
<path d="M274.9 289.7 L273.4 291.2 L246.4 261.7 Z" fill="url(#h40)" opacity="0.15"/>
<path d="M251.9 301.3 L249.7 301.6 L246.4 261.7 Z" fill="url(#h40)" opacity="0.24"/>
<path d="M264.0 283.5 L262.8 284.4 L246.4 261.7 Z" fill="url(#h28)" opacity="0.22"/>
<path d="M276.9 298.7 L274.8 300.4 L246.4 261.7 Z" fill="url(#h48)" opacity="0.08"/>
<path d="M278.2 292.2 L276.5 293.8 L246.4 261.7 Z" fill="url(#h44)" opacity="0.10"/>
<path d="M269.7 299.0 L266.5 300.8 L246.4 261.7 Z" fill="url(#h44)" opacity="0.09"/>
<path d="M253.3 288.8 L252.3 289.1 L246.4 261.7 Z" fill="url(#h28)" opacity="0.06"/>
<path d="M248.8 293.6 L246.1 293.7 L246.4 261.7 Z" fill="url(#h32)" opacity="0.21"/>
<path d="M250.8 313.5 L249.3 313.6 L246.4 261.7 Z" fill="url(#h52)" opacity="0.24"/>
<path d="M282.1 293.8 L281.0 295.0 L246.4 261.7 Z" fill="url(#h48)" opacity="0.14"/>
<path d="M281.7 299.9 L280.9 300.6 L246.4 261.7 Z" fill="url(#h52)" opacity="0.25"/>
<path d="M265.1 301.5 L262.3 302.7 L246.4 261.7 Z" fill="url(#h44)" opacity="0.26"/>
<path d="M270.8 298.3 L268.9 299.5 L246.4 261.7 Z" fill="url(#h44)" opacity="0.25"/>
<path d="M244.3 301.6 L241.5 301.4 L246.4 261.7 Z" fill="url(#h40)" opacity="0.13"/>
<path d="M240.2 313.3 L237.4 312.9 L246.4 261.7 Z" fill="url(#h52)" opacity="0.12"/>
<path d="M262.3 298.4 L260.5 299.1 L246.4 261.7 Z" fill="url(#h40)" opacity="0.24"/>
<path d="M261.8 298.6 L259.2 299.6 L246.4 261.7 Z" fill="url(#h40)" opacity="0.24"/>
<path d="M247.6 317.7 L245.4 317.7 L246.4 261.7 Z" fill="url(#h56)" opacity="0.23"/>
<path d="M249.2 301.6 L246.6 301.7 L246.4 261.7 Z" fill="url(#h40)" opacity="0.09"/>
<path d="M277.6 292.7 L276.3 294.0 L246.4 261.7 Z" fill="url(#h44)" opacity="0.23"/>
<path d="M267.8 300.1 L265.2 301.5 L246.4 261.7 Z" fill="url(#h44)" opacity="0.24"/>
<path d="M203.5 297.7 L199.4 292.2 L196.1 286.2 L193.5 279.9 L191.6 273.3 L246.4 261.7 Z" fill="url(#h56)" opacity="0.34"/>
<path d="M192.3 276.0 L192.0 275.0 L246.4 261.7 Z" fill="url(#h56)" opacity="0.10"/>
<path d="M203.8 272.5 L203.5 271.6 L246.4 261.7 Z" fill="url(#h44)" opacity="0.06"/>
<path d="M213.4 276.0 L213.1 275.3 L246.4 261.7 Z" fill="url(#h36)" opacity="0.15"/>
<path d="M198.0 297.2 L197.4 296.3 L246.4 261.7 Z" fill="url(#h60)" opacity="0.19"/>
<path d="M200.6 286.3 L198.8 282.7 L246.4 261.7 Z" fill="url(#h52)" opacity="0.20"/>
<path d="M202.1 295.9 L201.4 295.0 L246.4 261.7 Z" fill="url(#h56)" opacity="0.10"/>
<path d="M203.2 282.7 L201.9 279.7 L246.4 261.7 Z" fill="url(#h48)" opacity="0.10"/>
<path d="M200.0 273.9 L199.5 271.8 L246.4 261.7 Z" fill="url(#h48)" opacity="0.14"/>
<path d="M206.6 295.1 L205.1 293.3 L246.4 261.7 Z" fill="url(#h52)" opacity="0.08"/>
<path d="M187.0 285.4 L185.9 282.5 L246.4 261.7 Z" fill="url(#h64)" opacity="0.11"/>
<path d="M215.7 287.4 L213.7 284.8 L246.4 261.7 Z" fill="url(#h40)" opacity="0.21"/>
<path d="M202.1 280.2 L201.4 278.3 L246.4 261.7 Z" fill="url(#h48)" opacity="0.18"/>
<path d="M208.0 272.9 L207.7 271.8 L246.4 261.7 Z" fill="url(#h40)" opacity="0.07"/>
<path d="M210.6 279.6 L210.0 278.3 L246.4 261.7 Z" fill="url(#h40)" opacity="0.16"/>
<path d="M199.8 273.1 L199.4 271.7 L246.4 261.7 Z" fill="url(#h48)" opacity="0.12"/>
<path d="M213.8 277.0 L213.2 275.7 L246.4 261.7 Z" fill="url(#h36)" opacity="0.10"/>
<path d="M184.8 279.2 L184.0 275.9 L246.4 261.7 Z" fill="url(#h64)" opacity="0.05"/>
<path d="M187.7 274.2 L186.7 268.0 L186.4 261.7 L246.4 261.7 Z" fill="url(#h60)" opacity="0.76"/>
<path d="M211.2 269.2 L210.7 266.3 L246.4 261.7 Z" fill="url(#h36)" opacity="0.34"/>
<path d="M195.3 271.3 L195.1 269.9 L246.4 261.7 Z" fill="url(#h52)" opacity="0.45"/>
<path d="M206.6 265.7 L206.5 265.0 L246.4 261.7 Z" fill="url(#h40)" opacity="0.49"/>
<path d="M202.5 264.9 L202.4 262.5 L246.4 261.7 Z" fill="url(#h44)" opacity="0.23"/>
<path d="M183.8 275.0 L183.5 273.5 L246.4 261.7 Z" fill="url(#h64)" opacity="0.25"/>
<path d="M190.5 265.8 L190.4 261.7 L246.4 261.7 Z" fill="url(#h56)" opacity="0.22"/>
<path d="M206.7 266.9 L206.6 265.9 L246.4 261.7 Z" fill="url(#h40)" opacity="0.25"/>
<path d="M266.8 192.7 L269.2 193.4 L246.4 261.7 Z" fill="url(#h72)" opacity="0.55"/>
<path d="M287.2 202.4 L290.2 204.6 L246.4 261.7 Z" fill="url(#h72)" opacity="0.55"/>
<path d="M321.1 247.5 L321.4 249.5 L246.4 261.7 Z" fill="url(#h76)" opacity="0.55"/>
<path d="M310.4 259.2 L310.4 262.0 L246.4 261.7 Z" fill="url(#h64)" opacity="0.55"/>
<path d="M306.7 293.1 L305.6 295.2 L246.4 261.7 Z" fill="url(#h68)" opacity="0.55"/>
<path d="M302.4 230.7 L303.4 232.6 L246.4 261.7 Z" fill="url(#h64)" opacity="0.55"/>
<path d="M194.5 240.7 L194.8 240.0 L246.4 261.7 Z" fill="url(#h56)" opacity="0.55"/>
</g>
<path d="M240.4 259.2 L194.2 240.1" stroke="#ddd" stroke-opacity="0.3" stroke-width="0.8"/>
<path d="M80.6 270.1 L85.8 269.4 L88.5 272.5 L88.5 280.8 L87.6 288.1 L89.5 295.5 L92.2 300.1 L94.1 304.4 L91.3 306.2 L86.7 303.3 L83.0 297.4 L80.3 290.0 L80.6 280.8 L81.2 273.4 Z M102.0 302.5 L107.0 300.7 L111.6 302.5 L114.3 307.5 L114.3 315.8 L106.0 319.1 L97.8 322.8 L106.0 317.8 L109.0 313.2 L109.2 308.8 L107.1 305.5 L103.5 304.2 Z M83.0 328.7 L87.6 326.5 L93.1 325.9 L97.8 328.7 L101.4 333.3 L105.1 337.0 L108.3 334.6 L111.6 336.0 L113.4 341.6 L116.7 344.3 L114.3 347.1 L110.6 347.6 L107.5 343.4 L105.1 339.7 L101.4 339.3 L98.7 343.0 L95.9 339.7 L94.1 335.1 L90.4 330.9 L85.8 329.0 Z M236.2 283.3 L238.2 279.3 L240.8 277.1 L243.4 279.3 L246.7 283.3 L249.3 287.9 L251.3 293.2 L253.3 297.1 L255.9 301.7 L258.6 305.7 L260.3 303.4 L261.8 304.7 L262.1 308.9 L264.5 311.6 L266.8 316.8 L269.7 320.1 L271.3 323.4 L270.4 326.7 L268.4 326.7 L266.4 322.8 L264.5 318.2 L261.2 314.9 L257.2 310.9 L254.6 307.0 L252.0 302.4 L249.7 297.1 L248.0 292.5 L244.7 289.5 L240.8 287.2 L238.2 285.9 Z M273.4 331.7 L275.3 331.3 L277.1 335.0 L278.3 339.3 L276.9 339.9 L274.9 336.2 Z M277.1 330.1 L281.4 326.0 L282.6 328.9 L282.3 332.2 L279.6 333.2 Z M285.5 339.0 L288.2 336.8 L291.8 337.8 L294.9 340.5 L295.3 344.2 L293.1 344.4 L291.2 343.0 L290.0 346.7 L289.1 352.8 L288.8 358.9 L287.9 363.8 L286.3 361.4 L285.1 355.3 L284.5 347.9 L285.1 342.4 Z M298.0 347.3 L300.7 346.0 L303.5 348.5 L306.0 352.2 L308.4 354.6 L309.6 349.1 L312.7 346.4 L317.6 345.7 L321.9 344.0 L325.6 345.2 L328.7 348.5 L330.9 351.0 L328.1 351.6 L325.0 350.3 L321.9 352.2 L318.8 351.6 L315.8 353.4 L314.9 357.7 L313.3 363.2 L311.5 361.4 L310.3 357.7 L309.0 355.9 L306.6 355.3 L304.1 355.9 L301.7 352.8 L299.4 349.7 Z M306.5 236.5 L312.5 234.0 L313.0 236.0 L307.0 238.5 Z" fill="#fff" stroke="#fff" stroke-width="1.2" stroke-linejoin="round" filter="url(#bl)" opacity="0.85"/>
<path d="M80.6 270.1 L85.8 269.4 L88.5 272.5 L88.5 280.8 L87.6 288.1 L89.5 295.5 L92.2 300.1 L94.1 304.4 L91.3 306.2 L86.7 303.3 L83.0 297.4 L80.3 290.0 L80.6 280.8 L81.2 273.4 Z M102.0 302.5 L107.0 300.7 L111.6 302.5 L114.3 307.5 L114.3 315.8 L106.0 319.1 L97.8 322.8 L106.0 317.8 L109.0 313.2 L109.2 308.8 L107.1 305.5 L103.5 304.2 Z M83.0 328.7 L87.6 326.5 L93.1 325.9 L97.8 328.7 L101.4 333.3 L105.1 337.0 L108.3 334.6 L111.6 336.0 L113.4 341.6 L116.7 344.3 L114.3 347.1 L110.6 347.6 L107.5 343.4 L105.1 339.7 L101.4 339.3 L98.7 343.0 L95.9 339.7 L94.1 335.1 L90.4 330.9 L85.8 329.0 Z M236.2 283.3 L238.2 279.3 L240.8 277.1 L243.4 279.3 L246.7 283.3 L249.3 287.9 L251.3 293.2 L253.3 297.1 L255.9 301.7 L258.6 305.7 L260.3 303.4 L261.8 304.7 L262.1 308.9 L264.5 311.6 L266.8 316.8 L269.7 320.1 L271.3 323.4 L270.4 326.7 L268.4 326.7 L266.4 322.8 L264.5 318.2 L261.2 314.9 L257.2 310.9 L254.6 307.0 L252.0 302.4 L249.7 297.1 L248.0 292.5 L244.7 289.5 L240.8 287.2 L238.2 285.9 Z M273.4 331.7 L275.3 331.3 L277.1 335.0 L278.3 339.3 L276.9 339.9 L274.9 336.2 Z M277.1 330.1 L281.4 326.0 L282.6 328.9 L282.3 332.2 L279.6 333.2 Z M285.5 339.0 L288.2 336.8 L291.8 337.8 L294.9 340.5 L295.3 344.2 L293.1 344.4 L291.2 343.0 L290.0 346.7 L289.1 352.8 L288.8 358.9 L287.9 363.8 L286.3 361.4 L285.1 355.3 L284.5 347.9 L285.1 342.4 Z M298.0 347.3 L300.7 346.0 L303.5 348.5 L306.0 352.2 L308.4 354.6 L309.6 349.1 L312.7 346.4 L317.6 345.7 L321.9 344.0 L325.6 345.2 L328.7 348.5 L330.9 351.0 L328.1 351.6 L325.0 350.3 L321.9 352.2 L318.8 351.6 L315.8 353.4 L314.9 357.7 L313.3 363.2 L311.5 361.4 L310.3 357.7 L309.0 355.9 L306.6 355.3 L304.1 355.9 L301.7 352.8 L299.4 349.7 Z M306.5 236.5 L312.5 234.0 L313.0 236.0 L307.0 238.5 Z" fill="#ff0"/>
<path d="M238.8 282.0 L241.4 280.7 L244.7 284.6 L248.0 288.6 L250.7 293.2 L253.3 299.1 L255.5 303.0 L254.2 303.7 L251.3 299.1 L248.7 293.8 L246.1 289.9 L242.1 286.6 L239.2 284.6 Z M264.5 313.6 L267.1 318.2 L269.1 320.8 L267.8 321.4 L265.5 318.2 Z" fill="#fff" filter="url(#b2)"/>
<path d="M204.5 320.3 L212.3 309.4 M230.8 284.5 L235.0 277.8" stroke="#ff0" stroke-width="1.1" fill="none"/>
<path d="M239.1 259.2 l1.5 -1 l1.2 3.2 l-2.4 0.6z M249.0 255.1 l1.8 -2.6 l0.9 0.6 l-1.8 2.6z M238.9 264.9 l2.8 -2 l0.6 1 l-2.8 2z" fill="#ff0"/>
<path d="M98.6 75.3 L94.9 80.2 L91.5 84.3 L92.4 91.4 L91.5 95.9 L94.9 98.6 L97.9 105.6 L101.6 110.9 L108.4 111.6 L112.4 108.2 L114.3 109.1 L121.4 106.7 L122.5 99.6 L127.8 97.4 L130.0 91.4 L133.8 89.9 L132.3 83.2 L133.3 81.0 L132.0 75.3 M85.9 86.2 L87.4 84.9 L88.9 84.7 L87.7 86.0 Z M56.8 179.3 L69.5 179.3 L71.7 176.0 L73.2 173.0 L75.5 173.5 L82.9 177.1 L87.4 181.3 L100.1 177.5 L113.6 170.8 L127.0 162.3 L127.8 154.7 L130.3 154.1 L130.0 149.1 L133.3 146.9 L130.8 143.9 L127.0 144.7 L124.3 142.1 L127.8 140.2 L128.5 136.4 L130.8 134.6 L153.2 133.4 L154.2 146.1 L162.6 145.7 L163.6 140.2 L162.1 137.9 L163.2 134.6 L167.1 133.7 L168.1 131.2 L170.1 134.2 L171.8 135.6 L177.8 135.6 L183.7 138.9 L187.5 139.1 L191.2 137.1 L197.2 137.7 L202.4 139.1 L204.7 142.6 L208.4 143.3 L212.1 142.1 L213.6 140.0 L215.1 141.8 L219.6 141.5 L223.3 139.1 L224.8 136.6 L227.8 137.7 L231.6 136.6 L234.5 132.6 L237.8 135.9 L242.8 131.4 L242.0 129.6 L237.5 131.7 L239.8 129.1 L246.5 126.1 L250.2 127.2 L255.5 123.2 L254.0 125.7 L257.7 128.1 L260.2 126.1 L260.7 123.2 L262.6 122.4 L263.2 116.4 L271.2 116.7 L271.9 120.6 L275.6 119.7 L276.4 122.4 L279.7 122.4 L281.6 129.9 L283.1 132.1 L282.4 137.4 L275.6 137.4 L277.6 145.6 L277.6 145.5 L284.6 143.4 L286.1 141.0 L289.8 145.2 L294.3 142.2 L292.8 137.7 L295.1 141.5 L305.5 136.3 L302.5 129.5 L294.3 132.5 L287.6 129.5 L294.3 126.1 L287.6 110.1 L298.8 104.6 L308.1 124.0 L312.2 122.1 L313.7 125.0 L308.1 128.5 L309.3 132.1 L319.3 127.6 L314.5 118.6 L316.7 116.8 L319.0 119.8 L324.2 116.1 L322.7 112.6 L319.7 114.1 L311.5 102.6 L318.2 96.2 L332.4 107.9 L337.7 101.1 L335.4 99.3 L331.7 101.6 L320.5 89.9 L323.5 82.2 L330.2 79.2 L351.8 85.1 L352.9 75.7 L347.4 76.5 L348.9 80.2 L345.9 78.0 M247.2 112.7 L248.3 113.1 L249.5 117.2" fill="none" stroke="#fff" stroke-width="1.4" stroke-linejoin="round"/>
</g>
<g clip-path="url(#cr)">
<path d="M519.8 75.3 L516.1 80.2 L512.7 84.3 L513.6 91.4 L512.7 95.9 L516.1 98.6 L519.1 105.6 L522.8 110.9 L529.6 111.6 L533.6 108.2 L535.5 109.1 L542.6 106.7 L543.7 99.6 L549.0 97.4 L551.2 91.4 L555.0 89.9 L553.5 83.2 L554.5 81.0 L553.2 75.3 M507.1 86.2 L508.6 84.9 L510.1 84.7 L508.9 86.0 Z M478.0 179.3 L490.7 179.3 L492.9 176.0 L494.4 173.0 L496.7 173.5 L504.1 177.1 L508.6 181.3 L521.3 177.5 L534.8 170.8 L548.2 162.3 L549.0 154.7 L551.5 154.1 L551.2 149.1 L554.5 146.9 L552.0 143.9 L548.2 144.7 L545.5 142.1 L549.0 140.2 L549.7 136.4 L552.0 134.6 L574.4 133.4 L575.4 146.1 L583.8 145.7 L584.8 140.2 L583.3 137.9 L584.4 134.6 L588.3 133.7 L589.3 131.2 L591.3 134.2 L593.0 135.6 L599.0 135.6 L604.9 138.9 L608.7 139.1 L612.4 137.1 L618.4 137.7 L623.6 139.1 L625.9 142.6 L629.6 143.3 L633.3 142.1 L634.8 140.0 L636.3 141.8 L640.8 141.5 L644.5 139.1 L646.0 136.6 L649.0 137.7 L652.8 136.6 L655.7 132.6 L659.0 135.9 L664.0 131.4 L663.2 129.6 L658.7 131.7 L661.0 129.1 L667.7 126.1 L671.4 127.2 L676.7 123.2 L675.2 125.7 L678.9 128.1 L681.4 126.1 L681.9 123.2 L683.8 122.4 L684.4 116.4 L692.4 116.7 L693.1 120.6 L696.8 119.7 L697.6 122.4 L700.9 122.4 L702.8 129.9 L704.3 132.1 L703.6 137.4 L696.8 137.4 L698.8 145.6 L698.8 145.5 L705.8 143.4 L707.3 141.0 L711.0 145.2 L715.5 142.2 L714.0 137.7 L716.3 141.5 L726.7 136.3 L723.7 129.5 L715.5 132.5 L708.8 129.5 L715.5 126.1 L708.8 110.1 L720.0 104.6 L729.3 124.0 L733.4 122.1 L734.9 125.0 L729.3 128.5 L730.5 132.1 L740.5 127.6 L735.7 118.6 L737.9 116.8 L740.2 119.8 L745.4 116.1 L743.9 112.6 L740.9 114.1 L732.7 102.6 L739.4 96.2 L753.6 107.9 L758.9 101.1 L756.6 99.3 L752.9 101.6 L741.7 89.9 L744.7 82.2 L751.4 79.2 L773.0 85.1 L774.1 75.7 L768.6 76.5 L770.1 80.2 L767.1 78.0 M668.4 112.7 L669.5 113.1 L670.7 117.2" fill="none" stroke="#000" stroke-width="1.25" stroke-linejoin="round"/>
<g shape-rendering="crispEdges">
<path d="M634.7 228.2 L636.4 226.7 L667.6 261.7 Z" fill="#ff6400"/>
<path d="M641.3 225.5 L643.4 224.0 L645.7 222.6 L648.0 221.4 L667.6 261.7 Z" fill="#ff4400"/>
<path d="M634.7 217.2 L636.4 216.0 L667.6 261.7 Z" fill="#ff4400"/>
<path d="M638.0 220.0 L639.5 219.0 L667.6 261.7 Z" fill="#ff5500"/>
<path d="M641.0 222.8 L642.6 221.8 L667.6 261.7 Z" fill="#ff4e00"/>
<path d="M642.5 223.2 L643.9 222.4 L667.6 261.7 Z" fill="#ff5500"/>
<path d="M640.0 217.5 L641.7 216.4 L667.6 261.7 Z" fill="#ff4e00"/>
<path d="M640.6 216.3 L642.6 215.1 L667.6 261.7 Z" fill="#ff5500"/>
<path d="M642.0 215.9 L643.9 214.9 L667.6 261.7 Z" fill="#ff5500"/>
<path d="M646.4 221.7 L647.8 221.0 L667.6 261.7 Z" fill="#ff4400"/>
<path d="M642.9 213.2 L644.2 212.6 L667.6 261.7 Z" fill="#ff4e00"/>
<path d="M654.4 247.0 L655.0 246.5 L655.6 246.0 L656.2 245.5 L667.6 261.7 Z" fill="#ff4400"/>
<path d="M645.8 237.9 L646.7 237.0 L667.6 261.7 Z" fill="#ff5500"/>
<path d="M651.7 243.5 L652.3 243.0 L667.6 261.7 Z" fill="#ff4400"/>
<path d="M650.5 241.4 L651.3 240.7 L667.6 261.7 Z" fill="#ff4e00"/>
<path d="M650.1 239.9 L651.0 239.2 L667.6 261.7 Z" fill="#ff4400"/>
<path d="M652.7 242.3 L653.5 241.7 L667.6 261.7 Z" fill="#ff4400"/>
<path d="M655.7 245.3 L656.1 245.0 L667.6 261.7 Z" fill="#ff5500"/>
<path d="M654.9 236.8 L655.6 236.4 L656.4 236.1 L657.1 235.7 L667.6 261.7 Z" fill="#ff4400"/>
<path d="M652.1 231.9 L653.4 231.2 L667.6 261.7 Z" fill="#ff4e00"/>
<path d="M649.5 224.5 L650.9 223.8 L667.6 261.7 Z" fill="#ff5500"/>
<path d="M654.6 233.6 L655.6 233.2 L667.6 261.7 Z" fill="#ff4400"/>
<path d="M650.7 223.5 L652.2 222.9 L667.6 261.7 Z" fill="#ff4e00"/>
<path d="M653.8 228.5 L654.4 228.3 L667.6 261.7 Z" fill="#ff4400"/>
<path d="M657.3 238.5 L658.5 238.0 L659.7 237.5 L661.0 237.1 L667.6 261.7 Z" fill="#ff4400"/>
<path d="M656.2 236.7 L657.4 236.2 L667.6 261.7 Z" fill="#ff4400"/>
<path d="M657.7 238.2 L658.6 237.8 L667.6 261.7 Z" fill="#ff5800"/>
<path d="M657.9 237.3 L659.0 236.8 L667.6 261.7 Z" fill="#ff4e00"/>
<path d="M658.9 237.7 L660.0 237.4 L667.6 261.7 Z" fill="#ff5800"/>
<path d="M659.1 236.3 L660.3 236.0 L667.6 261.7 Z" fill="#ff6400"/>
<path d="M659.2 233.7 L660.2 233.4 L667.6 261.7 Z" fill="#ff6e04"/>
<path d="M659.9 234.2 L660.5 234.1 L667.6 261.7 Z" fill="#ff5800"/>
<path d="M659.5 231.6 L661.1 231.2 L662.7 230.9 L664.3 230.7 L667.6 261.7 Z" fill="#ff5800"/>
<path d="M658.2 228.0 L659.4 227.7 L667.6 261.7 Z" fill="#ff6400"/>
<path d="M657.8 223.9 L659.1 223.6 L667.6 261.7 Z" fill="#ff7c0a"/>
<path d="M658.4 223.6 L659.8 223.2 L667.6 261.7 Z" fill="#ff6400"/>
<path d="M658.9 222.4 L660.3 222.1 L667.6 261.7 Z" fill="#ff7c0a"/>
<path d="M661.3 230.3 L662.6 230.0 L667.6 261.7 Z" fill="#ff6400"/>
<path d="M661.8 228.7 L663.0 228.5 L667.6 261.7 Z" fill="#ff7c0a"/>
<path d="M662.4 228.2 L663.6 228.1 L667.6 261.7 Z" fill="#ff5800"/>
<path d="M663.2 228.9 L664.3 228.8 L667.6 261.7 Z" fill="#ff6400"/>
<path d="M663.3 225.3 L664.1 225.2 L667.6 261.7 Z" fill="#ff6e04"/>
<path d="M664.8 234.8 L666.0 234.7 L667.3 234.6 L668.5 234.7 L667.6 261.7 Z" fill="#ff5800"/>
<path d="M664.4 233.8 L665.6 233.7 L667.6 261.7 Z" fill="#ff7c0a"/>
<path d="M664.8 230.2 L666.0 230.1 L667.6 261.7 Z" fill="#ff7000"/>
<path d="M665.7 233.5 L666.7 233.4 L667.6 261.7 Z" fill="#ff6400"/>
<path d="M666.2 232.7 L667.5 232.7 L667.6 261.7 Z" fill="#ff6400"/>
<path d="M666.9 229.7 L668.1 229.7 L667.6 261.7 Z" fill="#ff7c0a"/>
<path d="M667.5 227.1 L668.7 227.1 L667.6 261.7 Z" fill="#ff7000"/>
<path d="M668.1 231.3 L668.9 231.3 L667.6 261.7 Z" fill="#ff5800"/>
<path d="M668.6 232.2 L670.0 232.3 L671.4 232.4 L672.7 232.6 L667.6 261.7 Z" fill="#ff7000"/>
<path d="M668.5 227.8 L669.7 227.8 L667.6 261.7 Z" fill="#ff7c0a"/>
<path d="M669.2 226.1 L670.5 226.2 L667.6 261.7 Z" fill="#ff7c0a"/>
<path d="M669.9 224.4 L671.4 224.6 L667.6 261.7 Z" fill="#ff7c0a"/>
<path d="M670.2 230.8 L671.4 230.9 L667.6 261.7 Z" fill="#ff6400"/>
<path d="M670.8 231.3 L672.2 231.4 L667.6 261.7 Z" fill="#ff7c0a"/>
<path d="M672.5 225.1 L674.0 225.4 L667.6 261.7 Z" fill="#ff6400"/>
<path d="M672.5 230.7 L673.3 230.9 L667.6 261.7 Z" fill="#ff7000"/>
<path d="M672.6 233.4 L673.7 233.7 L674.9 233.9 L676.0 234.3 L667.6 261.7 Z" fill="#ff7000"/>
<path d="M672.4 232.8 L673.7 233.1 L667.6 261.7 Z" fill="#ff5800"/>
<path d="M673.2 233.0 L674.3 233.3 L667.6 261.7 Z" fill="#ff7c0a"/>
<path d="M674.6 229.3 L675.8 229.6 L667.6 261.7 Z" fill="#ff7c0a"/>
<path d="M674.5 232.6 L675.5 232.9 L667.6 261.7 Z" fill="#ff5800"/>
<path d="M676.1 228.6 L677.6 229.0 L667.6 261.7 Z" fill="#ff6e04"/>
<path d="M677.7 226.5 L678.6 226.7 L667.6 261.7 Z" fill="#ff6400"/>
<path d="M678.9 222.4 L680.6 222.9 L667.6 261.7 Z" fill="#ff7c0a"/>
<path d="M680.5 220.8 L681.4 221.0 L667.6 261.7 Z" fill="#ff7000"/>
<path d="M675.5 237.5 L676.8 238.0 L678.2 238.6 L679.5 239.3 L667.6 261.7 Z" fill="#ff5800"/>
<path d="M675.4 236.9 L676.4 237.3 L667.6 261.7 Z" fill="#ff5800"/>
<path d="M676.6 235.4 L677.7 235.8 L667.6 261.7 Z" fill="#ff5800"/>
<path d="M677.9 234.1 L678.8 234.4 L667.6 261.7 Z" fill="#ff6e04"/>
<path d="M679.4 231.5 L680.4 231.9 L667.6 261.7 Z" fill="#ff6e04"/>
<path d="M679.5 232.7 L680.7 233.3 L667.6 261.7 Z" fill="#ff6400"/>
<path d="M679.9 233.8 L680.9 234.3 L667.6 261.7 Z" fill="#ff5800"/>
<path d="M679.6 235.8 L680.8 236.4 L667.6 261.7 Z" fill="#ff5800"/>
<path d="M680.8 235.1 L681.8 235.6 L667.6 261.7 Z" fill="#ff6e04"/>
<path d="M675.2 247.5 L676.4 248.2 L677.7 249.1 L678.8 250.1 L667.6 261.7 Z" fill="#ff4400"/>
<path d="M676.4 244.7 L677.2 245.1 L667.6 261.7 Z" fill="#ff4400"/>
<path d="M675.8 247.1 L676.4 247.5 L667.6 261.7 Z" fill="#ff5500"/>
<path d="M676.9 246.1 L677.5 246.4 L667.6 261.7 Z" fill="#ff4e00"/>
<path d="M677.8 245.4 L678.5 245.9 L667.6 261.7 Z" fill="#ff5500"/>
<path d="M678.5 245.2 L679.3 245.8 L667.6 261.7 Z" fill="#ff4e00"/>
<path d="M677.3 248.0 L677.9 248.5 L667.6 261.7 Z" fill="#ff5500"/>
<path d="M680.2 245.0 L680.8 245.5 L667.6 261.7 Z" fill="#ff4e00"/>
<path d="M682.3 243.0 L683.0 243.5 L667.6 261.7 Z" fill="#ff4400"/>
<path d="M680.9 245.4 L681.6 246.0 L667.6 261.7 Z" fill="#ff4e00"/>
<path d="M678.2 249.4 L678.6 249.9 L667.6 261.7 Z" fill="#ff4e00"/>
<path d="M681.7 246.1 L682.3 246.6 L667.6 261.7 Z" fill="#ff5500"/>
<path d="M683.6 244.6 L684.0 245.0 L667.6 261.7 Z" fill="#ff5500"/>
<path d="M692.0 228.8 L693.6 230.1 L667.6 261.7 Z" fill="#ff7000"/>
<path d="M658.2 248.8 L660.5 247.4 L662.9 246.4 L665.5 245.8 L668.2 245.7 L670.8 246.0 L673.3 246.8 L675.7 247.9 L677.9 249.4 L667.6 261.7 Z" fill="#ff4e00" opacity="0.55"/>
<path d="M642.1 207.4 L643.1 206.9 L653.7 230.7 L653.2 230.9 Z" fill="#fff"/>
<path d="M660.0 222.4 L660.6 222.3 L664.1 242.0 L663.8 242.1 Z" fill="#fff"/>
<path d="M671.1 221.9 L671.7 221.9 L669.9 239.8 L669.5 239.8 Z" fill="#fff"/>
<path d="M682.9 224.7 L683.5 225.0 L674.0 247.0 L673.7 246.9 Z" fill="#fff"/>
<path d="M645.1 221.6 L645.5 221.4 L651.3 231.9 L651.0 232.0 Z" fill="#fff"/>
<path d="M678.0 257.1 L678.4 258.1 L678.7 259.1 L678.9 260.1 L667.6 261.7 Z" fill="#00006e"/>
<path d="M683.2 254.6 L683.4 255.3 L667.6 261.7 Z" fill="#00006e"/>
<path d="M684.4 254.5 L684.7 255.3 L667.6 261.7 Z" fill="#00006e"/>
<path d="M681.3 256.4 L681.5 257.1 L667.6 261.7 Z" fill="#00006e"/>
<path d="M679.4 257.5 L679.6 258.0 L667.6 261.7 Z" fill="#00006e"/>
<path d="M685.3 255.9 L685.6 256.8 L667.6 261.7 Z" fill="#00006e"/>
<path d="M680.8 257.9 L681.0 258.6 L667.6 261.7 Z" fill="#00006e"/>
<path d="M682.6 257.9 L682.7 258.5 L667.6 261.7 Z" fill="#00006e"/>
<path d="M681.9 258.4 L682.1 259.2 L667.6 261.7 Z" fill="#00006e"/>
<path d="M684.8 258.4 L684.9 259.2 L667.6 261.7 Z" fill="#00006e"/>
<path d="M685.8 258.7 L685.9 259.3 L667.6 261.7 Z" fill="#00006e"/>
<path d="M685.6 247.1 L686.6 248.4 L687.5 249.8 L688.3 251.2 L667.6 261.7 Z" fill="#ee0000"/>
<path d="M685.7 246.8 L686.4 247.6 L667.6 261.7 Z" fill="#ff1a00"/>
<path d="M687.8 246.0 L688.3 246.8 L667.6 261.7 Z" fill="#ff1a00"/>
<path d="M686.3 247.7 L686.9 248.6 L667.6 261.7 Z" fill="#ee0000"/>
<path d="M687.6 247.6 L688.1 248.4 L667.6 261.7 Z" fill="#ee0000"/>
<path d="M687.6 248.2 L688.1 248.9 L667.6 261.7 Z" fill="#ee0000"/>
<path d="M687.7 248.7 L688.3 249.6 L667.6 261.7 Z" fill="#ee0000"/>
<path d="M691.2 247.4 L691.7 248.4 L667.6 261.7 Z" fill="#ee0000"/>
<path d="M691.7 247.9 L692.3 249.0 L667.6 261.7 Z" fill="#ee0000"/>
<path d="M689.6 249.9 L689.9 250.6 L667.6 261.7 Z" fill="#ff1a00"/>
<path d="M682.3 253.6 L682.5 254.0 L682.7 254.4 L682.9 254.9 L676.7 257.6 L676.6 257.4 L676.5 257.1 L676.3 256.9 Z" fill="#00006e"/>
<path d="M685.2 251.8 L685.5 252.3 L676.5 257.1 L676.3 256.8 Z" fill="#00006e"/>
<path d="M684.1 252.7 L684.4 253.3 L676.5 257.2 L676.4 256.9 Z" fill="#00006e"/>
<path d="M688.5 250.8 L689.0 251.6 L676.6 257.4 L676.5 257.1 Z" fill="#00006e"/>
<path d="M687.8 251.8 L688.2 252.6 L676.7 257.6 L676.6 257.3 Z" fill="#00006e"/>
<path d="M688.9 251.8 L689.2 252.3 L676.8 257.7 L676.7 257.5 Z" fill="#00006e"/>
<rect x="696.6" y="243.8" width="1.6" height="1.2" fill="#ee0000"/>
<rect x="702.9" y="243.4" width="1.6" height="1.2" fill="#ee0000"/>
<rect x="702.9" y="255.7" width="1.6" height="1.2" fill="#ee0000"/>
<rect x="696.6" y="247.1" width="1.6" height="1.2" fill="#ee0000"/>
<rect x="692.6" y="249.7" width="1.6" height="1.2" fill="#ee0000"/>
<path d="M624.2 267.8 L624.0 266.2 L623.8 264.6 L623.8 263.0 L667.6 261.7 Z" fill="#00006e"/>
<path d="M621.0 268.7 L620.8 267.2 L667.6 261.7 Z" fill="#00006e"/>
<path d="M620.1 268.1 L619.9 266.5 L667.6 261.7 Z" fill="#00006e"/>
<path d="M619.4 267.4 L619.3 265.8 L667.6 261.7 Z" fill="#00006e"/>
<path d="M617.8 266.8 L617.7 265.2 L667.6 261.7 Z" fill="#00006e"/>
<path d="M617.5 266.1 L617.4 264.5 L667.6 261.7 Z" fill="#00006e"/>
<path d="M620.0 265.2 L619.9 263.3 L667.6 261.7 Z" fill="#00006e"/>
<path d="M618.7 264.2 L618.6 262.7 L667.6 261.7 Z" fill="#00006e"/>
<path d="M650.1 266.1 L650.0 265.4 L649.9 264.8 L649.8 264.2 L667.6 261.7 Z" fill="#00006e"/>
<path d="M649.1 266.5 L648.9 265.8 L667.6 261.7 Z" fill="#00006e"/>
<path d="M644.6 267.2 L644.4 266.4 L667.6 261.7 Z" fill="#00006e"/>
<path d="M649.6 265.6 L649.5 264.9 L667.6 261.7 Z" fill="#00006e"/>
<path d="M649.5 265.3 L649.4 264.6 L667.6 261.7 Z" fill="#00006e"/>
<path d="M637.7 267.0 L637.5 265.7 L667.6 261.7 Z" fill="#00006e"/>
<path d="M642.9 265.5 L642.8 265.0 L667.6 261.7 Z" fill="#00006e"/>
<path d="M642.9 276.0 L642.2 274.6 L641.6 273.3 L641.0 271.9 L667.6 261.7 Z" fill="#00006e"/>
<path d="M638.7 278.7 L638.0 277.5 L667.6 261.7 Z" fill="#00006e"/>
<path d="M638.8 277.8 L638.1 276.6 L667.6 261.7 Z" fill="#00006e"/>
<path d="M637.3 277.7 L636.7 276.5 L667.6 261.7 Z" fill="#00006e"/>
<path d="M634.4 278.3 L633.8 277.1 L667.6 261.7 Z" fill="#00006e"/>
<path d="M638.3 275.6 L637.9 274.6 L667.6 261.7 Z" fill="#00006e"/>
<path d="M640.3 274.1 L639.9 273.1 L667.6 261.7 Z" fill="#00006e"/>
<path d="M639.6 273.9 L639.1 272.8 L667.6 261.7 Z" fill="#00006e"/>
<path d="M635.5 274.9 L635.1 273.9 L667.6 261.7 Z" fill="#00006e"/>
<path d="M656.4 266.0 L656.2 265.5 L656.1 265.1 L656.0 264.6 L667.6 261.7 Z" fill="#00006e"/>
<path d="M655.9 266.3 L655.7 265.8 L667.6 261.7 Z" fill="#00006e"/>
<path d="M644.1 270.3 L643.7 269.4 L667.6 261.7 Z" fill="#00006e"/>
<path d="M647.6 268.5 L647.4 267.7 L667.6 261.7 Z" fill="#00006e"/>
<path d="M650.4 267.1 L650.1 266.3 L667.6 261.7 Z" fill="#00006e"/>
<path d="M650.1 266.7 L649.9 266.0 L667.6 261.7 Z" fill="#00006e"/>
<path d="M644.5 267.8 L644.4 267.3 L667.6 261.7 Z" fill="#00006e"/>
<path d="M619.9 267.4 L619.9 267.1 L619.9 266.7 L619.8 266.4 L619.8 266.1 L631.7 265.0 L631.8 265.2 L631.8 265.5 L631.8 265.7 L631.9 266.0 Z" fill="#ee0000"/>
<path d="M645.6 263.2 L645.6 263.0 L645.6 262.9 L645.6 262.8 L645.6 262.6 L658.6 262.1 L658.6 262.1 L658.6 262.2 L658.6 262.2 L658.6 262.3 Z" fill="#ee0000"/>
<path d="M651.8 264.5 L651.8 264.3 L651.8 264.2 L651.8 264.1 L651.8 263.9 L656.7 263.2 L656.7 263.3 L656.7 263.4 L656.8 263.5 L656.8 263.6 Z" fill="#ee0000"/>
<rect x="651.8" y="255.3" width="1.3" height="1.2" fill="#ff3000"/>
<rect x="649.3" y="255.0" width="1.3" height="1.2" fill="#ff3000"/>
<rect x="646.7" y="254.7" width="1.3" height="1.2" fill="#ff3000"/>
<rect x="643.7" y="254.4" width="1.3" height="1.2" fill="#ff3000"/>
<rect x="656.3" y="255.2" width="1.3" height="1.2" fill="#ff3000"/>
<path d="M698.6 261.1 L698.6 261.4 L698.6 261.7 L698.6 262.0 L698.6 262.3 L667.6 261.7 Z" fill="#00006e"/>
<path d="M685.5 269.7 L685.0 270.7 L684.5 271.7 L683.8 272.7 L667.6 261.7 Z" fill="#0a0ae0"/>
<path d="M686.5 269.9 L686.1 270.7 L667.6 261.7 Z" fill="#1414d0"/>
<path d="M692.9 273.5 L692.4 274.5 L667.6 261.7 Z" fill="#0a0ae0"/>
<path d="M693.0 274.3 L692.4 275.4 L667.6 261.7 Z" fill="#0a0ae0"/>
<path d="M686.7 271.9 L686.3 272.6 L667.6 261.7 Z" fill="#0000c8"/>
<path d="M690.4 274.4 L689.9 275.3 L667.6 261.7 Z" fill="#0a0ae0"/>
<path d="M685.3 272.1 L684.9 272.8 L667.6 261.7 Z" fill="#0000c8"/>
<path d="M690.7 276.1 L690.1 277.1 L667.6 261.7 Z" fill="#0000c8"/>
<path d="M685.5 273.4 L685.2 273.8 L667.6 261.7 Z" fill="#0000c8"/>
<path d="M675.3 263.1 L675.1 263.7 L675.0 264.3 L674.7 264.9 L667.6 261.7 Z" fill="#1010c0"/>
<path d="M675.4 263.0 L675.3 263.4 L667.6 261.7 Z" fill="#00006e"/>
<path d="M678.8 264.0 L678.6 264.5 L667.6 261.7 Z" fill="#1010c0"/>
<path d="M678.2 264.2 L678.1 264.8 L667.6 261.7 Z" fill="#1010c0"/>
<path d="M679.9 265.1 L679.8 265.6 L667.6 261.7 Z" fill="#1010c0"/>
<path d="M679.2 265.2 L679.1 265.7 L667.6 261.7 Z" fill="#00006e"/>
<path d="M676.8 264.7 L676.6 265.2 L667.6 261.7 Z" fill="#00006e"/>
<path d="M676.0 264.8 L675.8 265.2 L667.6 261.7 Z" fill="#1010c0"/>
<path d="M675.5 265.0 L675.4 265.3 L667.6 261.7 Z" fill="#1010c0"/>
<rect x="696.2" y="278.2" width="2.2" height="1.4" fill="#0a0ae0"/>
<rect x="698.2" y="279.7" width="2.2" height="1.4" fill="#0a0ae0"/>
<rect x="700.4" y="280.8" width="2.2" height="1.4" fill="#0a0ae0"/>
<rect x="702.9" y="282.6" width="2.2" height="1.4" fill="#0a0ae0"/>
<path d="M672.9 283.1 L668.1 283.8 L663.3 283.4 L658.6 281.9 L667.6 261.7 Z" fill="#00006e"/>
<path d="M673.2 283.5 L672.4 283.7 L667.6 261.7 Z" fill="#00006e"/>
<path d="M673.6 287.2 L672.6 287.4 L667.6 261.7 Z" fill="#00006e"/>
<path d="M672.9 286.7 L671.8 286.9 L667.6 261.7 Z" fill="#00006e"/>
<path d="M672.2 286.8 L671.1 286.9 L667.6 261.7 Z" fill="#00006e"/>
<path d="M671.5 286.3 L670.5 286.4 L667.6 261.7 Z" fill="#00006e"/>
<path d="M671.2 288.3 L669.8 288.5 L667.6 261.7 Z" fill="#00006e"/>
<path d="M670.1 286.8 L668.9 286.9 L667.6 261.7 Z" fill="#00006e"/>
<path d="M669.3 287.1 L668.2 287.2 L667.6 261.7 Z" fill="#00006e"/>
<path d="M668.6 286.2 L667.3 286.2 L667.6 261.7 Z" fill="#00006e"/>
<path d="M667.8 286.5 L666.8 286.5 L667.6 261.7 Z" fill="#00006e"/>
<path d="M667.3 284.7 L666.4 284.7 L667.6 261.7 Z" fill="#00006e"/>
<path d="M666.8 284.6 L665.9 284.5 L667.6 261.7 Z" fill="#00006e"/>
<path d="M666.3 284.2 L665.1 284.1 L667.6 261.7 Z" fill="#00006e"/>
<path d="M665.2 287.1 L664.2 286.9 L667.6 261.7 Z" fill="#00006e"/>
<path d="M664.9 285.3 L663.7 285.1 L667.6 261.7 Z" fill="#00006e"/>
<path d="M664.1 285.3 L663.1 285.1 L667.6 261.7 Z" fill="#00006e"/>
<path d="M663.8 283.5 L662.7 283.3 L667.6 261.7 Z" fill="#00006e"/>
<path d="M663.0 284.2 L661.8 284.0 L667.6 261.7 Z" fill="#00006e"/>
<path d="M662.0 285.0 L661.0 284.7 L667.6 261.7 Z" fill="#00006e"/>
<path d="M661.7 283.5 L660.7 283.2 L667.6 261.7 Z" fill="#00006e"/>
<path d="M661.1 283.3 L660.2 283.0 L667.6 261.7 Z" fill="#00006e"/>
<path d="M660.4 283.6 L659.4 283.2 L667.6 261.7 Z" fill="#00006e"/>
<path d="M659.7 283.7 L658.6 283.3 L667.6 261.7 Z" fill="#00006e"/>
<path d="M658.0 285.8 L656.8 285.3 L667.6 261.7 Z" fill="#00006e"/>
<path d="M670.3 280.6 L667.4 280.8 L664.5 280.6 L661.7 279.9 L667.6 261.7 Z" fill="#ee0000"/>
<path d="M670.6 281.7 L669.8 281.8 L667.6 261.7 Z" fill="#ff1a00"/>
<path d="M670.3 283.2 L669.3 283.3 L667.6 261.7 Z" fill="#ee0000"/>
<path d="M669.7 283.2 L668.7 283.2 L667.6 261.7 Z" fill="#ee0000"/>
<path d="M669.0 281.8 L668.0 281.8 L667.6 261.7 Z" fill="#ee0000"/>
<path d="M668.3 282.0 L667.6 282.0 L667.6 261.7 Z" fill="#ff1a00"/>
<path d="M667.9 281.0 L666.9 281.0 L667.6 261.7 Z" fill="#ee0000"/>
<path d="M667.2 283.1 L666.1 283.0 L667.6 261.7 Z" fill="#ee0000"/>
<path d="M666.5 282.2 L665.7 282.1 L667.6 261.7 Z" fill="#ee0000"/>
<path d="M666.0 282.1 L665.1 282.0 L667.6 261.7 Z" fill="#ee0000"/>
<path d="M665.3 283.1 L664.3 282.9 L667.6 261.7 Z" fill="#ee0000"/>
<path d="M665.0 280.7 L664.0 280.6 L667.6 261.7 Z" fill="#ff1a00"/>
<path d="M664.2 281.3 L663.4 281.2 L667.6 261.7 Z" fill="#ee0000"/>
<path d="M663.9 280.6 L663.1 280.5 L667.6 261.7 Z" fill="#ee0000"/>
<path d="M663.4 280.4 L662.5 280.2 L667.6 261.7 Z" fill="#ee0000"/>
<path d="M662.1 283.2 L661.2 283.0 L667.6 261.7 Z" fill="#ff1a00"/>
<path d="M662.1 281.5 L661.2 281.2 L667.6 261.7 Z" fill="#ff1a00"/>
<path d="M660.9 283.2 L660.5 283.0 L667.6 261.7 Z" fill="#ff1a00"/>
<path d="M672.0 268.2 L671.2 268.6 L670.4 269.0 L669.5 269.3 L667.6 261.7 Z" fill="#00006e"/>
<path d="M674.2 271.2 L673.7 271.5 L667.6 261.7 Z" fill="#00006e"/>
<path d="M674.8 272.9 L674.3 273.2 L667.6 261.7 Z" fill="#1010c0"/>
<path d="M672.2 269.2 L671.8 269.4 L667.6 261.7 Z" fill="#1010c0"/>
<path d="M673.2 271.5 L672.8 271.7 L667.6 261.7 Z" fill="#1010c0"/>
<path d="M672.5 270.7 L672.0 271.0 L667.6 261.7 Z" fill="#1010c0"/>
<path d="M672.0 270.6 L671.6 270.8 L667.6 261.7 Z" fill="#1010c0"/>
<path d="M671.5 270.2 L671.1 270.4 L667.6 261.7 Z" fill="#1010c0"/>
<path d="M672.3 272.9 L671.8 273.1 L667.6 261.7 Z" fill="#00006e"/>
<path d="M670.9 270.3 L670.6 270.4 L667.6 261.7 Z" fill="#00006e"/>
<path d="M671.1 271.3 L670.6 271.4 L667.6 261.7 Z" fill="#1010c0"/>
<path d="M670.6 270.9 L670.3 271.0 L667.6 261.7 Z" fill="#1010c0"/>
<path d="M671.6 274.7 L671.1 274.8 L667.6 261.7 Z" fill="#1010c0"/>
<path d="M671.2 274.3 L670.7 274.4 L667.6 261.7 Z" fill="#1010c0"/>
<path d="M670.0 270.7 L669.8 270.7 L667.6 261.7 Z" fill="#00006e"/>
<path d="M666.1 265.0 L665.7 264.7 L665.2 264.4 L664.8 264.0 L663.0 265.6 L663.6 266.2 L664.4 266.8 L665.2 267.2 Z" fill="#00006e"/>
<path d="M665.8 265.8 L665.6 265.7 L664.9 267.1 L665.2 267.2 Z" fill="#00006e"/>
<path d="M662.6 272.2 L662.1 272.0 L664.8 267.0 L665.0 267.1 Z" fill="#00006e"/>
<path d="M665.5 265.8 L665.3 265.6 L664.5 266.8 L664.8 267.0 Z" fill="#00006e"/>
<path d="M664.9 266.3 L664.7 266.1 L664.3 266.7 L664.6 266.9 Z" fill="#00006e"/>
<path d="M665.0 265.8 L664.7 265.7 L664.1 266.6 L664.4 266.8 Z" fill="#00006e"/>
<path d="M662.4 269.3 L661.9 269.0 L663.9 266.4 L664.2 266.6 Z" fill="#00006e"/>
<path d="M662.2 268.9 L661.7 268.5 L663.7 266.2 L664.0 266.5 Z" fill="#00006e"/>
<path d="M661.3 269.3 L660.9 268.9 L663.5 266.1 L663.8 266.3 Z" fill="#00006e"/>
<path d="M661.1 269.0 L660.5 268.5 L663.3 265.9 L663.6 266.2 Z" fill="#00006e"/>
<path d="M662.0 267.2 L661.7 266.9 L663.1 265.7 L663.3 265.9 Z" fill="#00006e"/>
<path d="M661.1 267.7 L660.8 267.3 L663.0 265.5 L663.2 265.7 Z" fill="#00006e"/>
</g>
<circle cx="667.6" cy="261.7" r="5.1" fill="#fff"/>
<g shape-rendering="crispEdges">
<path d="M503.4 270.1 L508.0 270.1 L509.9 278.9 L508.9 288.1 L511.7 297.4 L514.5 303.8 L510.8 306.2 L506.2 299.2 L503.4 291.8 L500.1 289.1 L503.4 282.6 Z" fill="#00006e"/>
<path d="M506.7 273.4 L508.4 272.5 L510.2 278.9 L509.3 288.1 L512.1 297.4 L514.8 303.8 L512.6 305.1 L508.0 298.3 L505.6 291.8 L502.5 290.9 L505.6 286.3 L506.7 278.9 Z M527.7 302.0 L532.0 301.0 L535.1 306.6 L533.8 313.9 L529.2 317.6 L523.7 320.4 L528.8 314.9 L530.1 308.4 Z M509.9 326.5 L514.5 325.9 L519.1 328.7 L522.8 336.0 L519.1 341.2 L515.4 334.2 L512.6 329.6 Z M524.6 337.5 L529.2 337.0 L532.0 335.1 L535.6 341.6 L534.7 346.2 L532.0 347.1 L528.3 341.6 Z" fill="#ee0000"/>
<path d="M528.5 303.3 L530.7 303.3 L532.1 309.3 L530.3 315.4 L528.8 314.9 L530.1 308.4 Z M510.8 327.7 L513.5 327.7 L517.8 333.3 L520.0 338.8 L519.1 341.2 L515.4 334.2 L512.6 329.6 Z M524.6 337.5 L528.3 338.2 L532.0 343.4 L534.7 346.2 L532.0 347.1 L528.3 341.6 Z" fill="#00006e"/>
<path d="M504.3 328.3 L508.9 327.2" stroke="#00006e" stroke-width="1" fill="none"/>
<path d="M669.5 288.7 L671.6 288.3 L676.8 300.3 L682.1 305.5 L687.4 315.0 L685.9 317.1 L681.1 310.8 L676.2 305.5 L671.6 296.1 Z M688.8 321.3 L690.9 321.9 L691.8 324.9 L689.7 325.3 Z" fill="#00006e"/>
<path d="M677.5 303.8 L680.0 303.0 L684.2 310.2 L683.2 312.3 L680.0 307.6 Z M669.7 289.7 L670.9 289.3 L673.3 297.1 L676.2 303.8 L674.9 305.1 L671.6 297.1 Z M695.8 332.9 L700.0 327.6 L703.2 327.6 L704.2 331.8 L700.0 333.9 L697.9 338.2 Z M707.4 339.2 L711.6 337.5 L715.8 340.3 L716.2 343.0 L711.6 344.5 L709.9 351.8 L709.1 359.8 L706.9 357.1 L706.9 347.6 Z M720.6 347.2 L723.2 348.1 L726.7 352.3 L725.3 354.4 L722.5 351.8 Z M729.5 353.9 L732.6 347.6 L736.8 345.9 L743.2 345.1 L746.3 344.5 L747.8 347.6 L744.2 350.8 L738.5 352.3 L735.8 357.1 L734.7 361.9 L732.2 358.6 Z M728.5 236.5 L733.0 234.2 L733.5 235.4 L729.0 237.6 Z" fill="#ee0000"/>
<path d="M700.0 329.1 L703.2 328.3 L704.2 331.8 L700.6 333.3 Z M709.9 338.8 L712.6 338.2 L716.2 340.9 L716.2 343.0 L711.6 344.5 L710.5 347.6 L709.9 342.4 Z M723.2 349.7 L726.7 352.3 L725.3 354.4 L723.4 352.3 Z M734.7 349.7 L738.9 347.6 L744.2 345.5 L746.9 345.9 L744.2 350.8 L738.5 352.3 L735.8 357.1 L734.7 361.9 L733.7 356.1 Z" fill="#00006e"/>
</g>
</g>
<rect x="59.1" y="74.4" width="374.6" height="374.6" fill="none" stroke="#000" stroke-width="2"/>
<path d="M59.10 74.40 v-14.4M59.10 449.00 v14.4M59.10 74.40 h-14.4M433.70 74.40 h14.4M152.75 74.40 v-14.4M152.75 449.00 v14.4M59.10 168.05 h-14.4M433.70 168.05 h14.4M246.40 74.40 v-14.4M246.40 449.00 v14.4M59.10 261.70 h-14.4M433.70 261.70 h14.4M340.05 74.40 v-14.4M340.05 449.00 v14.4M59.10 355.35 h-14.4M433.70 355.35 h14.4M433.70 74.40 v-14.4M433.70 449.00 v14.4M59.10 449.00 h-14.4M433.70 449.00 h14.4" stroke="#000" stroke-width="2" fill="none"/>
<path d="M70.81 74.40 v-7.0M70.81 449.00 v7.0M59.10 86.11 h-7.0M433.70 86.11 h7.0M82.51 74.40 v-7.0M82.51 449.00 v7.0M59.10 97.81 h-7.0M433.70 97.81 h7.0M94.22 74.40 v-7.0M94.22 449.00 v7.0M59.10 109.52 h-7.0M433.70 109.52 h7.0M105.93 74.40 v-7.0M105.93 449.00 v7.0M59.10 121.23 h-7.0M433.70 121.23 h7.0M117.63 74.40 v-7.0M117.63 449.00 v7.0M59.10 132.93 h-7.0M433.70 132.93 h7.0M129.34 74.40 v-7.0M129.34 449.00 v7.0M59.10 144.64 h-7.0M433.70 144.64 h7.0M141.04 74.40 v-7.0M141.04 449.00 v7.0M59.10 156.34 h-7.0M433.70 156.34 h7.0M164.46 74.40 v-7.0M164.46 449.00 v7.0M59.10 179.76 h-7.0M433.70 179.76 h7.0M176.16 74.40 v-7.0M176.16 449.00 v7.0M59.10 191.46 h-7.0M433.70 191.46 h7.0M187.87 74.40 v-7.0M187.87 449.00 v7.0M59.10 203.17 h-7.0M433.70 203.17 h7.0M199.58 74.40 v-7.0M199.58 449.00 v7.0M59.10 214.88 h-7.0M433.70 214.88 h7.0M211.28 74.40 v-7.0M211.28 449.00 v7.0M59.10 226.58 h-7.0M433.70 226.58 h7.0M222.99 74.40 v-7.0M222.99 449.00 v7.0M59.10 238.29 h-7.0M433.70 238.29 h7.0M234.69 74.40 v-7.0M234.69 449.00 v7.0M59.10 249.99 h-7.0M433.70 249.99 h7.0M258.11 74.40 v-7.0M258.11 449.00 v7.0M59.10 273.41 h-7.0M433.70 273.41 h7.0M269.81 74.40 v-7.0M269.81 449.00 v7.0M59.10 285.11 h-7.0M433.70 285.11 h7.0M281.52 74.40 v-7.0M281.52 449.00 v7.0M59.10 296.82 h-7.0M433.70 296.82 h7.0M293.23 74.40 v-7.0M293.23 449.00 v7.0M59.10 308.52 h-7.0M433.70 308.52 h7.0M304.93 74.40 v-7.0M304.93 449.00 v7.0M59.10 320.23 h-7.0M433.70 320.23 h7.0M316.64 74.40 v-7.0M316.64 449.00 v7.0M59.10 331.94 h-7.0M433.70 331.94 h7.0M328.34 74.40 v-7.0M328.34 449.00 v7.0M59.10 343.64 h-7.0M433.70 343.64 h7.0M351.76 74.40 v-7.0M351.76 449.00 v7.0M59.10 367.06 h-7.0M433.70 367.06 h7.0M363.46 74.40 v-7.0M363.46 449.00 v7.0M59.10 378.76 h-7.0M433.70 378.76 h7.0M375.17 74.40 v-7.0M375.17 449.00 v7.0M59.10 390.47 h-7.0M433.70 390.47 h7.0M386.88 74.40 v-7.0M386.88 449.00 v7.0M59.10 402.18 h-7.0M433.70 402.18 h7.0M398.58 74.40 v-7.0M398.58 449.00 v7.0M59.10 413.88 h-7.0M433.70 413.88 h7.0M410.29 74.40 v-7.0M410.29 449.00 v7.0M59.10 425.59 h-7.0M433.70 425.59 h7.0M421.99 74.40 v-7.0M421.99 449.00 v7.0M59.10 437.29 h-7.0M433.70 437.29 h7.0" stroke="#000" stroke-width="1.3" fill="none"/>
<rect x="480.3" y="74.4" width="374.6" height="374.6" fill="none" stroke="#000" stroke-width="2"/>
<path d="M480.30 74.40 v-14.4M480.30 449.00 v14.4M480.30 74.40 h-14.4M854.90 74.40 h14.4M573.95 74.40 v-14.4M573.95 449.00 v14.4M480.30 168.05 h-14.4M854.90 168.05 h14.4M667.60 74.40 v-14.4M667.60 449.00 v14.4M480.30 261.70 h-14.4M854.90 261.70 h14.4M761.25 74.40 v-14.4M761.25 449.00 v14.4M480.30 355.35 h-14.4M854.90 355.35 h14.4M854.90 74.40 v-14.4M854.90 449.00 v14.4M480.30 449.00 h-14.4M854.90 449.00 h14.4" stroke="#000" stroke-width="2" fill="none"/>
<path d="M492.01 74.40 v-7.0M492.01 449.00 v7.0M480.30 86.11 h-7.0M854.90 86.11 h7.0M503.71 74.40 v-7.0M503.71 449.00 v7.0M480.30 97.81 h-7.0M854.90 97.81 h7.0M515.42 74.40 v-7.0M515.42 449.00 v7.0M480.30 109.52 h-7.0M854.90 109.52 h7.0M527.12 74.40 v-7.0M527.12 449.00 v7.0M480.30 121.23 h-7.0M854.90 121.23 h7.0M538.83 74.40 v-7.0M538.83 449.00 v7.0M480.30 132.93 h-7.0M854.90 132.93 h7.0M550.54 74.40 v-7.0M550.54 449.00 v7.0M480.30 144.64 h-7.0M854.90 144.64 h7.0M562.24 74.40 v-7.0M562.24 449.00 v7.0M480.30 156.34 h-7.0M854.90 156.34 h7.0M585.66 74.40 v-7.0M585.66 449.00 v7.0M480.30 179.76 h-7.0M854.90 179.76 h7.0M597.36 74.40 v-7.0M597.36 449.00 v7.0M480.30 191.46 h-7.0M854.90 191.46 h7.0M609.07 74.40 v-7.0M609.07 449.00 v7.0M480.30 203.17 h-7.0M854.90 203.17 h7.0M620.78 74.40 v-7.0M620.78 449.00 v7.0M480.30 214.88 h-7.0M854.90 214.88 h7.0M632.48 74.40 v-7.0M632.48 449.00 v7.0M480.30 226.58 h-7.0M854.90 226.58 h7.0M644.19 74.40 v-7.0M644.19 449.00 v7.0M480.30 238.29 h-7.0M854.90 238.29 h7.0M655.89 74.40 v-7.0M655.89 449.00 v7.0M480.30 249.99 h-7.0M854.90 249.99 h7.0M679.31 74.40 v-7.0M679.31 449.00 v7.0M480.30 273.41 h-7.0M854.90 273.41 h7.0M691.01 74.40 v-7.0M691.01 449.00 v7.0M480.30 285.11 h-7.0M854.90 285.11 h7.0M702.72 74.40 v-7.0M702.72 449.00 v7.0M480.30 296.82 h-7.0M854.90 296.82 h7.0M714.42 74.40 v-7.0M714.42 449.00 v7.0M480.30 308.52 h-7.0M854.90 308.52 h7.0M726.13 74.40 v-7.0M726.13 449.00 v7.0M480.30 320.23 h-7.0M854.90 320.23 h7.0M737.84 74.40 v-7.0M737.84 449.00 v7.0M480.30 331.94 h-7.0M854.90 331.94 h7.0M749.54 74.40 v-7.0M749.54 449.00 v7.0M480.30 343.64 h-7.0M854.90 343.64 h7.0M772.96 74.40 v-7.0M772.96 449.00 v7.0M480.30 367.06 h-7.0M854.90 367.06 h7.0M784.66 74.40 v-7.0M784.66 449.00 v7.0M480.30 378.76 h-7.0M854.90 378.76 h7.0M796.37 74.40 v-7.0M796.37 449.00 v7.0M480.30 390.47 h-7.0M854.90 390.47 h7.0M808.08 74.40 v-7.0M808.08 449.00 v7.0M480.30 402.18 h-7.0M854.90 402.18 h7.0M819.78 74.40 v-7.0M819.78 449.00 v7.0M480.30 413.88 h-7.0M854.90 413.88 h7.0M831.49 74.40 v-7.0M831.49 449.00 v7.0M480.30 425.59 h-7.0M854.90 425.59 h7.0M843.19 74.40 v-7.0M843.19 449.00 v7.0M480.30 437.29 h-7.0M854.90 437.29 h7.0" stroke="#000" stroke-width="1.3" fill="none"/>
<text x="60.0" y="24.9" font-size="35" textLength="523" lengthAdjust="spacingAndGlyphs">Fukuoka, 20181116 [21:31, el=0.0]</text>
<text x="59.3" y="58.4" font-size="28.5" textLength="119" lengthAdjust="spacingAndGlyphs">SNR [dB]</text>
<text x="480.8" y="58.4" font-size="28.5" textLength="310" lengthAdjust="spacingAndGlyphs">Doppler Velocity [m/s]</text>
<text x="59.1" y="499.3" font-size="29.6" text-anchor="middle" textLength="31.4" lengthAdjust="spacingAndGlyphs">−8</text>
<text x="152.8" y="499.3" font-size="29.6" text-anchor="middle" textLength="31.4" lengthAdjust="spacingAndGlyphs">−4</text>
<text x="246.4" y="499.3" font-size="29.6" text-anchor="middle" textLength="15.6" lengthAdjust="spacingAndGlyphs">0</text>
<text x="340.1" y="499.3" font-size="29.6" text-anchor="middle" textLength="15.6" lengthAdjust="spacingAndGlyphs">4</text>
<text x="433.7" y="499.3" font-size="29.6" text-anchor="middle" textLength="15.6" lengthAdjust="spacingAndGlyphs">8</text>
<text x="480.3" y="499.3" font-size="29.6" text-anchor="middle" textLength="31.4" lengthAdjust="spacingAndGlyphs">−8</text>
<text x="574.0" y="499.3" font-size="29.6" text-anchor="middle" textLength="31.4" lengthAdjust="spacingAndGlyphs">−4</text>
<text x="667.6" y="499.3" font-size="29.6" text-anchor="middle" textLength="15.6" lengthAdjust="spacingAndGlyphs">0</text>
<text x="761.2" y="499.3" font-size="29.6" text-anchor="middle" textLength="15.6" lengthAdjust="spacingAndGlyphs">4</text>
<text x="854.9" y="499.3" font-size="29.6" text-anchor="middle" textLength="15.6" lengthAdjust="spacingAndGlyphs">8</text>
<text x="31.2" y="84.5" font-size="29.6" text-anchor="end" textLength="15.6" lengthAdjust="spacingAndGlyphs">8</text>
<text x="31.2" y="178.0" font-size="29.6" text-anchor="end" textLength="15.6" lengthAdjust="spacingAndGlyphs">4</text>
<text x="31.2" y="271.4" font-size="29.6" text-anchor="end" textLength="15.6" lengthAdjust="spacingAndGlyphs">0</text>
<text x="31.2" y="364.9" font-size="29.6" text-anchor="end" textLength="31.4" lengthAdjust="spacingAndGlyphs">−4</text>
<text x="31.2" y="458.3" font-size="29.6" text-anchor="end" textLength="31.4" lengthAdjust="spacingAndGlyphs">−8</text>
<rect x="58.90" y="509.65" width="9.20" height="9.10" fill="#000000"/>
<rect x="68.00" y="509.65" width="9.20" height="9.10" fill="#000000"/>
<rect x="77.10" y="509.65" width="9.20" height="9.10" fill="#000000"/>
<rect x="86.20" y="509.65" width="9.20" height="9.10" fill="#000000"/>
<rect x="95.30" y="509.65" width="9.20" height="9.10" fill="#000000"/>
<rect x="104.40" y="509.65" width="9.20" height="9.10" fill="#000000"/>
<rect x="113.50" y="509.65" width="9.20" height="9.10" fill="#000000"/>
<rect x="122.60" y="509.65" width="9.20" height="9.10" fill="#000000"/>
<rect x="131.70" y="509.65" width="9.20" height="9.10" fill="#000000"/>
<rect x="140.80" y="509.65" width="9.20" height="9.10" fill="#000000"/>
<rect x="149.90" y="509.65" width="9.20" height="9.10" fill="#0a0a0a"/>
<rect x="159.00" y="509.65" width="9.20" height="9.10" fill="#131313"/>
<rect x="168.10" y="509.65" width="9.20" height="9.10" fill="#1d1d1d"/>
<rect x="177.20" y="509.65" width="9.20" height="9.10" fill="#262626"/>
<rect x="186.30" y="509.65" width="9.20" height="9.10" fill="#303030"/>
<rect x="195.40" y="509.65" width="9.20" height="9.10" fill="#3a3a3a"/>
<rect x="204.50" y="509.65" width="9.20" height="9.10" fill="#434343"/>
<rect x="213.60" y="509.65" width="9.20" height="9.10" fill="#4d4d4d"/>
<rect x="222.70" y="509.65" width="9.20" height="9.10" fill="#575757"/>
<rect x="231.80" y="509.65" width="9.20" height="9.10" fill="#606060"/>
<rect x="240.90" y="509.65" width="9.20" height="9.10" fill="#6a6a6a"/>
<rect x="250.00" y="509.65" width="9.20" height="9.10" fill="#737373"/>
<rect x="259.10" y="509.65" width="9.20" height="9.10" fill="#7d7d7d"/>
<rect x="268.20" y="509.65" width="9.20" height="9.10" fill="#878787"/>
<rect x="277.30" y="509.65" width="9.20" height="9.10" fill="#909090"/>
<rect x="286.40" y="509.65" width="9.20" height="9.10" fill="#9a9a9a"/>
<rect x="295.50" y="509.65" width="9.20" height="9.10" fill="#a3a3a3"/>
<rect x="304.60" y="509.65" width="9.20" height="9.10" fill="#adadad"/>
<rect x="313.70" y="509.65" width="9.20" height="9.10" fill="#b7b7b7"/>
<rect x="322.80" y="509.65" width="9.20" height="9.10" fill="#c0c0c0"/>
<rect x="331.90" y="509.65" width="9.20" height="9.10" fill="#cacaca"/>
<rect x="341.00" y="509.65" width="9.20" height="9.10" fill="#d4d4d4"/>
<rect x="350.10" y="509.65" width="9.20" height="9.10" fill="#dddddd"/>
<rect x="359.20" y="509.65" width="9.20" height="9.10" fill="#e7e7e7"/>
<rect x="368.30" y="509.65" width="9.20" height="9.10" fill="#f0f0f0"/>
<rect x="377.40" y="509.65" width="9.20" height="9.10" fill="#fafafa"/>
<path d="M58.90 509.65 V518.75M68.00 509.65 V518.75M77.10 509.65 V518.75M86.20 509.65 V518.75M95.30 509.65 V518.75M104.40 509.65 V518.75M113.50 509.65 V518.75M122.60 509.65 V518.75M131.70 509.65 V518.75M140.80 509.65 V518.75M149.90 509.65 V518.75M159.00 509.65 V518.75M168.10 509.65 V518.75M177.20 509.65 V518.75M186.30 509.65 V518.75M195.40 509.65 V518.75M204.50 509.65 V518.75M213.60 509.65 V518.75M222.70 509.65 V518.75M231.80 509.65 V518.75M240.90 509.65 V518.75M250.00 509.65 V518.75M259.10 509.65 V518.75M268.20 509.65 V518.75M277.30 509.65 V518.75M286.40 509.65 V518.75M295.50 509.65 V518.75M304.60 509.65 V518.75M313.70 509.65 V518.75M322.80 509.65 V518.75M331.90 509.65 V518.75M341.00 509.65 V518.75M350.10 509.65 V518.75M359.20 509.65 V518.75M368.30 509.65 V518.75M377.40 509.65 V518.75M386.50 509.65 V518.75" stroke="#000" stroke-width="1.75" fill="none"/>
<path d="M386.5 518.8 L395.1 514.2 L386.5 509.6 Z" fill="#ffee00"/>
<path d="M58.9 509.6 L58.9 518.8 L386.5 518.8 L395.1 514.2 L386.5 509.6 Z" fill="none" stroke="#000" stroke-width="1.9" stroke-linejoin="miter"/>
<path d="M58.00 509.65 H387.40 M58.00 518.75 H387.40" fill="none" stroke="#000" stroke-width="2.5"/>
<path d="M58.90 519.95 V533.7M104.40 519.95 V533.7M149.90 519.95 V533.7M195.40 519.95 V533.7M240.90 519.95 V533.7M286.40 519.95 V533.7M331.90 519.95 V533.7M377.40 519.95 V533.7" stroke="#000" stroke-width="2.3" fill="none"/>
<path d="M68.00 519.95 l0.9 0 l0 3.8 l-0.6 2.6 l-0.6 0 l-0.6 -2.6 l0 -3.8zM77.10 519.95 l0.9 0 l0 3.8 l-0.6 2.6 l-0.6 0 l-0.6 -2.6 l0 -3.8zM86.20 519.95 l0.9 0 l0 3.8 l-0.6 2.6 l-0.6 0 l-0.6 -2.6 l0 -3.8zM95.30 519.95 l0.9 0 l0 3.8 l-0.6 2.6 l-0.6 0 l-0.6 -2.6 l0 -3.8zM113.50 519.95 l0.9 0 l0 3.8 l-0.6 2.6 l-0.6 0 l-0.6 -2.6 l0 -3.8zM122.60 519.95 l0.9 0 l0 3.8 l-0.6 2.6 l-0.6 0 l-0.6 -2.6 l0 -3.8zM131.70 519.95 l0.9 0 l0 3.8 l-0.6 2.6 l-0.6 0 l-0.6 -2.6 l0 -3.8zM140.80 519.95 l0.9 0 l0 3.8 l-0.6 2.6 l-0.6 0 l-0.6 -2.6 l0 -3.8zM159.00 519.95 l0.9 0 l0 3.8 l-0.6 2.6 l-0.6 0 l-0.6 -2.6 l0 -3.8zM168.10 519.95 l0.9 0 l0 3.8 l-0.6 2.6 l-0.6 0 l-0.6 -2.6 l0 -3.8zM177.20 519.95 l0.9 0 l0 3.8 l-0.6 2.6 l-0.6 0 l-0.6 -2.6 l0 -3.8zM186.30 519.95 l0.9 0 l0 3.8 l-0.6 2.6 l-0.6 0 l-0.6 -2.6 l0 -3.8zM204.50 519.95 l0.9 0 l0 3.8 l-0.6 2.6 l-0.6 0 l-0.6 -2.6 l0 -3.8zM213.60 519.95 l0.9 0 l0 3.8 l-0.6 2.6 l-0.6 0 l-0.6 -2.6 l0 -3.8zM222.70 519.95 l0.9 0 l0 3.8 l-0.6 2.6 l-0.6 0 l-0.6 -2.6 l0 -3.8zM231.80 519.95 l0.9 0 l0 3.8 l-0.6 2.6 l-0.6 0 l-0.6 -2.6 l0 -3.8zM250.00 519.95 l0.9 0 l0 3.8 l-0.6 2.6 l-0.6 0 l-0.6 -2.6 l0 -3.8zM259.10 519.95 l0.9 0 l0 3.8 l-0.6 2.6 l-0.6 0 l-0.6 -2.6 l0 -3.8zM268.20 519.95 l0.9 0 l0 3.8 l-0.6 2.6 l-0.6 0 l-0.6 -2.6 l0 -3.8zM277.30 519.95 l0.9 0 l0 3.8 l-0.6 2.6 l-0.6 0 l-0.6 -2.6 l0 -3.8zM295.50 519.95 l0.9 0 l0 3.8 l-0.6 2.6 l-0.6 0 l-0.6 -2.6 l0 -3.8zM304.60 519.95 l0.9 0 l0 3.8 l-0.6 2.6 l-0.6 0 l-0.6 -2.6 l0 -3.8zM313.70 519.95 l0.9 0 l0 3.8 l-0.6 2.6 l-0.6 0 l-0.6 -2.6 l0 -3.8zM322.80 519.95 l0.9 0 l0 3.8 l-0.6 2.6 l-0.6 0 l-0.6 -2.6 l0 -3.8zM341.00 519.95 l0.9 0 l0 3.8 l-0.6 2.6 l-0.6 0 l-0.6 -2.6 l0 -3.8zM350.10 519.95 l0.9 0 l0 3.8 l-0.6 2.6 l-0.6 0 l-0.6 -2.6 l0 -3.8zM359.20 519.95 l0.9 0 l0 3.8 l-0.6 2.6 l-0.6 0 l-0.6 -2.6 l0 -3.8zM368.30 519.95 l0.9 0 l0 3.8 l-0.6 2.6 l-0.6 0 l-0.6 -2.6 l0 -3.8zM386.50 519.95 l0.9 0 l0 3.8 l-0.6 2.6 l-0.6 0 l-0.6 -2.6 l0 -3.8z" fill="#000"/>
<text x="58.9" y="569.3" font-size="29.6" text-anchor="middle" textLength="15.6" lengthAdjust="spacingAndGlyphs">0</text>
<text x="104.4" y="569.3" font-size="29.6" text-anchor="middle" textLength="39.1" lengthAdjust="spacingAndGlyphs">2.5</text>
<text x="149.9" y="569.3" font-size="29.6" text-anchor="middle" textLength="15.6" lengthAdjust="spacingAndGlyphs">5</text>
<text x="195.4" y="569.3" font-size="29.6" text-anchor="middle" textLength="39.1" lengthAdjust="spacingAndGlyphs">7.5</text>
<text x="240.9" y="569.3" font-size="29.6" text-anchor="middle" textLength="32.9" lengthAdjust="spacingAndGlyphs">10</text>
<text x="286.4" y="569.3" font-size="29.6" text-anchor="middle" textLength="54.7" lengthAdjust="spacingAndGlyphs">12.5</text>
<text x="331.9" y="569.3" font-size="29.6" text-anchor="middle" textLength="32.9" lengthAdjust="spacingAndGlyphs">15</text>
<text x="377.4" y="569.3" font-size="29.6" text-anchor="middle" textLength="54.7" lengthAdjust="spacingAndGlyphs">17.5</text>
<rect x="480.98" y="509.65" width="8.67" height="9.10" fill="#d9ffff"/>
<rect x="489.55" y="509.65" width="8.67" height="9.10" fill="#c0ffff"/>
<rect x="498.12" y="509.65" width="8.67" height="9.10" fill="#a6ffff"/>
<rect x="506.70" y="509.65" width="8.67" height="9.10" fill="#8cfffd"/>
<rect x="515.27" y="509.65" width="8.67" height="9.10" fill="#73fbfd"/>
<rect x="523.85" y="509.65" width="8.67" height="9.10" fill="#4de8fa"/>
<rect x="532.43" y="509.65" width="8.67" height="9.10" fill="#33c8f5"/>
<rect x="541.00" y="509.65" width="8.67" height="9.10" fill="#26adf2"/>
<rect x="549.58" y="509.65" width="8.67" height="9.10" fill="#1a94f0"/>
<rect x="558.15" y="509.65" width="8.67" height="9.10" fill="#0a70ff"/>
<rect x="566.73" y="509.65" width="8.67" height="9.10" fill="#0066ff"/>
<rect x="575.30" y="509.65" width="8.67" height="9.10" fill="#0055ff"/>
<rect x="583.88" y="509.65" width="8.67" height="9.10" fill="#0040f0"/>
<rect x="592.45" y="509.65" width="8.67" height="9.10" fill="#0010ff"/>
<rect x="601.02" y="509.65" width="8.67" height="9.10" fill="#0000ff"/>
<rect x="609.60" y="509.65" width="8.67" height="9.10" fill="#0000dd"/>
<rect x="618.17" y="509.65" width="8.67" height="9.10" fill="#0000aa"/>
<rect x="626.75" y="509.65" width="8.67" height="9.10" fill="#000090"/>
<rect x="635.33" y="509.65" width="8.67" height="9.10" fill="#000070"/>
<rect x="643.90" y="509.65" width="8.67" height="9.10" fill="#ee0000"/>
<rect x="652.48" y="509.65" width="8.67" height="9.10" fill="#ff1000"/>
<rect x="661.05" y="509.65" width="8.67" height="9.10" fill="#ff3000"/>
<rect x="669.62" y="509.65" width="8.67" height="9.10" fill="#ff4000"/>
<rect x="678.20" y="509.65" width="8.67" height="9.10" fill="#ff6000"/>
<rect x="686.77" y="509.65" width="8.67" height="9.10" fill="#ff7800"/>
<rect x="695.35" y="509.65" width="8.67" height="9.10" fill="#ff8c00"/>
<rect x="703.92" y="509.65" width="8.67" height="9.10" fill="#ffa518"/>
<rect x="712.50" y="509.65" width="8.67" height="9.10" fill="#ffb828"/>
<rect x="721.08" y="509.65" width="8.67" height="9.10" fill="#ffc030"/>
<rect x="729.65" y="509.65" width="8.67" height="9.10" fill="#ffe040"/>
<rect x="738.23" y="509.65" width="8.67" height="9.10" fill="#ffd835"/>
<rect x="746.80" y="509.65" width="8.67" height="9.10" fill="#ffff55"/>
<rect x="755.38" y="509.65" width="8.67" height="9.10" fill="#ffff70"/>
<rect x="763.95" y="509.65" width="8.67" height="9.10" fill="#ffff80"/>
<rect x="772.52" y="509.65" width="8.67" height="9.10" fill="#ffff90"/>
<rect x="781.10" y="509.65" width="8.67" height="9.10" fill="#ffffa8"/>
<rect x="789.67" y="509.65" width="8.67" height="9.10" fill="#ffffc0"/>
<rect x="798.25" y="509.65" width="8.67" height="9.10" fill="#ffffd4"/>
<path d="M480.98 509.65 V518.75M489.55 509.65 V518.75M498.12 509.65 V518.75M506.70 509.65 V518.75M515.27 509.65 V518.75M523.85 509.65 V518.75M532.43 509.65 V518.75M541.00 509.65 V518.75M549.58 509.65 V518.75M558.15 509.65 V518.75M566.73 509.65 V518.75M575.30 509.65 V518.75M583.88 509.65 V518.75M592.45 509.65 V518.75M601.02 509.65 V518.75M609.60 509.65 V518.75M618.17 509.65 V518.75M626.75 509.65 V518.75M635.33 509.65 V518.75M643.90 509.65 V518.75M652.48 509.65 V518.75M661.05 509.65 V518.75M669.62 509.65 V518.75M678.20 509.65 V518.75M686.77 509.65 V518.75M695.35 509.65 V518.75M703.92 509.65 V518.75M712.50 509.65 V518.75M721.08 509.65 V518.75M729.65 509.65 V518.75M738.23 509.65 V518.75M746.80 509.65 V518.75M755.38 509.65 V518.75M763.95 509.65 V518.75M772.52 509.65 V518.75M781.10 509.65 V518.75M789.67 509.65 V518.75M798.25 509.65 V518.75M806.83 509.65 V518.75" stroke="#000" stroke-width="1.75" fill="none"/>
<path d="M481.0 509.6 L472.4 514.2 L481.0 518.8 Z" fill="#e8ffff"/>
<path d="M806.8 518.8 L815.4 514.2 L806.8 509.6 Z" fill="#ffffe6"/>
<path d="M481.0 509.6 L472.4 514.2 L481.0 518.8 L806.8 518.8 L815.4 514.2 L806.8 509.6 Z" fill="none" stroke="#000" stroke-width="1.9" stroke-linejoin="miter"/>
<path d="M480.08 509.65 H807.73 M480.08 518.75 H807.73" fill="none" stroke="#000" stroke-width="2.5"/>
<path d="M506.70 519.95 V533.7M575.30 519.95 V533.7M643.90 519.95 V533.7M712.50 519.95 V533.7M781.10 519.95 V533.7" stroke="#000" stroke-width="2.3" fill="none"/>
<path d="M480.98 519.95 l0.9 0 l0 3.8 l-0.6 2.6 l-0.6 0 l-0.6 -2.6 l0 -3.8zM489.55 519.95 l0.9 0 l0 3.8 l-0.6 2.6 l-0.6 0 l-0.6 -2.6 l0 -3.8zM498.12 519.95 l0.9 0 l0 3.8 l-0.6 2.6 l-0.6 0 l-0.6 -2.6 l0 -3.8zM515.27 519.95 l0.9 0 l0 3.8 l-0.6 2.6 l-0.6 0 l-0.6 -2.6 l0 -3.8zM523.85 519.95 l0.9 0 l0 3.8 l-0.6 2.6 l-0.6 0 l-0.6 -2.6 l0 -3.8zM532.43 519.95 l0.9 0 l0 3.8 l-0.6 2.6 l-0.6 0 l-0.6 -2.6 l0 -3.8zM541.00 519.95 l0.9 0 l0 3.8 l-0.6 2.6 l-0.6 0 l-0.6 -2.6 l0 -3.8zM549.58 519.95 l0.9 0 l0 3.8 l-0.6 2.6 l-0.6 0 l-0.6 -2.6 l0 -3.8zM558.15 519.95 l0.9 0 l0 3.8 l-0.6 2.6 l-0.6 0 l-0.6 -2.6 l0 -3.8zM566.73 519.95 l0.9 0 l0 3.8 l-0.6 2.6 l-0.6 0 l-0.6 -2.6 l0 -3.8zM583.88 519.95 l0.9 0 l0 3.8 l-0.6 2.6 l-0.6 0 l-0.6 -2.6 l0 -3.8zM592.45 519.95 l0.9 0 l0 3.8 l-0.6 2.6 l-0.6 0 l-0.6 -2.6 l0 -3.8zM601.02 519.95 l0.9 0 l0 3.8 l-0.6 2.6 l-0.6 0 l-0.6 -2.6 l0 -3.8zM609.60 519.95 l0.9 0 l0 3.8 l-0.6 2.6 l-0.6 0 l-0.6 -2.6 l0 -3.8zM618.17 519.95 l0.9 0 l0 3.8 l-0.6 2.6 l-0.6 0 l-0.6 -2.6 l0 -3.8zM626.75 519.95 l0.9 0 l0 3.8 l-0.6 2.6 l-0.6 0 l-0.6 -2.6 l0 -3.8zM635.33 519.95 l0.9 0 l0 3.8 l-0.6 2.6 l-0.6 0 l-0.6 -2.6 l0 -3.8zM652.48 519.95 l0.9 0 l0 3.8 l-0.6 2.6 l-0.6 0 l-0.6 -2.6 l0 -3.8zM661.05 519.95 l0.9 0 l0 3.8 l-0.6 2.6 l-0.6 0 l-0.6 -2.6 l0 -3.8zM669.62 519.95 l0.9 0 l0 3.8 l-0.6 2.6 l-0.6 0 l-0.6 -2.6 l0 -3.8zM678.20 519.95 l0.9 0 l0 3.8 l-0.6 2.6 l-0.6 0 l-0.6 -2.6 l0 -3.8zM686.77 519.95 l0.9 0 l0 3.8 l-0.6 2.6 l-0.6 0 l-0.6 -2.6 l0 -3.8zM695.35 519.95 l0.9 0 l0 3.8 l-0.6 2.6 l-0.6 0 l-0.6 -2.6 l0 -3.8zM703.92 519.95 l0.9 0 l0 3.8 l-0.6 2.6 l-0.6 0 l-0.6 -2.6 l0 -3.8zM721.08 519.95 l0.9 0 l0 3.8 l-0.6 2.6 l-0.6 0 l-0.6 -2.6 l0 -3.8zM729.65 519.95 l0.9 0 l0 3.8 l-0.6 2.6 l-0.6 0 l-0.6 -2.6 l0 -3.8zM738.23 519.95 l0.9 0 l0 3.8 l-0.6 2.6 l-0.6 0 l-0.6 -2.6 l0 -3.8zM746.80 519.95 l0.9 0 l0 3.8 l-0.6 2.6 l-0.6 0 l-0.6 -2.6 l0 -3.8zM755.38 519.95 l0.9 0 l0 3.8 l-0.6 2.6 l-0.6 0 l-0.6 -2.6 l0 -3.8zM763.95 519.95 l0.9 0 l0 3.8 l-0.6 2.6 l-0.6 0 l-0.6 -2.6 l0 -3.8zM772.52 519.95 l0.9 0 l0 3.8 l-0.6 2.6 l-0.6 0 l-0.6 -2.6 l0 -3.8zM789.67 519.95 l0.9 0 l0 3.8 l-0.6 2.6 l-0.6 0 l-0.6 -2.6 l0 -3.8zM798.25 519.95 l0.9 0 l0 3.8 l-0.6 2.6 l-0.6 0 l-0.6 -2.6 l0 -3.8zM806.83 519.95 l0.9 0 l0 3.8 l-0.6 2.6 l-0.6 0 l-0.6 -2.6 l0 -3.8z" fill="#000"/>
<text x="506.7" y="569.3" font-size="29.6" text-anchor="middle" textLength="31.4" lengthAdjust="spacingAndGlyphs">−8</text>
<text x="575.3" y="569.3" font-size="29.6" text-anchor="middle" textLength="31.4" lengthAdjust="spacingAndGlyphs">−4</text>
<text x="643.9" y="569.3" font-size="29.6" text-anchor="middle" textLength="15.6" lengthAdjust="spacingAndGlyphs">0</text>
<text x="712.5" y="569.3" font-size="29.6" text-anchor="middle" textLength="15.6" lengthAdjust="spacingAndGlyphs">4</text>
<text x="781.1" y="569.3" font-size="29.6" text-anchor="middle" textLength="15.6" lengthAdjust="spacingAndGlyphs">8</text>
</svg></body></html>
